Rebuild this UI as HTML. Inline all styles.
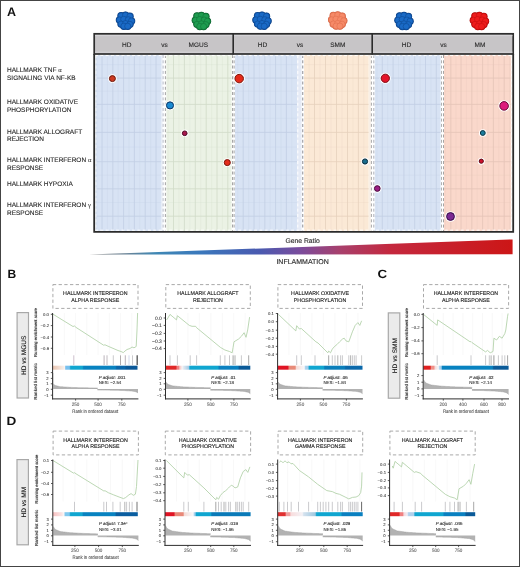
<!DOCTYPE html>
<html><head><meta charset="utf-8"><style>
html,body{margin:0;padding:0;background:#fff;}
svg{display:block;font-family:"Liberation Sans", sans-serif;will-change:transform;text-rendering:geometricPrecision;}
</style></head><body>
<svg width="520" height="567" viewBox="0 0 520 567">
<rect width="520" height="567" fill="#fff"/>
<defs><linearGradient id="wg" x1="89" y1="0" x2="513" y2="0" gradientUnits="userSpaceOnUse"><stop offset="0" stop-color="#6a6a6a"/><stop offset="0.09" stop-color="#6a8498"/><stop offset="0.155" stop-color="#4088b4"/><stop offset="0.262" stop-color="#3a78bc"/><stop offset="0.403" stop-color="#4a5ab0"/><stop offset="0.498" stop-color="#7a4c9c"/><stop offset="0.592" stop-color="#a8406c"/><stop offset="0.710" stop-color="#c4283e"/><stop offset="1" stop-color="#cc1616"/></linearGradient></defs>
<text x="7" y="16.2" font-size="12.5" text-anchor="start" font-weight="bold" font-style="normal" fill="#111">A</text>
<g fill="#0a3c80">
<circle cx="121.10" cy="15.75" r="3.75"/>
<circle cx="125.50" cy="15.25" r="3.75"/>
<circle cx="129.90" cy="16.35" r="3.75"/>
<circle cx="119.50" cy="19.95" r="3.75"/>
<circle cx="123.70" cy="19.25" r="3.75"/>
<circle cx="128.30" cy="19.75" r="3.75"/>
<circle cx="131.50" cy="20.95" r="3.75"/>
<circle cx="121.10" cy="24.05" r="3.75"/>
<circle cx="125.50" cy="23.55" r="3.75"/>
<circle cx="129.90" cy="24.35" r="3.75"/>
<circle cx="123.90" cy="26.15" r="3.75"/>
<circle cx="127.70" cy="26.25" r="3.75"/>
</g>
<g fill="#1a6ac6" stroke="#0f4f9c" stroke-width="0.7">
<circle cx="121.10" cy="15.75" r="3.05"/>
<circle cx="125.50" cy="15.25" r="3.05"/>
<circle cx="129.90" cy="16.35" r="3.05"/>
<circle cx="119.50" cy="19.95" r="3.05"/>
<circle cx="123.70" cy="19.25" r="3.05"/>
<circle cx="128.30" cy="19.75" r="3.05"/>
<circle cx="131.50" cy="20.95" r="3.05"/>
<circle cx="121.10" cy="24.05" r="3.05"/>
<circle cx="125.50" cy="23.55" r="3.05"/>
<circle cx="129.90" cy="24.35" r="3.05"/>
<circle cx="123.90" cy="26.15" r="3.05"/>
<circle cx="127.70" cy="26.25" r="3.05"/>
</g>
<g fill="#0b5a2a">
<circle cx="197.00" cy="16.00" r="3.75"/>
<circle cx="201.40" cy="15.50" r="3.75"/>
<circle cx="205.80" cy="16.60" r="3.75"/>
<circle cx="195.40" cy="20.20" r="3.75"/>
<circle cx="199.60" cy="19.50" r="3.75"/>
<circle cx="204.20" cy="20.00" r="3.75"/>
<circle cx="207.40" cy="21.20" r="3.75"/>
<circle cx="197.00" cy="24.30" r="3.75"/>
<circle cx="201.40" cy="23.80" r="3.75"/>
<circle cx="205.80" cy="24.60" r="3.75"/>
<circle cx="199.80" cy="26.40" r="3.75"/>
<circle cx="203.60" cy="26.50" r="3.75"/>
</g>
<g fill="#1e9c50" stroke="#127a3c" stroke-width="0.7">
<circle cx="197.00" cy="16.00" r="3.05"/>
<circle cx="201.40" cy="15.50" r="3.05"/>
<circle cx="205.80" cy="16.60" r="3.05"/>
<circle cx="195.40" cy="20.20" r="3.05"/>
<circle cx="199.60" cy="19.50" r="3.05"/>
<circle cx="204.20" cy="20.00" r="3.05"/>
<circle cx="207.40" cy="21.20" r="3.05"/>
<circle cx="197.00" cy="24.30" r="3.05"/>
<circle cx="201.40" cy="23.80" r="3.05"/>
<circle cx="205.80" cy="24.60" r="3.05"/>
<circle cx="199.80" cy="26.40" r="3.05"/>
<circle cx="203.60" cy="26.50" r="3.05"/>
</g>
<g fill="#0a3c80">
<circle cx="257.60" cy="15.70" r="3.75"/>
<circle cx="262.00" cy="15.20" r="3.75"/>
<circle cx="266.40" cy="16.30" r="3.75"/>
<circle cx="256.00" cy="19.90" r="3.75"/>
<circle cx="260.20" cy="19.20" r="3.75"/>
<circle cx="264.80" cy="19.70" r="3.75"/>
<circle cx="268.00" cy="20.90" r="3.75"/>
<circle cx="257.60" cy="24.00" r="3.75"/>
<circle cx="262.00" cy="23.50" r="3.75"/>
<circle cx="266.40" cy="24.30" r="3.75"/>
<circle cx="260.40" cy="26.10" r="3.75"/>
<circle cx="264.20" cy="26.20" r="3.75"/>
</g>
<g fill="#1a6ac6" stroke="#0f4f9c" stroke-width="0.7">
<circle cx="257.60" cy="15.70" r="3.05"/>
<circle cx="262.00" cy="15.20" r="3.05"/>
<circle cx="266.40" cy="16.30" r="3.05"/>
<circle cx="256.00" cy="19.90" r="3.05"/>
<circle cx="260.20" cy="19.20" r="3.05"/>
<circle cx="264.80" cy="19.70" r="3.05"/>
<circle cx="268.00" cy="20.90" r="3.05"/>
<circle cx="257.60" cy="24.00" r="3.05"/>
<circle cx="262.00" cy="23.50" r="3.05"/>
<circle cx="266.40" cy="24.30" r="3.05"/>
<circle cx="260.40" cy="26.10" r="3.05"/>
<circle cx="264.20" cy="26.20" r="3.05"/>
</g>
<g fill="#d0603f">
<circle cx="333.30" cy="15.60" r="3.75"/>
<circle cx="337.70" cy="15.10" r="3.75"/>
<circle cx="342.10" cy="16.20" r="3.75"/>
<circle cx="331.70" cy="19.80" r="3.75"/>
<circle cx="335.90" cy="19.10" r="3.75"/>
<circle cx="340.50" cy="19.60" r="3.75"/>
<circle cx="343.70" cy="20.80" r="3.75"/>
<circle cx="333.30" cy="23.90" r="3.75"/>
<circle cx="337.70" cy="23.40" r="3.75"/>
<circle cx="342.10" cy="24.20" r="3.75"/>
<circle cx="336.10" cy="26.00" r="3.75"/>
<circle cx="339.90" cy="26.10" r="3.75"/>
</g>
<g fill="#f68a68" stroke="#e47252" stroke-width="0.7">
<circle cx="333.30" cy="15.60" r="3.05"/>
<circle cx="337.70" cy="15.10" r="3.05"/>
<circle cx="342.10" cy="16.20" r="3.05"/>
<circle cx="331.70" cy="19.80" r="3.05"/>
<circle cx="335.90" cy="19.10" r="3.05"/>
<circle cx="340.50" cy="19.60" r="3.05"/>
<circle cx="343.70" cy="20.80" r="3.05"/>
<circle cx="333.30" cy="23.90" r="3.05"/>
<circle cx="337.70" cy="23.40" r="3.05"/>
<circle cx="342.10" cy="24.20" r="3.05"/>
<circle cx="336.10" cy="26.00" r="3.05"/>
<circle cx="339.90" cy="26.10" r="3.05"/>
</g>
<g fill="#0a3c80">
<circle cx="399.60" cy="16.00" r="3.75"/>
<circle cx="404.00" cy="15.50" r="3.75"/>
<circle cx="408.40" cy="16.60" r="3.75"/>
<circle cx="398.00" cy="20.20" r="3.75"/>
<circle cx="402.20" cy="19.50" r="3.75"/>
<circle cx="406.80" cy="20.00" r="3.75"/>
<circle cx="410.00" cy="21.20" r="3.75"/>
<circle cx="399.60" cy="24.30" r="3.75"/>
<circle cx="404.00" cy="23.80" r="3.75"/>
<circle cx="408.40" cy="24.60" r="3.75"/>
<circle cx="402.40" cy="26.40" r="3.75"/>
<circle cx="406.20" cy="26.50" r="3.75"/>
</g>
<g fill="#1a6ac6" stroke="#0f4f9c" stroke-width="0.7">
<circle cx="399.60" cy="16.00" r="3.05"/>
<circle cx="404.00" cy="15.50" r="3.05"/>
<circle cx="408.40" cy="16.60" r="3.05"/>
<circle cx="398.00" cy="20.20" r="3.05"/>
<circle cx="402.20" cy="19.50" r="3.05"/>
<circle cx="406.80" cy="20.00" r="3.05"/>
<circle cx="410.00" cy="21.20" r="3.05"/>
<circle cx="399.60" cy="24.30" r="3.05"/>
<circle cx="404.00" cy="23.80" r="3.05"/>
<circle cx="408.40" cy="24.60" r="3.05"/>
<circle cx="402.40" cy="26.40" r="3.05"/>
<circle cx="406.20" cy="26.50" r="3.05"/>
</g>
<g fill="#a80808">
<circle cx="475.00" cy="16.00" r="3.75"/>
<circle cx="479.40" cy="15.50" r="3.75"/>
<circle cx="483.80" cy="16.60" r="3.75"/>
<circle cx="473.40" cy="20.20" r="3.75"/>
<circle cx="477.60" cy="19.50" r="3.75"/>
<circle cx="482.20" cy="20.00" r="3.75"/>
<circle cx="485.40" cy="21.20" r="3.75"/>
<circle cx="475.00" cy="24.30" r="3.75"/>
<circle cx="479.40" cy="23.80" r="3.75"/>
<circle cx="483.80" cy="24.60" r="3.75"/>
<circle cx="477.80" cy="26.40" r="3.75"/>
<circle cx="481.60" cy="26.50" r="3.75"/>
</g>
<g fill="#ee1c1c" stroke="#cc1010" stroke-width="0.7">
<circle cx="475.00" cy="16.00" r="3.05"/>
<circle cx="479.40" cy="15.50" r="3.05"/>
<circle cx="483.80" cy="16.60" r="3.05"/>
<circle cx="473.40" cy="20.20" r="3.05"/>
<circle cx="477.60" cy="19.50" r="3.05"/>
<circle cx="482.20" cy="20.00" r="3.05"/>
<circle cx="485.40" cy="21.20" r="3.05"/>
<circle cx="475.00" cy="24.30" r="3.05"/>
<circle cx="479.40" cy="23.80" r="3.05"/>
<circle cx="483.80" cy="24.60" r="3.05"/>
<circle cx="477.80" cy="26.40" r="3.05"/>
<circle cx="481.60" cy="26.50" r="3.05"/>
</g>
<rect x="94" y="54" width="419" height="178" fill="#ffffff"/>
<rect x="297" y="55" width="4.6" height="176" fill="#e6ebf6"/>
<rect x="368.6" y="55" width="2.2" height="176" fill="#f8efe6"/>
<rect x="161.2" y="55" width="1.3" height="176" fill="#e8edf7"/>
<rect x="95.5" y="55" width="65.69999999999999" height="176" fill="#d8e3f4"/>
<line x1="107.4" y1="55" x2="107.4" y2="231" stroke="#c2cee4" stroke-width="0.45" stroke-opacity="0.55"/>
<line x1="118.19999999999999" y1="55" x2="118.19999999999999" y2="231" stroke="#c2cee4" stroke-width="0.45" stroke-opacity="0.55"/>
<line x1="129.0" y1="55" x2="129.0" y2="231" stroke="#c2cee4" stroke-width="0.45" stroke-opacity="0.55"/>
<line x1="139.8" y1="55" x2="139.8" y2="231" stroke="#c2cee4" stroke-width="0.45" stroke-opacity="0.55"/>
<line x1="150.6" y1="55" x2="150.6" y2="231" stroke="#c2cee4" stroke-width="0.45" stroke-opacity="0.55"/>
<line x1="96.6" y1="55" x2="96.6" y2="231" stroke="#c2cee4" stroke-width="0.45" stroke-opacity="0.55"/>
<line x1="95.5" y1="91.25" x2="161.2" y2="91.25" stroke="#c2cee4" stroke-width="0.45" stroke-opacity="0.5"/>
<line x1="95.5" y1="118.4" x2="161.2" y2="118.4" stroke="#c2cee4" stroke-width="0.45" stroke-opacity="0.5"/>
<line x1="95.5" y1="147.05" x2="161.2" y2="147.05" stroke="#c2cee4" stroke-width="0.45" stroke-opacity="0.5"/>
<line x1="95.5" y1="175.25" x2="161.2" y2="175.25" stroke="#c2cee4" stroke-width="0.45" stroke-opacity="0.5"/>
<line x1="95.5" y1="202.5" x2="161.2" y2="202.5" stroke="#c2cee4" stroke-width="0.45" stroke-opacity="0.5"/>
<line x1="95.5" y1="64.6" x2="161.2" y2="64.6" stroke="#c2cee4" stroke-width="0.45" stroke-opacity="0.5"/>
<line x1="102" y1="55" x2="102" y2="231" stroke="#c2cee4" stroke-width="0.8"/>
<line x1="112.8" y1="55" x2="112.8" y2="231" stroke="#c2cee4" stroke-width="0.8"/>
<line x1="123.6" y1="55" x2="123.6" y2="231" stroke="#c2cee4" stroke-width="0.8"/>
<line x1="134.4" y1="55" x2="134.4" y2="231" stroke="#c2cee4" stroke-width="0.8"/>
<line x1="145.2" y1="55" x2="145.2" y2="231" stroke="#c2cee4" stroke-width="0.8"/>
<line x1="156" y1="55" x2="156" y2="231" stroke="#c2cee4" stroke-width="0.8"/>
<line x1="95.5" y1="78.1" x2="161.2" y2="78.1" stroke="#c2cee4" stroke-width="0.8"/>
<line x1="95.5" y1="104.4" x2="161.2" y2="104.4" stroke="#c2cee4" stroke-width="0.8"/>
<line x1="95.5" y1="132.4" x2="161.2" y2="132.4" stroke="#c2cee4" stroke-width="0.8"/>
<line x1="95.5" y1="161.7" x2="161.2" y2="161.7" stroke="#c2cee4" stroke-width="0.8"/>
<line x1="95.5" y1="188.8" x2="161.2" y2="188.8" stroke="#c2cee4" stroke-width="0.8"/>
<line x1="95.5" y1="216.2" x2="161.2" y2="216.2" stroke="#c2cee4" stroke-width="0.8"/>
<rect x="166.3" y="55" width="65.29999999999998" height="176" fill="#ebf2e5"/>
<line x1="178.95" y1="55" x2="178.95" y2="231" stroke="#d0dbc8" stroke-width="0.45" stroke-opacity="0.55"/>
<line x1="189.85000000000002" y1="55" x2="189.85000000000002" y2="231" stroke="#d0dbc8" stroke-width="0.45" stroke-opacity="0.55"/>
<line x1="200.75" y1="55" x2="200.75" y2="231" stroke="#d0dbc8" stroke-width="0.45" stroke-opacity="0.55"/>
<line x1="211.6" y1="55" x2="211.6" y2="231" stroke="#d0dbc8" stroke-width="0.45" stroke-opacity="0.55"/>
<line x1="222.4" y1="55" x2="222.4" y2="231" stroke="#d0dbc8" stroke-width="0.45" stroke-opacity="0.55"/>
<line x1="168.1" y1="55" x2="168.1" y2="231" stroke="#d0dbc8" stroke-width="0.45" stroke-opacity="0.55"/>
<line x1="166.3" y1="91.25" x2="231.6" y2="91.25" stroke="#d0dbc8" stroke-width="0.45" stroke-opacity="0.5"/>
<line x1="166.3" y1="118.4" x2="231.6" y2="118.4" stroke="#d0dbc8" stroke-width="0.45" stroke-opacity="0.5"/>
<line x1="166.3" y1="147.05" x2="231.6" y2="147.05" stroke="#d0dbc8" stroke-width="0.45" stroke-opacity="0.5"/>
<line x1="166.3" y1="175.25" x2="231.6" y2="175.25" stroke="#d0dbc8" stroke-width="0.45" stroke-opacity="0.5"/>
<line x1="166.3" y1="202.5" x2="231.6" y2="202.5" stroke="#d0dbc8" stroke-width="0.45" stroke-opacity="0.5"/>
<line x1="166.3" y1="64.6" x2="231.6" y2="64.6" stroke="#d0dbc8" stroke-width="0.45" stroke-opacity="0.5"/>
<line x1="173.5" y1="55" x2="173.5" y2="231" stroke="#d0dbc8" stroke-width="0.8"/>
<line x1="184.4" y1="55" x2="184.4" y2="231" stroke="#d0dbc8" stroke-width="0.8"/>
<line x1="195.3" y1="55" x2="195.3" y2="231" stroke="#d0dbc8" stroke-width="0.8"/>
<line x1="206.2" y1="55" x2="206.2" y2="231" stroke="#d0dbc8" stroke-width="0.8"/>
<line x1="217" y1="55" x2="217" y2="231" stroke="#d0dbc8" stroke-width="0.8"/>
<line x1="227.8" y1="55" x2="227.8" y2="231" stroke="#d0dbc8" stroke-width="0.8"/>
<line x1="166.3" y1="78.1" x2="231.6" y2="78.1" stroke="#d0dbc8" stroke-width="0.8"/>
<line x1="166.3" y1="104.4" x2="231.6" y2="104.4" stroke="#d0dbc8" stroke-width="0.8"/>
<line x1="166.3" y1="132.4" x2="231.6" y2="132.4" stroke="#d0dbc8" stroke-width="0.8"/>
<line x1="166.3" y1="161.7" x2="231.6" y2="161.7" stroke="#d0dbc8" stroke-width="0.8"/>
<line x1="166.3" y1="188.8" x2="231.6" y2="188.8" stroke="#d0dbc8" stroke-width="0.8"/>
<line x1="166.3" y1="216.2" x2="231.6" y2="216.2" stroke="#d0dbc8" stroke-width="0.8"/>
<rect x="235" y="55" width="62" height="176" fill="#d8e3f4"/>
<line x1="248.6" y1="55" x2="248.6" y2="231" stroke="#c2cee4" stroke-width="0.45" stroke-opacity="0.55"/>
<line x1="259.4" y1="55" x2="259.4" y2="231" stroke="#c2cee4" stroke-width="0.45" stroke-opacity="0.55"/>
<line x1="270.20000000000005" y1="55" x2="270.20000000000005" y2="231" stroke="#c2cee4" stroke-width="0.45" stroke-opacity="0.55"/>
<line x1="281.0" y1="55" x2="281.0" y2="231" stroke="#c2cee4" stroke-width="0.45" stroke-opacity="0.55"/>
<line x1="237.79999999999998" y1="55" x2="237.79999999999998" y2="231" stroke="#c2cee4" stroke-width="0.45" stroke-opacity="0.55"/>
<line x1="291.79999999999995" y1="55" x2="291.79999999999995" y2="231" stroke="#c2cee4" stroke-width="0.45" stroke-opacity="0.55"/>
<line x1="235" y1="91.25" x2="297" y2="91.25" stroke="#c2cee4" stroke-width="0.45" stroke-opacity="0.5"/>
<line x1="235" y1="118.4" x2="297" y2="118.4" stroke="#c2cee4" stroke-width="0.45" stroke-opacity="0.5"/>
<line x1="235" y1="147.05" x2="297" y2="147.05" stroke="#c2cee4" stroke-width="0.45" stroke-opacity="0.5"/>
<line x1="235" y1="175.25" x2="297" y2="175.25" stroke="#c2cee4" stroke-width="0.45" stroke-opacity="0.5"/>
<line x1="235" y1="202.5" x2="297" y2="202.5" stroke="#c2cee4" stroke-width="0.45" stroke-opacity="0.5"/>
<line x1="235" y1="64.6" x2="297" y2="64.6" stroke="#c2cee4" stroke-width="0.45" stroke-opacity="0.5"/>
<line x1="243.2" y1="55" x2="243.2" y2="231" stroke="#c2cee4" stroke-width="0.8"/>
<line x1="254" y1="55" x2="254" y2="231" stroke="#c2cee4" stroke-width="0.8"/>
<line x1="264.8" y1="55" x2="264.8" y2="231" stroke="#c2cee4" stroke-width="0.8"/>
<line x1="275.6" y1="55" x2="275.6" y2="231" stroke="#c2cee4" stroke-width="0.8"/>
<line x1="286.4" y1="55" x2="286.4" y2="231" stroke="#c2cee4" stroke-width="0.8"/>
<line x1="235" y1="78.1" x2="297" y2="78.1" stroke="#c2cee4" stroke-width="0.8"/>
<line x1="235" y1="104.4" x2="297" y2="104.4" stroke="#c2cee4" stroke-width="0.8"/>
<line x1="235" y1="132.4" x2="297" y2="132.4" stroke="#c2cee4" stroke-width="0.8"/>
<line x1="235" y1="161.7" x2="297" y2="161.7" stroke="#c2cee4" stroke-width="0.8"/>
<line x1="235" y1="188.8" x2="297" y2="188.8" stroke="#c2cee4" stroke-width="0.8"/>
<line x1="235" y1="216.2" x2="297" y2="216.2" stroke="#c2cee4" stroke-width="0.8"/>
<rect x="304" y="55" width="64.60000000000002" height="176" fill="#fbe9d6"/>
<line x1="320.0" y1="55" x2="320.0" y2="231" stroke="#e6d0bc" stroke-width="0.45" stroke-opacity="0.55"/>
<line x1="331.0" y1="55" x2="331.0" y2="231" stroke="#e6d0bc" stroke-width="0.45" stroke-opacity="0.55"/>
<line x1="342.0" y1="55" x2="342.0" y2="231" stroke="#e6d0bc" stroke-width="0.45" stroke-opacity="0.55"/>
<line x1="352.95" y1="55" x2="352.95" y2="231" stroke="#e6d0bc" stroke-width="0.45" stroke-opacity="0.55"/>
<line x1="309.1" y1="55" x2="309.1" y2="231" stroke="#e6d0bc" stroke-width="0.45" stroke-opacity="0.55"/>
<line x1="363.79999999999995" y1="55" x2="363.79999999999995" y2="231" stroke="#e6d0bc" stroke-width="0.45" stroke-opacity="0.55"/>
<line x1="304" y1="91.25" x2="368.6" y2="91.25" stroke="#e6d0bc" stroke-width="0.45" stroke-opacity="0.5"/>
<line x1="304" y1="118.4" x2="368.6" y2="118.4" stroke="#e6d0bc" stroke-width="0.45" stroke-opacity="0.5"/>
<line x1="304" y1="147.05" x2="368.6" y2="147.05" stroke="#e6d0bc" stroke-width="0.45" stroke-opacity="0.5"/>
<line x1="304" y1="175.25" x2="368.6" y2="175.25" stroke="#e6d0bc" stroke-width="0.45" stroke-opacity="0.5"/>
<line x1="304" y1="202.5" x2="368.6" y2="202.5" stroke="#e6d0bc" stroke-width="0.45" stroke-opacity="0.5"/>
<line x1="304" y1="64.6" x2="368.6" y2="64.6" stroke="#e6d0bc" stroke-width="0.45" stroke-opacity="0.5"/>
<line x1="314.5" y1="55" x2="314.5" y2="231" stroke="#e6d0bc" stroke-width="0.8"/>
<line x1="325.5" y1="55" x2="325.5" y2="231" stroke="#e6d0bc" stroke-width="0.8"/>
<line x1="336.5" y1="55" x2="336.5" y2="231" stroke="#e6d0bc" stroke-width="0.8"/>
<line x1="347.5" y1="55" x2="347.5" y2="231" stroke="#e6d0bc" stroke-width="0.8"/>
<line x1="358.4" y1="55" x2="358.4" y2="231" stroke="#e6d0bc" stroke-width="0.8"/>
<line x1="304" y1="78.1" x2="368.6" y2="78.1" stroke="#e6d0bc" stroke-width="0.8"/>
<line x1="304" y1="104.4" x2="368.6" y2="104.4" stroke="#e6d0bc" stroke-width="0.8"/>
<line x1="304" y1="132.4" x2="368.6" y2="132.4" stroke="#e6d0bc" stroke-width="0.8"/>
<line x1="304" y1="161.7" x2="368.6" y2="161.7" stroke="#e6d0bc" stroke-width="0.8"/>
<line x1="304" y1="188.8" x2="368.6" y2="188.8" stroke="#e6d0bc" stroke-width="0.8"/>
<line x1="304" y1="216.2" x2="368.6" y2="216.2" stroke="#e6d0bc" stroke-width="0.8"/>
<rect x="374.8" y="55" width="65.80000000000001" height="176" fill="#d8e3f4"/>
<line x1="387.70000000000005" y1="55" x2="387.70000000000005" y2="231" stroke="#c2cee4" stroke-width="0.45" stroke-opacity="0.55"/>
<line x1="398.5" y1="55" x2="398.5" y2="231" stroke="#c2cee4" stroke-width="0.45" stroke-opacity="0.55"/>
<line x1="409.29999999999995" y1="55" x2="409.29999999999995" y2="231" stroke="#c2cee4" stroke-width="0.45" stroke-opacity="0.55"/>
<line x1="420.1" y1="55" x2="420.1" y2="231" stroke="#c2cee4" stroke-width="0.45" stroke-opacity="0.55"/>
<line x1="430.9" y1="55" x2="430.9" y2="231" stroke="#c2cee4" stroke-width="0.45" stroke-opacity="0.55"/>
<line x1="376.90000000000003" y1="55" x2="376.90000000000003" y2="231" stroke="#c2cee4" stroke-width="0.45" stroke-opacity="0.55"/>
<line x1="374.8" y1="91.25" x2="440.6" y2="91.25" stroke="#c2cee4" stroke-width="0.45" stroke-opacity="0.5"/>
<line x1="374.8" y1="118.4" x2="440.6" y2="118.4" stroke="#c2cee4" stroke-width="0.45" stroke-opacity="0.5"/>
<line x1="374.8" y1="147.05" x2="440.6" y2="147.05" stroke="#c2cee4" stroke-width="0.45" stroke-opacity="0.5"/>
<line x1="374.8" y1="175.25" x2="440.6" y2="175.25" stroke="#c2cee4" stroke-width="0.45" stroke-opacity="0.5"/>
<line x1="374.8" y1="202.5" x2="440.6" y2="202.5" stroke="#c2cee4" stroke-width="0.45" stroke-opacity="0.5"/>
<line x1="374.8" y1="64.6" x2="440.6" y2="64.6" stroke="#c2cee4" stroke-width="0.45" stroke-opacity="0.5"/>
<line x1="382.3" y1="55" x2="382.3" y2="231" stroke="#c2cee4" stroke-width="0.8"/>
<line x1="393.1" y1="55" x2="393.1" y2="231" stroke="#c2cee4" stroke-width="0.8"/>
<line x1="403.9" y1="55" x2="403.9" y2="231" stroke="#c2cee4" stroke-width="0.8"/>
<line x1="414.7" y1="55" x2="414.7" y2="231" stroke="#c2cee4" stroke-width="0.8"/>
<line x1="425.5" y1="55" x2="425.5" y2="231" stroke="#c2cee4" stroke-width="0.8"/>
<line x1="436.3" y1="55" x2="436.3" y2="231" stroke="#c2cee4" stroke-width="0.8"/>
<line x1="374.8" y1="78.1" x2="440.6" y2="78.1" stroke="#c2cee4" stroke-width="0.8"/>
<line x1="374.8" y1="104.4" x2="440.6" y2="104.4" stroke="#c2cee4" stroke-width="0.8"/>
<line x1="374.8" y1="132.4" x2="440.6" y2="132.4" stroke="#c2cee4" stroke-width="0.8"/>
<line x1="374.8" y1="161.7" x2="440.6" y2="161.7" stroke="#c2cee4" stroke-width="0.8"/>
<line x1="374.8" y1="188.8" x2="440.6" y2="188.8" stroke="#c2cee4" stroke-width="0.8"/>
<line x1="374.8" y1="216.2" x2="440.6" y2="216.2" stroke="#c2cee4" stroke-width="0.8"/>
<rect x="444" y="55" width="67" height="176" fill="#fad8cb"/>
<line x1="455.9" y1="55" x2="455.9" y2="231" stroke="#e4c4b8" stroke-width="0.45" stroke-opacity="0.55"/>
<line x1="466.4" y1="55" x2="466.4" y2="231" stroke="#e4c4b8" stroke-width="0.45" stroke-opacity="0.55"/>
<line x1="477.20000000000005" y1="55" x2="477.20000000000005" y2="231" stroke="#e4c4b8" stroke-width="0.45" stroke-opacity="0.55"/>
<line x1="488.0" y1="55" x2="488.0" y2="231" stroke="#e4c4b8" stroke-width="0.45" stroke-opacity="0.55"/>
<line x1="498.79999999999995" y1="55" x2="498.79999999999995" y2="231" stroke="#e4c4b8" stroke-width="0.45" stroke-opacity="0.55"/>
<line x1="445.40000000000003" y1="55" x2="445.40000000000003" y2="231" stroke="#e4c4b8" stroke-width="0.45" stroke-opacity="0.55"/>
<line x1="509.59999999999997" y1="55" x2="509.59999999999997" y2="231" stroke="#e4c4b8" stroke-width="0.45" stroke-opacity="0.55"/>
<line x1="444" y1="91.25" x2="511" y2="91.25" stroke="#e4c4b8" stroke-width="0.45" stroke-opacity="0.5"/>
<line x1="444" y1="118.4" x2="511" y2="118.4" stroke="#e4c4b8" stroke-width="0.45" stroke-opacity="0.5"/>
<line x1="444" y1="147.05" x2="511" y2="147.05" stroke="#e4c4b8" stroke-width="0.45" stroke-opacity="0.5"/>
<line x1="444" y1="175.25" x2="511" y2="175.25" stroke="#e4c4b8" stroke-width="0.45" stroke-opacity="0.5"/>
<line x1="444" y1="202.5" x2="511" y2="202.5" stroke="#e4c4b8" stroke-width="0.45" stroke-opacity="0.5"/>
<line x1="444" y1="64.6" x2="511" y2="64.6" stroke="#e4c4b8" stroke-width="0.45" stroke-opacity="0.5"/>
<line x1="450.8" y1="55" x2="450.8" y2="231" stroke="#e4c4b8" stroke-width="0.8"/>
<line x1="461" y1="55" x2="461" y2="231" stroke="#e4c4b8" stroke-width="0.8"/>
<line x1="471.8" y1="55" x2="471.8" y2="231" stroke="#e4c4b8" stroke-width="0.8"/>
<line x1="482.6" y1="55" x2="482.6" y2="231" stroke="#e4c4b8" stroke-width="0.8"/>
<line x1="493.4" y1="55" x2="493.4" y2="231" stroke="#e4c4b8" stroke-width="0.8"/>
<line x1="504.2" y1="55" x2="504.2" y2="231" stroke="#e4c4b8" stroke-width="0.8"/>
<line x1="444" y1="78.1" x2="511" y2="78.1" stroke="#e4c4b8" stroke-width="0.8"/>
<line x1="444" y1="104.4" x2="511" y2="104.4" stroke="#e4c4b8" stroke-width="0.8"/>
<line x1="444" y1="132.4" x2="511" y2="132.4" stroke="#e4c4b8" stroke-width="0.8"/>
<line x1="444" y1="161.7" x2="511" y2="161.7" stroke="#e4c4b8" stroke-width="0.8"/>
<line x1="444" y1="188.8" x2="511" y2="188.8" stroke="#e4c4b8" stroke-width="0.8"/>
<line x1="444" y1="216.2" x2="511" y2="216.2" stroke="#e4c4b8" stroke-width="0.8"/>
<line x1="163.1" y1="55" x2="163.1" y2="231" stroke="#b8bdc9" stroke-width="1" stroke-dasharray="3 2.3"/>
<line x1="165.4" y1="55" x2="165.4" y2="231" stroke="#a4a4a4" stroke-width="1" stroke-dasharray="3 2.3"/>
<line x1="232.6" y1="55" x2="232.6" y2="231" stroke="#a6a6a6" stroke-width="1.2" stroke-dasharray="3 2.3"/>
<line x1="234.2" y1="55" x2="234.2" y2="231" stroke="#b0b0b0" stroke-width="1" stroke-dasharray="3 2.3"/>
<line x1="297.8" y1="55" x2="297.8" y2="231" stroke="#ffffff" stroke-width="1" stroke-dasharray="3 2.3"/>
<line x1="302.7" y1="55" x2="302.7" y2="231" stroke="#a0a2a8" stroke-width="1.2" stroke-dasharray="3 2.3"/>
<line x1="371.4" y1="55" x2="371.4" y2="231" stroke="#a8a8a8" stroke-width="1" stroke-dasharray="3 2.3"/>
<line x1="373.8" y1="55" x2="373.8" y2="231" stroke="#aeb0b8" stroke-width="1" stroke-dasharray="3 2.3"/>
<line x1="441.5" y1="55" x2="441.5" y2="231" stroke="#b0b0b0" stroke-width="1" stroke-dasharray="3 2.3"/>
<line x1="443.5" y1="55" x2="443.5" y2="231" stroke="#a4a4a4" stroke-width="1" stroke-dasharray="3 2.3"/>
<line x1="95.8" y1="55" x2="95.8" y2="231" stroke="#ffffff" stroke-width="1" stroke-dasharray="3 2.3"/>
<line x1="511.3" y1="55" x2="511.3" y2="231" stroke="#fbf4ee" stroke-width="1" stroke-dasharray="3 2.3"/>
<line x1="95" y1="230.2" x2="512" y2="230.2" stroke="#ffffff" stroke-width="1" stroke-dasharray="3 2.3"/>
<line x1="95" y1="55.6" x2="512" y2="55.6" stroke="#ffffff" stroke-width="1" stroke-dasharray="3 2.3"/>
<path d="M94.2,54 V231.8 H513.2 V54" fill="none" stroke="#2b2b2b" stroke-width="1.8"/>
<rect x="94.2" y="33.8" width="419" height="20.2" fill="#c7c5c7" stroke="#2e2e2e" stroke-width="1.7"/>
<line x1="95" y1="35.6" x2="512.4" y2="35.6" stroke="#d6d4d8" stroke-width="1"/>
<line x1="95" y1="52.2" x2="512.4" y2="52.2" stroke="#d6d4d8" stroke-width="1"/>
<line x1="233.2" y1="33" x2="233.2" y2="54.5" stroke="#2b2b2b" stroke-width="1.6"/>
<line x1="372.2" y1="33" x2="372.2" y2="54.5" stroke="#2b2b2b" stroke-width="1.6"/>
<text x="126.8" y="46.8" font-size="6.5" text-anchor="middle" font-weight="normal" font-style="normal" fill="#2a2a2a" stroke="#2a2a2a" stroke-width="0.117">HD</text>
<text x="164.6" y="46.8" font-size="6.5" text-anchor="middle" font-weight="normal" font-style="normal" fill="#2a2a2a" stroke="#2a2a2a" stroke-width="0.117">vs</text>
<text x="198.3" y="46.8" font-size="6.5" text-anchor="middle" font-weight="normal" font-style="normal" fill="#2a2a2a" stroke="#2a2a2a" stroke-width="0.117">MGUS</text>
<text x="262.5" y="46.8" font-size="6.5" text-anchor="middle" font-weight="normal" font-style="normal" fill="#2a2a2a" stroke="#2a2a2a" stroke-width="0.117">HD</text>
<text x="300" y="46.8" font-size="6.5" text-anchor="middle" font-weight="normal" font-style="normal" fill="#2a2a2a" stroke="#2a2a2a" stroke-width="0.117">vs</text>
<text x="337.8" y="46.8" font-size="6.5" text-anchor="middle" font-weight="normal" font-style="normal" fill="#2a2a2a" stroke="#2a2a2a" stroke-width="0.117">SMM</text>
<text x="406.5" y="46.8" font-size="6.5" text-anchor="middle" font-weight="normal" font-style="normal" fill="#2a2a2a" stroke="#2a2a2a" stroke-width="0.117">HD</text>
<text x="443.5" y="46.8" font-size="6.5" text-anchor="middle" font-weight="normal" font-style="normal" fill="#2a2a2a" stroke="#2a2a2a" stroke-width="0.117">vs</text>
<text x="480" y="46.8" font-size="6.5" text-anchor="middle" font-weight="normal" font-style="normal" fill="#2a2a2a" stroke="#2a2a2a" stroke-width="0.117">MM</text>
<text x="7" y="72.4" font-size="6.5" text-anchor="start" font-weight="normal" font-style="normal" fill="#2a2a2a" stroke="#2a2a2a" stroke-width="0.117">HALLMARK TNF <tspan font-family="Liberation Serif" fill="#555">&#945;</tspan></text>
<text x="7" y="80.2" font-size="6.5" text-anchor="start" font-weight="normal" font-style="normal" fill="#2a2a2a" stroke="#2a2a2a" stroke-width="0.117">SIGNALING VIA NF-KB</text>
<text x="7" y="104.0" font-size="6.5" text-anchor="start" font-weight="normal" font-style="normal" fill="#2a2a2a" stroke="#2a2a2a" stroke-width="0.117">HALLMARK OXIDATIVE</text>
<text x="7" y="111.8" font-size="6.5" text-anchor="start" font-weight="normal" font-style="normal" fill="#2a2a2a" stroke="#2a2a2a" stroke-width="0.117">PHOSPHORYLATION</text>
<text x="7" y="133.6" font-size="6.5" text-anchor="start" font-weight="normal" font-style="normal" fill="#2a2a2a" stroke="#2a2a2a" stroke-width="0.117">HALLMARK ALLOGRAFT</text>
<text x="7" y="141.4" font-size="6.5" text-anchor="start" font-weight="normal" font-style="normal" fill="#2a2a2a" stroke="#2a2a2a" stroke-width="0.117">REJECTION</text>
<text x="7" y="162.4" font-size="6.5" text-anchor="start" font-weight="normal" font-style="normal" fill="#2a2a2a" stroke="#2a2a2a" stroke-width="0.117">HALLMARK INTERFERON <tspan font-family="Liberation Serif" fill="#555">&#945;</tspan></text>
<text x="7" y="170.20000000000002" font-size="6.5" text-anchor="start" font-weight="normal" font-style="normal" fill="#2a2a2a" stroke="#2a2a2a" stroke-width="0.117">RESPONSE</text>
<text x="7" y="186.1" font-size="6.5" text-anchor="start" font-weight="normal" font-style="normal" fill="#2a2a2a" stroke="#2a2a2a" stroke-width="0.117">HALLMARK HYPOXIA</text>
<text x="7" y="206.8" font-size="6.5" text-anchor="start" font-weight="normal" font-style="normal" fill="#2a2a2a" stroke="#2a2a2a" stroke-width="0.117">HALLMARK INTERFERON <tspan font-family="Liberation Serif" fill="#555">&#947;</tspan></text>
<text x="7" y="214.60000000000002" font-size="6.5" text-anchor="start" font-weight="normal" font-style="normal" fill="#2a2a2a" stroke="#2a2a2a" stroke-width="0.117">RESPONSE</text>
<circle cx="112.4" cy="78.6" r="4.4" fill="#ffffff"/>
<circle cx="112.4" cy="78.6" r="3.0" fill="#cc3a22" stroke="#6a180c" stroke-width="1.0"/>
<circle cx="239.2" cy="78.6" r="5.65" fill="#ffffff"/>
<circle cx="239.2" cy="78.6" r="4.25" fill="#e42a1a" stroke="#7a140a" stroke-width="1.0"/>
<circle cx="385.3" cy="78.3" r="5.550000000000001" fill="#ffffff"/>
<circle cx="385.3" cy="78.3" r="4.15" fill="#e4142a" stroke="#7a0a14" stroke-width="1.0"/>
<circle cx="170.0" cy="105.4" r="4.949999999999999" fill="#ffffff"/>
<circle cx="170.0" cy="105.4" r="3.55" fill="#1a8ad2" stroke="#0a3462" stroke-width="1.0"/>
<circle cx="504.1" cy="105.9" r="5.699999999999999" fill="#ffffff"/>
<circle cx="504.1" cy="105.9" r="4.3" fill="#dc1c7c" stroke="#6a0a36" stroke-width="1.0"/>
<circle cx="184.7" cy="133.3" r="3.75" fill="#ffffff"/>
<circle cx="184.7" cy="133.3" r="2.35" fill="#a8184e" stroke="#500a26" stroke-width="1.0"/>
<circle cx="482.8" cy="133.0" r="3.85" fill="#ffffff"/>
<circle cx="482.8" cy="133.0" r="2.45" fill="#1a7c9c" stroke="#0a3444" stroke-width="1.0"/>
<circle cx="227.3" cy="162.6" r="4.449999999999999" fill="#ffffff"/>
<circle cx="227.3" cy="162.6" r="3.05" fill="#e42c1c" stroke="#7a1408" stroke-width="1.0"/>
<circle cx="365.0" cy="161.5" r="4.0" fill="#ffffff"/>
<circle cx="365.0" cy="161.5" r="2.6" fill="#1a6c8c" stroke="#0a2c3c" stroke-width="1.0"/>
<circle cx="481.3" cy="161.2" r="3.5" fill="#ffffff"/>
<circle cx="481.3" cy="161.2" r="2.1" fill="#cc102c" stroke="#600814" stroke-width="1.0"/>
<circle cx="377.3" cy="188.5" r="4.25" fill="#ffffff"/>
<circle cx="377.3" cy="188.5" r="2.85" fill="#9c2084" stroke="#46083c" stroke-width="1.0"/>
<circle cx="450.5" cy="216.5" r="5.3" fill="#ffffff"/>
<circle cx="450.5" cy="216.5" r="3.9" fill="#7c2a94" stroke="#360a44" stroke-width="1.0"/>
<polygon points="89.00,254.60 512.60,239.40 512.60,254.20" fill="url(#wg)"/>
<text x="302.6" y="242.8" font-size="6.8" text-anchor="middle" font-weight="normal" font-style="normal" fill="#2a2a2a" stroke="#2a2a2a" stroke-width="0.122">Gene Ratio</text>
<text x="302.6" y="263.6" font-size="7.0" text-anchor="middle" font-weight="normal" font-style="normal" fill="#2a2a2a" stroke="#2a2a2a" stroke-width="0.126">INFLAMMATION</text>
<text x="7.4" y="278.2" font-size="12" text-anchor="start" font-weight="bold" font-style="normal" fill="#111">B</text>
<text x="377.4" y="278.2" font-size="12" text-anchor="start" font-weight="bold" font-style="normal" fill="#111" textLength="9.6" lengthAdjust="spacingAndGlyphs">C</text>
<text x="6.6" y="424.6" font-size="12" text-anchor="start" font-weight="bold" font-style="normal" fill="#111" textLength="9.8" lengthAdjust="spacingAndGlyphs">D</text>
<rect x="17.1" y="312.6" width="11.399999999999999" height="85.39999999999998" fill="#ebebeb" stroke="#a8a8a8" stroke-width="1.2"/>
<text x="25.900000000000002" y="355.3" font-size="6.6" text-anchor="middle" font-weight="normal" font-style="normal" fill="#1a1a1a" stroke="#1a1a1a" stroke-width="0.1" transform="rotate(-90 25.900000000000002 355.3)">HD vs MGUS</text>
<rect x="388.3" y="312.9" width="11.5" height="85.30000000000001" fill="#ebebeb" stroke="#a8a8a8" stroke-width="1.2"/>
<text x="397.15000000000003" y="355.54999999999995" font-size="6.6" text-anchor="middle" font-weight="normal" font-style="normal" fill="#1a1a1a" stroke="#1a1a1a" stroke-width="0.1" transform="rotate(-90 397.15000000000003 355.54999999999995)">HD vs SMM</text>
<rect x="17.0" y="459.6" width="11.399999999999999" height="85.19999999999993" fill="#ebebeb" stroke="#a8a8a8" stroke-width="1.2"/>
<text x="25.8" y="502.2" font-size="6.6" text-anchor="middle" font-weight="normal" font-style="normal" fill="#1a1a1a" stroke="#1a1a1a" stroke-width="0.1" transform="rotate(-90 25.8 502.2)">HD vs MM</text>
<rect x="52.9" y="284.6" width="85.10000000000001" height="23.8" fill="none" stroke="#9a9a9a" stroke-width="0.85" stroke-dasharray="3.3 2.4"/>
<text x="95.3" y="295.2" font-size="5.3" text-anchor="middle" font-weight="normal" font-style="normal" fill="#222" stroke="#222" stroke-width="0.12">HALLMARK INTERFERON</text>
<text x="95.3" y="301.6" font-size="5.3" text-anchor="middle" font-weight="normal" font-style="normal" fill="#222" stroke="#222" stroke-width="0.12">ALPHA RESPONSE</text>
<line x1="64.35" y1="313" x2="64.35" y2="355" stroke="#f6f6f6" stroke-width="0.8"/>
<line x1="75.6" y1="313" x2="75.6" y2="355" stroke="#f6f6f6" stroke-width="0.8"/>
<line x1="86.85" y1="313" x2="86.85" y2="355" stroke="#f6f6f6" stroke-width="0.8"/>
<line x1="98.1" y1="313" x2="98.1" y2="355" stroke="#f6f6f6" stroke-width="0.8"/>
<line x1="109.35" y1="313" x2="109.35" y2="355" stroke="#f6f6f6" stroke-width="0.8"/>
<line x1="120.6" y1="313" x2="120.6" y2="355" stroke="#f6f6f6" stroke-width="0.8"/>
<line x1="131.85" y1="313" x2="131.85" y2="355" stroke="#f6f6f6" stroke-width="0.8"/>
<line x1="50.800000000000004" y1="314.3" x2="52.6" y2="314.3" stroke="#333" stroke-width="0.8"/>
<text x="49.0" y="315.83" font-size="4.25" text-anchor="end" font-weight="normal" font-style="normal" fill="#3a3a3a" stroke="#3a3a3a" stroke-width="0.076">0.0</text>
<line x1="50.800000000000004" y1="325.6" x2="52.6" y2="325.6" stroke="#333" stroke-width="0.8"/>
<text x="49.0" y="327.13" font-size="4.25" text-anchor="end" font-weight="normal" font-style="normal" fill="#3a3a3a" stroke="#3a3a3a" stroke-width="0.076">&#8722;0.2</text>
<line x1="50.800000000000004" y1="337.0" x2="52.6" y2="337.0" stroke="#333" stroke-width="0.8"/>
<text x="49.0" y="338.53" font-size="4.25" text-anchor="end" font-weight="normal" font-style="normal" fill="#3a3a3a" stroke="#3a3a3a" stroke-width="0.076">&#8722;0.4</text>
<line x1="50.800000000000004" y1="348.3" x2="52.6" y2="348.3" stroke="#333" stroke-width="0.8"/>
<text x="49.0" y="349.83" font-size="4.25" text-anchor="end" font-weight="normal" font-style="normal" fill="#3a3a3a" stroke="#3a3a3a" stroke-width="0.076">&#8722;0.6</text>
<polyline points="53.00,314.20 73.00,326.50 74.50,326.00 76.00,327.40 103.60,345.20 105.00,344.80 108.00,346.20 118.00,350.50 121.00,351.50 123.30,352.60 125.00,351.00 127.00,349.50 130.00,348.50 132.00,347.00 134.00,347.80 136.20,346.50 137.00,330.00 137.60,313.00" fill="none" stroke="#b0d0a6" stroke-width="0.85" stroke-linejoin="round"/>
<line x1="73.8" y1="355.3" x2="73.8" y2="365" stroke="#c0b0c0" stroke-width="0.8"/>
<line x1="104.1" y1="355.3" x2="104.1" y2="365" stroke="#a8a0a8" stroke-width="0.8"/>
<line x1="107" y1="355.3" x2="107" y2="365" stroke="#b0a8b0" stroke-width="0.8"/>
<line x1="113.3" y1="355.3" x2="113.3" y2="365" stroke="#bcbcc0" stroke-width="0.8"/>
<line x1="120.5" y1="355.3" x2="120.5" y2="365" stroke="#a09898" stroke-width="0.8"/>
<line x1="125.3" y1="355.3" x2="125.3" y2="365" stroke="#a8a0a8" stroke-width="0.8"/>
<line x1="129" y1="355.3" x2="129" y2="365" stroke="#c8d0e8" stroke-width="0.8"/>
<line x1="132.5" y1="355.3" x2="132.5" y2="365" stroke="#bcbcc0" stroke-width="0.8"/>
<line x1="136.9" y1="355.3" x2="136.9" y2="365" stroke="#585858" stroke-width="0.8"/>
<line x1="137.5" y1="355.3" x2="137.5" y2="365" stroke="#585858" stroke-width="0.8"/>
<linearGradient id="cb428" gradientUnits="userSpaceOnUse" x1="52.6" x2="137.5" y1="0" y2="0"><stop offset="0.0000" stop-color="#eac4b0"/><stop offset="0.1260" stop-color="#f6ece6"/><stop offset="0.1382" stop-color="#fbf2ee"/><stop offset="0.1421" stop-color="#fbf2ee"/><stop offset="0.1543" stop-color="#78c0ee"/><stop offset="0.1967" stop-color="#78c0ee"/><stop offset="0.2132" stop-color="#10a6d0"/><stop offset="0.3498" stop-color="#10a6d0"/><stop offset="0.3663" stop-color="#0882c0"/><stop offset="0.7385" stop-color="#0882c0"/><stop offset="0.7550" stop-color="#0a66aa"/><stop offset="0.8504" stop-color="#0a66aa"/><stop offset="0.8669" stop-color="#0a5898"/><stop offset="1.0000" stop-color="#0a5898"/></linearGradient>
<rect x="52.6" y="365.7" width="84.9" height="4.0" fill="url(#cb428)"/>
<polygon points="53.10,389.00 53.10,373.00 53.10,383.67 53.12,383.69 53.16,383.73 53.22,383.79 53.29,383.86 53.38,383.95 53.47,384.04 53.57,384.15 53.69,384.26 53.81,384.38 53.94,384.51 54.07,384.65 54.22,384.80 54.37,384.96 54.53,385.04 54.70,385.12 54.87,385.21 55.05,385.29 55.24,385.38 55.44,385.48 55.64,385.57 55.84,385.63 56.05,385.68 56.27,385.74 56.49,385.79 56.72,385.85 56.96,385.91 57.20,385.97 57.44,386.03 57.69,386.09 57.95,386.15 58.21,386.21 58.48,386.28 58.75,386.35 59.03,386.41 59.31,386.48 59.59,386.55 59.88,386.63 60.18,386.66 60.48,386.68 60.79,386.70 61.10,386.73 61.41,386.75 61.73,386.77 62.05,386.80 62.38,386.82 62.71,386.84 63.05,386.87 63.39,386.89 63.73,386.92 64.08,386.94 64.44,386.97 64.79,386.99 65.16,387.02 65.52,387.05 65.89,387.07 66.27,387.10 66.64,387.13 67.03,387.16 67.41,387.18 67.80,387.21 68.20,387.24 68.60,387.27 69.00,387.30 69.40,387.33 69.81,387.34 70.23,387.36 70.64,387.37 71.06,387.39 71.49,387.40 71.92,387.42 72.35,387.43 72.78,387.45 73.22,387.46 73.67,387.48 74.11,387.50 74.56,387.51 75.02,387.53 75.47,387.55 75.93,387.56 76.40,387.58 76.87,387.60 77.34,387.61 77.81,387.63 78.29,387.65 78.77,387.67 79.26,387.68 79.74,387.70 80.24,387.71 80.73,387.72 81.23,387.73 81.73,387.74 82.24,387.75 82.74,387.76 83.26,387.77 83.77,387.78 84.29,387.79 84.81,387.80 85.34,387.82 85.86,387.83 86.39,387.84 86.93,387.85 87.47,387.86 88.01,387.87 88.55,387.88 89.10,387.89 89.65,387.90 90.20,387.92 90.76,387.93 91.32,387.94 91.88,387.95 92.45,387.96 93.01,387.97 93.59,387.99 94.16,388.00 94.74,388.01 95.32,388.02 95.90,388.03 96.49,388.05 97.08,388.06 97.67,388.07 97.44,389.00" fill="#b2b2b2"/>
<polyline points="53.10,373.00 53.10,383.67 53.12,383.69 53.16,383.73 53.22,383.79 53.29,383.86 53.38,383.95 53.47,384.04 53.57,384.15 53.69,384.26 53.81,384.38 53.94,384.51 54.07,384.65 54.22,384.80 54.37,384.96 54.53,385.04 54.70,385.12 54.87,385.21 55.05,385.29 55.24,385.38 55.44,385.48 55.64,385.57 55.84,385.63 56.05,385.68 56.27,385.74 56.49,385.79 56.72,385.85 56.96,385.91 57.20,385.97 57.44,386.03 57.69,386.09 57.95,386.15 58.21,386.21 58.48,386.28 58.75,386.35 59.03,386.41 59.31,386.48 59.59,386.55 59.88,386.63 60.18,386.66 60.48,386.68 60.79,386.70 61.10,386.73 61.41,386.75 61.73,386.77 62.05,386.80 62.38,386.82 62.71,386.84 63.05,386.87 63.39,386.89 63.73,386.92 64.08,386.94 64.44,386.97 64.79,386.99 65.16,387.02 65.52,387.05 65.89,387.07 66.27,387.10 66.64,387.13 67.03,387.16 67.41,387.18 67.80,387.21 68.20,387.24 68.60,387.27 69.00,387.30 69.40,387.33 69.81,387.34 70.23,387.36 70.64,387.37 71.06,387.39 71.49,387.40 71.92,387.42 72.35,387.43 72.78,387.45 73.22,387.46 73.67,387.48 74.11,387.50 74.56,387.51 75.02,387.53 75.47,387.55 75.93,387.56 76.40,387.58 76.87,387.60 77.34,387.61 77.81,387.63 78.29,387.65 78.77,387.67 79.26,387.68 79.74,387.70 80.24,387.71 80.73,387.72 81.23,387.73 81.73,387.74 82.24,387.75 82.74,387.76 83.26,387.77 83.77,387.78 84.29,387.79 84.81,387.80 85.34,387.82 85.86,387.83 86.39,387.84 86.93,387.85 87.47,387.86 88.01,387.87 88.55,387.88 89.10,387.89 89.65,387.90 90.20,387.92 90.76,387.93 91.32,387.94 91.88,387.95 92.45,387.96 93.01,387.97 93.59,387.99 94.16,388.00 94.74,388.01 95.32,388.02 95.90,388.03 96.49,388.05 97.08,388.06 97.67,388.07" fill="none" stroke="#9a9a9a" stroke-width="0.5" stroke-linejoin="round"/>
<polygon points="97.44,389.00 97.44,389.98 97.77,389.98 98.11,389.98 98.45,389.99 98.79,389.99 99.13,390.00 99.46,390.00 99.80,390.00 100.14,390.01 100.48,390.01 100.82,390.02 101.15,390.02 101.49,390.02 101.83,390.03 102.17,390.03 102.51,390.04 102.84,390.04 103.18,390.05 103.52,390.05 103.86,390.05 104.20,390.06 104.53,390.06 104.87,390.07 105.21,390.07 105.55,390.07 105.89,390.08 106.22,390.08 106.56,390.09 106.90,390.09 107.24,390.10 107.58,390.10 107.91,390.10 108.25,390.11 108.59,390.11 108.93,390.12 109.27,390.12 109.60,390.12 109.94,390.13 110.28,390.14 110.62,390.15 110.96,390.16 111.29,390.17 111.63,390.18 111.97,390.18 112.31,390.19 112.65,390.20 112.98,390.21 113.32,390.22 113.66,390.23 114.00,390.23 114.34,390.24 114.68,390.25 115.01,390.26 115.35,390.27 115.69,390.27 116.03,390.28 116.37,390.29 116.70,390.30 117.04,390.31 117.38,390.32 117.72,390.32 118.06,390.33 118.39,390.34 118.73,390.35 119.07,390.36 119.41,390.37 119.75,390.38 120.08,390.38 120.42,390.39 120.76,390.40 121.10,390.41 121.44,390.42 121.77,390.43 122.11,390.44 122.45,390.46 122.79,390.49 123.13,390.50 123.46,390.52 123.80,390.55 124.14,390.56 124.48,390.58 124.82,390.61 125.15,390.62 125.49,390.64 125.83,390.67 126.17,390.69 126.51,390.70 126.84,390.73 127.18,390.75 127.52,390.76 127.86,390.79 128.20,390.81 128.53,390.82 128.87,390.85 129.21,390.87 129.55,390.88 129.89,390.90 130.23,390.93 130.56,390.94 130.90,390.96 131.24,390.99 131.58,391.00 131.92,391.02 132.25,391.09 132.59,391.15 132.93,391.21 133.27,391.27 133.61,391.34 133.94,391.40 134.28,391.46 134.62,391.52 134.96,391.59 135.30,391.65 135.63,391.71 135.97,391.77 136.31,391.96 136.65,392.15 136.99,392.34 137.32,392.52 137.66,392.71 138.00,392.90 138.00,389.00" fill="#b2b2b2"/>
<polyline points="97.44,389.98 97.77,389.98 98.11,389.98 98.45,389.99 98.79,389.99 99.13,390.00 99.46,390.00 99.80,390.00 100.14,390.01 100.48,390.01 100.82,390.02 101.15,390.02 101.49,390.02 101.83,390.03 102.17,390.03 102.51,390.04 102.84,390.04 103.18,390.05 103.52,390.05 103.86,390.05 104.20,390.06 104.53,390.06 104.87,390.07 105.21,390.07 105.55,390.07 105.89,390.08 106.22,390.08 106.56,390.09 106.90,390.09 107.24,390.10 107.58,390.10 107.91,390.10 108.25,390.11 108.59,390.11 108.93,390.12 109.27,390.12 109.60,390.12 109.94,390.13 110.28,390.14 110.62,390.15 110.96,390.16 111.29,390.17 111.63,390.18 111.97,390.18 112.31,390.19 112.65,390.20 112.98,390.21 113.32,390.22 113.66,390.23 114.00,390.23 114.34,390.24 114.68,390.25 115.01,390.26 115.35,390.27 115.69,390.27 116.03,390.28 116.37,390.29 116.70,390.30 117.04,390.31 117.38,390.32 117.72,390.32 118.06,390.33 118.39,390.34 118.73,390.35 119.07,390.36 119.41,390.37 119.75,390.38 120.08,390.38 120.42,390.39 120.76,390.40 121.10,390.41 121.44,390.42 121.77,390.43 122.11,390.44 122.45,390.46 122.79,390.49 123.13,390.50 123.46,390.52 123.80,390.55 124.14,390.56 124.48,390.58 124.82,390.61 125.15,390.62 125.49,390.64 125.83,390.67 126.17,390.69 126.51,390.70 126.84,390.73 127.18,390.75 127.52,390.76 127.86,390.79 128.20,390.81 128.53,390.82 128.87,390.85 129.21,390.87 129.55,390.88 129.89,390.90 130.23,390.93 130.56,390.94 130.90,390.96 131.24,390.99 131.58,391.00 131.92,391.02 132.25,391.09 132.59,391.15 132.93,391.21 133.27,391.27 133.61,391.34 133.94,391.40 134.28,391.46 134.62,391.52 134.96,391.59 135.30,391.65 135.63,391.71 135.97,391.77 136.31,391.96 136.65,392.15 136.99,392.34 137.32,392.52 137.66,392.71 138.00,392.90" fill="none" stroke="#9a9a9a" stroke-width="0.5" stroke-linejoin="round"/>
<line x1="50.800000000000004" y1="372.6" x2="52.6" y2="372.6" stroke="#333" stroke-width="0.8"/>
<text x="48.7" y="374.05" font-size="4.2" text-anchor="end" font-weight="normal" font-style="normal" fill="#3a3a3a" stroke="#3a3a3a" stroke-width="0.076">3</text>
<line x1="50.800000000000004" y1="378.4" x2="52.6" y2="378.4" stroke="#333" stroke-width="0.8"/>
<text x="48.7" y="379.84999999999997" font-size="4.2" text-anchor="end" font-weight="normal" font-style="normal" fill="#3a3a3a" stroke="#3a3a3a" stroke-width="0.076">2</text>
<line x1="50.800000000000004" y1="383.8" x2="52.6" y2="383.8" stroke="#333" stroke-width="0.8"/>
<text x="48.7" y="385.25" font-size="4.2" text-anchor="end" font-weight="normal" font-style="normal" fill="#3a3a3a" stroke="#3a3a3a" stroke-width="0.076">1</text>
<line x1="50.800000000000004" y1="389.3" x2="52.6" y2="389.3" stroke="#333" stroke-width="0.8"/>
<text x="48.7" y="390.75" font-size="4.2" text-anchor="end" font-weight="normal" font-style="normal" fill="#3a3a3a" stroke="#3a3a3a" stroke-width="0.076">0</text>
<line x1="50.800000000000004" y1="395.2" x2="52.6" y2="395.2" stroke="#333" stroke-width="0.8"/>
<text x="48.7" y="396.65" font-size="4.2" text-anchor="end" font-weight="normal" font-style="normal" fill="#3a3a3a" stroke="#3a3a3a" stroke-width="0.076">&#8722;1</text>
<line x1="52.6" y1="313" x2="52.6" y2="399.4" stroke="#2e2e2e" stroke-width="1"/>
<line x1="52.1" y1="398.9" x2="138.4" y2="398.9" stroke="#2e2e2e" stroke-width="1"/>
<line x1="75.6" y1="398.9" x2="75.6" y2="400.6" stroke="#333" stroke-width="0.8"/>
<text x="75.6" y="405.9" font-size="4.9" text-anchor="middle" font-weight="normal" font-style="normal" fill="#606060" stroke="#606060" stroke-width="0.088" textLength="7.6" lengthAdjust="spacingAndGlyphs">250</text>
<line x1="98.1" y1="398.9" x2="98.1" y2="400.6" stroke="#333" stroke-width="0.8"/>
<text x="98.1" y="405.9" font-size="4.9" text-anchor="middle" font-weight="normal" font-style="normal" fill="#606060" stroke="#606060" stroke-width="0.088" textLength="7.6" lengthAdjust="spacingAndGlyphs">500</text>
<line x1="121.8" y1="398.9" x2="121.8" y2="400.6" stroke="#333" stroke-width="0.8"/>
<text x="121.8" y="405.9" font-size="4.9" text-anchor="middle" font-weight="normal" font-style="normal" fill="#606060" stroke="#606060" stroke-width="0.088" textLength="7.6" lengthAdjust="spacingAndGlyphs">750</text>
<text x="98.71600000000001" y="378.6" font-size="4.4" fill="#2a2a2a" stroke="#2a2a2a" stroke-width="0.12"><tspan font-style="italic">P adjust</tspan>: .001</text>
<text x="98.71600000000001" y="384.0" font-size="4.4" text-anchor="start" font-weight="normal" font-style="normal" fill="#2a2a2a" stroke="#2a2a2a" stroke-width="0.079">NES: &#8722;2.54</text>
<text x="37.3" y="332.5" font-size="4.2" text-anchor="middle" font-weight="normal" font-style="normal" fill="#333" stroke="#333" stroke-width="0.14" transform="rotate(-90 37.3 332.5)">Running enrichment score</text>
<text x="37.3" y="381.5" font-size="4.3" text-anchor="middle" font-weight="normal" font-style="normal" fill="#333" stroke="#333" stroke-width="0.14" transform="rotate(-90 37.3 381.5)" textLength="36.5" lengthAdjust="spacingAndGlyphs">Ranked list metric</text>
<text x="95.3" y="412.8" font-size="5.0" text-anchor="middle" font-weight="normal" font-style="normal" fill="#4a4a4a" stroke="#4a4a4a" stroke-width="0.09" textLength="46" lengthAdjust="spacingAndGlyphs">Rank in ordered dataset</text>
<rect x="165.8" y="284.6" width="84.50000000000001" height="23.8" fill="none" stroke="#9a9a9a" stroke-width="0.85" stroke-dasharray="3.3 2.4"/>
<text x="207.9" y="295.2" font-size="5.3" text-anchor="middle" font-weight="normal" font-style="normal" fill="#222" stroke="#222" stroke-width="0.12">HALLMARK ALLOGRAFT</text>
<text x="207.9" y="301.6" font-size="5.3" text-anchor="middle" font-weight="normal" font-style="normal" fill="#222" stroke="#222" stroke-width="0.12">REJECTION</text>
<line x1="176.45" y1="313" x2="176.45" y2="355" stroke="#f6f6f6" stroke-width="0.8"/>
<line x1="187.89999999999998" y1="313" x2="187.89999999999998" y2="355" stroke="#f6f6f6" stroke-width="0.8"/>
<line x1="199.34999999999997" y1="313" x2="199.34999999999997" y2="355" stroke="#f6f6f6" stroke-width="0.8"/>
<line x1="210.79999999999995" y1="313" x2="210.79999999999995" y2="355" stroke="#f6f6f6" stroke-width="0.8"/>
<line x1="222.24999999999994" y1="313" x2="222.24999999999994" y2="355" stroke="#f6f6f6" stroke-width="0.8"/>
<line x1="233.69999999999993" y1="313" x2="233.69999999999993" y2="355" stroke="#f6f6f6" stroke-width="0.8"/>
<line x1="245.14999999999992" y1="313" x2="245.14999999999992" y2="355" stroke="#f6f6f6" stroke-width="0.8"/>
<line x1="163.7" y1="318.0" x2="165.5" y2="318.0" stroke="#333" stroke-width="0.8"/>
<text x="161.9" y="319.8" font-size="5.0" text-anchor="end" font-weight="normal" font-style="normal" fill="#3a3a3a" stroke="#3a3a3a" stroke-width="0.09">0.0</text>
<line x1="163.7" y1="325.4" x2="165.5" y2="325.4" stroke="#333" stroke-width="0.8"/>
<text x="161.9" y="327.2" font-size="5.0" text-anchor="end" font-weight="normal" font-style="normal" fill="#3a3a3a" stroke="#3a3a3a" stroke-width="0.09">&#8722;0.1</text>
<line x1="163.7" y1="333.4" x2="165.5" y2="333.4" stroke="#333" stroke-width="0.8"/>
<text x="161.9" y="335.2" font-size="5.0" text-anchor="end" font-weight="normal" font-style="normal" fill="#3a3a3a" stroke="#3a3a3a" stroke-width="0.09">&#8722;0.2</text>
<line x1="163.7" y1="341.0" x2="165.5" y2="341.0" stroke="#333" stroke-width="0.8"/>
<text x="161.9" y="342.8" font-size="5.0" text-anchor="end" font-weight="normal" font-style="normal" fill="#3a3a3a" stroke="#3a3a3a" stroke-width="0.09">&#8722;0.3</text>
<line x1="163.7" y1="348.6" x2="165.5" y2="348.6" stroke="#333" stroke-width="0.8"/>
<text x="161.9" y="350.40000000000003" font-size="5.0" text-anchor="end" font-weight="normal" font-style="normal" fill="#3a3a3a" stroke="#3a3a3a" stroke-width="0.09">&#8722;0.4</text>
<polyline points="166.50,320.00 167.30,319.00 170.00,314.40 176.50,319.90 177.40,315.70 189.30,325.40 192.00,326.30 195.60,326.30 196.60,327.70 220.30,347.30 224.90,350.00 229.50,351.50 232.20,352.80 233.10,347.30 234.00,341.80 238.60,339.00 241.40,336.30 244.10,332.70 246.00,337.30 247.70,330.00 249.60,317.10" fill="none" stroke="#b0d0a6" stroke-width="0.85" stroke-linejoin="round"/>
<line x1="170" y1="355.3" x2="170" y2="365" stroke="#bcbcc0" stroke-width="0.8"/>
<line x1="177.4" y1="355.3" x2="177.4" y2="365" stroke="#bcbcc0" stroke-width="0.8"/>
<line x1="190.2" y1="355.3" x2="190.2" y2="365" stroke="#bcbcc0" stroke-width="0.8"/>
<line x1="196.6" y1="355.3" x2="196.6" y2="365" stroke="#bcbcc0" stroke-width="0.8"/>
<line x1="220.3" y1="355.3" x2="220.3" y2="365" stroke="#bcbcc0" stroke-width="0.8"/>
<line x1="224.9" y1="355.3" x2="224.9" y2="365" stroke="#bcbcc0" stroke-width="0.8"/>
<line x1="229.5" y1="355.3" x2="229.5" y2="365" stroke="#bcbcc0" stroke-width="0.8"/>
<line x1="233.1" y1="355.3" x2="233.1" y2="365" stroke="#909090" stroke-width="0.8"/>
<line x1="235" y1="355.3" x2="235" y2="365" stroke="#a0a0a0" stroke-width="0.8"/>
<line x1="241.4" y1="355.3" x2="241.4" y2="365" stroke="#bcbcc0" stroke-width="0.8"/>
<line x1="248.7" y1="355.3" x2="248.7" y2="365" stroke="#909090" stroke-width="0.8"/>
<linearGradient id="cb489" gradientUnits="userSpaceOnUse" x1="165.5" x2="250.3" y1="0" y2="0"><stop offset="0.0000" stop-color="#e02828"/><stop offset="0.1215" stop-color="#e02828"/><stop offset="0.1380" stop-color="#f08080"/><stop offset="0.1533" stop-color="#f08080"/><stop offset="0.1698" stop-color="#f4c8c8"/><stop offset="0.1969" stop-color="#f8f4f4"/><stop offset="0.2134" stop-color="#e0e8f0"/><stop offset="0.2712" stop-color="#a8cce6"/><stop offset="0.2877" stop-color="#10a6d0"/><stop offset="0.6167" stop-color="#10a6d0"/><stop offset="0.6333" stop-color="#0a80c0"/><stop offset="0.8538" stop-color="#0a80c0"/><stop offset="0.8703" stop-color="#0a5a98"/><stop offset="1.0000" stop-color="#0a5a98"/></linearGradient>
<rect x="165.5" y="365.7" width="84.80000000000001" height="4.0" fill="url(#cb489)"/>
<polygon points="166.00,389.00 166.00,382.12 166.02,382.15 166.06,382.20 166.12,382.28 166.19,382.37 166.28,382.48 166.37,382.60 166.47,382.74 166.59,382.88 166.71,383.04 166.84,383.21 166.98,383.39 167.12,383.58 167.28,383.78 167.44,383.89 167.60,384.00 167.78,384.10 167.96,384.22 168.15,384.33 168.34,384.45 168.54,384.58 168.75,384.65 168.96,384.72 169.18,384.79 169.40,384.86 169.63,384.93 169.87,385.01 170.11,385.08 170.35,385.16 170.61,385.24 170.86,385.32 171.12,385.41 171.39,385.49 171.66,385.58 171.94,385.66 172.22,385.75 172.51,385.84 172.80,385.94 173.10,385.98 173.40,386.01 173.70,386.04 174.01,386.07 174.33,386.10 174.65,386.13 174.97,386.16 175.30,386.19 175.63,386.22 175.97,386.25 176.31,386.28 176.66,386.31 177.01,386.35 177.36,386.38 177.72,386.41 178.09,386.45 178.45,386.48 178.82,386.51 179.20,386.55 179.58,386.58 179.96,386.62 180.35,386.66 180.74,386.69 181.13,386.73 181.53,386.77 181.94,386.80 182.34,386.84 182.75,386.86 183.17,386.88 183.58,386.90 184.01,386.92 184.43,386.94 184.86,386.96 185.29,386.98 185.73,387.00 186.17,387.02 186.62,387.04 187.06,387.06 187.51,387.08 187.97,387.10 188.43,387.12 188.89,387.15 189.35,387.17 189.82,387.19 190.29,387.21 190.77,387.23 191.25,387.26 191.73,387.28 192.22,387.30 192.71,387.32 193.20,387.34 193.70,387.35 194.20,387.36 194.70,387.37 195.21,387.39 195.72,387.40 196.23,387.42 196.74,387.43 197.26,387.44 197.79,387.46 198.31,387.47 198.84,387.49 199.37,387.50 199.91,387.51 200.45,387.53 200.99,387.54 201.54,387.56 202.08,387.57 202.64,387.59 203.19,387.60 203.75,387.62 204.31,387.63 204.87,387.65 205.44,387.66 206.01,387.68 206.58,387.69 207.16,387.71 207.74,387.72 208.32,387.74 208.91,387.75 209.49,387.77 210.08,387.78 210.68,387.80 210.44,389.00" fill="#b2b2b2"/>
<polyline points="166.00,382.12 166.02,382.15 166.06,382.20 166.12,382.28 166.19,382.37 166.28,382.48 166.37,382.60 166.47,382.74 166.59,382.88 166.71,383.04 166.84,383.21 166.98,383.39 167.12,383.58 167.28,383.78 167.44,383.89 167.60,384.00 167.78,384.10 167.96,384.22 168.15,384.33 168.34,384.45 168.54,384.58 168.75,384.65 168.96,384.72 169.18,384.79 169.40,384.86 169.63,384.93 169.87,385.01 170.11,385.08 170.35,385.16 170.61,385.24 170.86,385.32 171.12,385.41 171.39,385.49 171.66,385.58 171.94,385.66 172.22,385.75 172.51,385.84 172.80,385.94 173.10,385.98 173.40,386.01 173.70,386.04 174.01,386.07 174.33,386.10 174.65,386.13 174.97,386.16 175.30,386.19 175.63,386.22 175.97,386.25 176.31,386.28 176.66,386.31 177.01,386.35 177.36,386.38 177.72,386.41 178.09,386.45 178.45,386.48 178.82,386.51 179.20,386.55 179.58,386.58 179.96,386.62 180.35,386.66 180.74,386.69 181.13,386.73 181.53,386.77 181.94,386.80 182.34,386.84 182.75,386.86 183.17,386.88 183.58,386.90 184.01,386.92 184.43,386.94 184.86,386.96 185.29,386.98 185.73,387.00 186.17,387.02 186.62,387.04 187.06,387.06 187.51,387.08 187.97,387.10 188.43,387.12 188.89,387.15 189.35,387.17 189.82,387.19 190.29,387.21 190.77,387.23 191.25,387.26 191.73,387.28 192.22,387.30 192.71,387.32 193.20,387.34 193.70,387.35 194.20,387.36 194.70,387.37 195.21,387.39 195.72,387.40 196.23,387.42 196.74,387.43 197.26,387.44 197.79,387.46 198.31,387.47 198.84,387.49 199.37,387.50 199.91,387.51 200.45,387.53 200.99,387.54 201.54,387.56 202.08,387.57 202.64,387.59 203.19,387.60 203.75,387.62 204.31,387.63 204.87,387.65 205.44,387.66 206.01,387.68 206.58,387.69 207.16,387.71 207.74,387.72 208.32,387.74 208.91,387.75 209.49,387.77 210.08,387.78 210.68,387.80" fill="none" stroke="#9a9a9a" stroke-width="0.5" stroke-linejoin="round"/>
<polygon points="210.44,389.00 210.44,390.17 210.78,390.18 211.11,390.18 211.44,390.19 211.77,390.19 212.10,390.19 212.44,390.20 212.77,390.20 213.10,390.21 213.43,390.21 213.77,390.22 214.10,390.23 214.43,390.23 214.76,390.24 215.09,390.24 215.43,390.25 215.76,390.25 216.09,390.25 216.42,390.26 216.75,390.26 217.09,390.27 217.42,390.27 217.75,390.28 218.08,390.29 218.42,390.29 218.75,390.30 219.08,390.30 219.41,390.31 219.74,390.31 220.08,390.31 220.41,390.32 220.74,390.32 221.07,390.33 221.40,390.33 221.74,390.34 222.07,390.35 222.40,390.35 222.73,390.36 223.07,390.37 223.40,390.38 223.73,390.39 224.06,390.40 224.39,390.41 224.73,390.42 225.06,390.43 225.39,390.44 225.72,390.45 226.05,390.46 226.39,390.47 226.72,390.48 227.05,390.49 227.38,390.50 227.71,390.51 228.05,390.52 228.38,390.53 228.71,390.54 229.04,390.55 229.38,390.56 229.71,390.57 230.04,390.58 230.37,390.59 230.70,390.60 231.04,390.61 231.37,390.62 231.70,390.63 232.03,390.64 232.36,390.65 232.70,390.66 233.03,390.67 233.36,390.68 233.69,390.69 234.03,390.70 234.36,390.71 234.69,390.73 235.02,390.76 235.35,390.78 235.69,390.81 236.02,390.83 236.35,390.85 236.68,390.88 237.01,390.90 237.35,390.93 237.68,390.95 238.01,390.97 238.34,391.00 238.68,391.02 239.01,391.05 239.34,391.07 239.67,391.09 240.00,391.12 240.34,391.14 240.67,391.17 241.00,391.19 241.33,391.21 241.66,391.24 242.00,391.26 242.33,391.29 242.66,391.31 242.99,391.33 243.33,391.36 243.66,391.38 243.99,391.41 244.32,391.43 244.65,391.50 244.99,391.58 245.32,391.65 245.65,391.73 245.98,391.81 246.31,391.88 246.65,391.95 246.98,392.03 247.31,392.11 247.64,392.18 247.98,392.25 248.31,392.33 248.64,392.56 248.97,392.78 249.30,393.00 249.64,393.23 249.97,393.45 250.30,393.68 250.30,389.00" fill="#b2b2b2"/>
<polyline points="210.44,390.17 210.78,390.18 211.11,390.18 211.44,390.19 211.77,390.19 212.10,390.19 212.44,390.20 212.77,390.20 213.10,390.21 213.43,390.21 213.77,390.22 214.10,390.23 214.43,390.23 214.76,390.24 215.09,390.24 215.43,390.25 215.76,390.25 216.09,390.25 216.42,390.26 216.75,390.26 217.09,390.27 217.42,390.27 217.75,390.28 218.08,390.29 218.42,390.29 218.75,390.30 219.08,390.30 219.41,390.31 219.74,390.31 220.08,390.31 220.41,390.32 220.74,390.32 221.07,390.33 221.40,390.33 221.74,390.34 222.07,390.35 222.40,390.35 222.73,390.36 223.07,390.37 223.40,390.38 223.73,390.39 224.06,390.40 224.39,390.41 224.73,390.42 225.06,390.43 225.39,390.44 225.72,390.45 226.05,390.46 226.39,390.47 226.72,390.48 227.05,390.49 227.38,390.50 227.71,390.51 228.05,390.52 228.38,390.53 228.71,390.54 229.04,390.55 229.38,390.56 229.71,390.57 230.04,390.58 230.37,390.59 230.70,390.60 231.04,390.61 231.37,390.62 231.70,390.63 232.03,390.64 232.36,390.65 232.70,390.66 233.03,390.67 233.36,390.68 233.69,390.69 234.03,390.70 234.36,390.71 234.69,390.73 235.02,390.76 235.35,390.78 235.69,390.81 236.02,390.83 236.35,390.85 236.68,390.88 237.01,390.90 237.35,390.93 237.68,390.95 238.01,390.97 238.34,391.00 238.68,391.02 239.01,391.05 239.34,391.07 239.67,391.09 240.00,391.12 240.34,391.14 240.67,391.17 241.00,391.19 241.33,391.21 241.66,391.24 242.00,391.26 242.33,391.29 242.66,391.31 242.99,391.33 243.33,391.36 243.66,391.38 243.99,391.41 244.32,391.43 244.65,391.50 244.99,391.58 245.32,391.65 245.65,391.73 245.98,391.81 246.31,391.88 246.65,391.95 246.98,392.03 247.31,392.11 247.64,392.18 247.98,392.25 248.31,392.33 248.64,392.56 248.97,392.78 249.30,393.00 249.64,393.23 249.97,393.45 250.30,393.68" fill="none" stroke="#9a9a9a" stroke-width="0.5" stroke-linejoin="round"/>
<line x1="163.7" y1="372.6" x2="165.5" y2="372.6" stroke="#333" stroke-width="0.8"/>
<text x="161.6" y="374.05" font-size="4.2" text-anchor="end" font-weight="normal" font-style="normal" fill="#3a3a3a" stroke="#3a3a3a" stroke-width="0.076">3</text>
<line x1="163.7" y1="378.4" x2="165.5" y2="378.4" stroke="#333" stroke-width="0.8"/>
<text x="161.6" y="379.84999999999997" font-size="4.2" text-anchor="end" font-weight="normal" font-style="normal" fill="#3a3a3a" stroke="#3a3a3a" stroke-width="0.076">2</text>
<line x1="163.7" y1="383.8" x2="165.5" y2="383.8" stroke="#333" stroke-width="0.8"/>
<text x="161.6" y="385.25" font-size="4.2" text-anchor="end" font-weight="normal" font-style="normal" fill="#3a3a3a" stroke="#3a3a3a" stroke-width="0.076">1</text>
<line x1="163.7" y1="389.3" x2="165.5" y2="389.3" stroke="#333" stroke-width="0.8"/>
<text x="161.6" y="390.75" font-size="4.2" text-anchor="end" font-weight="normal" font-style="normal" fill="#3a3a3a" stroke="#3a3a3a" stroke-width="0.076">0</text>
<line x1="163.7" y1="395.2" x2="165.5" y2="395.2" stroke="#333" stroke-width="0.8"/>
<text x="161.6" y="396.65" font-size="4.2" text-anchor="end" font-weight="normal" font-style="normal" fill="#3a3a3a" stroke="#3a3a3a" stroke-width="0.076">&#8722;1</text>
<line x1="165.5" y1="313" x2="165.5" y2="399.4" stroke="#2e2e2e" stroke-width="1"/>
<line x1="165.0" y1="398.9" x2="250.70000000000002" y2="398.9" stroke="#2e2e2e" stroke-width="1"/>
<line x1="187.9" y1="398.9" x2="187.9" y2="400.6" stroke="#333" stroke-width="0.8"/>
<text x="187.9" y="405.9" font-size="4.9" text-anchor="middle" font-weight="normal" font-style="normal" fill="#606060" stroke="#606060" stroke-width="0.088" textLength="7.6" lengthAdjust="spacingAndGlyphs">250</text>
<line x1="210.8" y1="398.9" x2="210.8" y2="400.6" stroke="#333" stroke-width="0.8"/>
<text x="210.8" y="405.9" font-size="4.9" text-anchor="middle" font-weight="normal" font-style="normal" fill="#606060" stroke="#606060" stroke-width="0.088" textLength="7.6" lengthAdjust="spacingAndGlyphs">500</text>
<line x1="233.9" y1="398.9" x2="233.9" y2="400.6" stroke="#333" stroke-width="0.8"/>
<text x="233.9" y="405.9" font-size="4.9" text-anchor="middle" font-weight="normal" font-style="normal" fill="#606060" stroke="#606060" stroke-width="0.088" textLength="7.6" lengthAdjust="spacingAndGlyphs">750</text>
<text x="211.292" y="378.6" font-size="4.4" fill="#2a2a2a" stroke="#2a2a2a" stroke-width="0.12"><tspan font-style="italic">P adjust</tspan>: .01</text>
<text x="211.292" y="384.0" font-size="4.4" text-anchor="start" font-weight="normal" font-style="normal" fill="#2a2a2a" stroke="#2a2a2a" stroke-width="0.079">NES: &#8722;2.18</text>
<rect x="277.90000000000003" y="284.6" width="84.59999999999998" height="23.8" fill="none" stroke="#9a9a9a" stroke-width="0.85" stroke-dasharray="3.3 2.4"/>
<text x="320.05" y="295.2" font-size="5.3" text-anchor="middle" font-weight="normal" font-style="normal" fill="#222" stroke="#222" stroke-width="0.12">HALLMARK OXIDATIVE</text>
<text x="320.05" y="301.6" font-size="5.3" text-anchor="middle" font-weight="normal" font-style="normal" fill="#222" stroke="#222" stroke-width="0.12">PHOSPHORYLATION</text>
<line x1="288.9" y1="313" x2="288.9" y2="355" stroke="#f6f6f6" stroke-width="0.8"/>
<line x1="300.4" y1="313" x2="300.4" y2="355" stroke="#f6f6f6" stroke-width="0.8"/>
<line x1="311.9" y1="313" x2="311.9" y2="355" stroke="#f6f6f6" stroke-width="0.8"/>
<line x1="323.4" y1="313" x2="323.4" y2="355" stroke="#f6f6f6" stroke-width="0.8"/>
<line x1="334.9" y1="313" x2="334.9" y2="355" stroke="#f6f6f6" stroke-width="0.8"/>
<line x1="346.4" y1="313" x2="346.4" y2="355" stroke="#f6f6f6" stroke-width="0.8"/>
<line x1="357.9" y1="313" x2="357.9" y2="355" stroke="#f6f6f6" stroke-width="0.8"/>
<line x1="275.8" y1="313.5" x2="277.6" y2="313.5" stroke="#333" stroke-width="0.8"/>
<text x="274.0" y="315.03" font-size="4.25" text-anchor="end" font-weight="normal" font-style="normal" fill="#3a3a3a" stroke="#3a3a3a" stroke-width="0.076">0.1</text>
<line x1="275.8" y1="321.7" x2="277.6" y2="321.7" stroke="#333" stroke-width="0.8"/>
<text x="274.0" y="323.22999999999996" font-size="4.25" text-anchor="end" font-weight="normal" font-style="normal" fill="#3a3a3a" stroke="#3a3a3a" stroke-width="0.076">0.0</text>
<line x1="275.8" y1="330.2" x2="277.6" y2="330.2" stroke="#333" stroke-width="0.8"/>
<text x="274.0" y="331.72999999999996" font-size="4.25" text-anchor="end" font-weight="normal" font-style="normal" fill="#3a3a3a" stroke="#3a3a3a" stroke-width="0.076">&#8722;0.1</text>
<line x1="275.8" y1="338.2" x2="277.6" y2="338.2" stroke="#333" stroke-width="0.8"/>
<text x="274.0" y="339.72999999999996" font-size="4.25" text-anchor="end" font-weight="normal" font-style="normal" fill="#3a3a3a" stroke="#3a3a3a" stroke-width="0.076">&#8722;0.2</text>
<line x1="275.8" y1="346.4" x2="277.6" y2="346.4" stroke="#333" stroke-width="0.8"/>
<text x="274.0" y="347.92999999999995" font-size="4.25" text-anchor="end" font-weight="normal" font-style="normal" fill="#3a3a3a" stroke="#3a3a3a" stroke-width="0.076">&#8722;0.3</text>
<line x1="275.8" y1="354.2" x2="277.6" y2="354.2" stroke="#333" stroke-width="0.8"/>
<text x="274.0" y="355.72999999999996" font-size="4.25" text-anchor="end" font-weight="normal" font-style="normal" fill="#3a3a3a" stroke="#3a3a3a" stroke-width="0.076">&#8722;0.4</text>
<polyline points="278.40,314.40 295.80,330.90 296.70,325.70 299.40,329.00 301.30,328.50 315.90,341.80 318.00,343.00 327.80,352.80 328.70,351.00 330.50,352.80 332.30,349.10 334.20,346.80 336.90,344.60 339.60,341.80 342.40,339.10 344.20,338.20 346.00,340.90 348.80,341.80 352.40,331.80 355.20,325.40 357.90,322.60 359.80,325.40 361.60,320.80" fill="none" stroke="#b0d0a6" stroke-width="0.85" stroke-linejoin="round"/>
<line x1="296.7" y1="355.3" x2="296.7" y2="365" stroke="#bcbcc0" stroke-width="0.8"/>
<line x1="301.3" y1="355.3" x2="301.3" y2="365" stroke="#bcbcc0" stroke-width="0.8"/>
<line x1="315" y1="355.3" x2="315" y2="365" stroke="#bcbcc0" stroke-width="0.8"/>
<line x1="328.7" y1="355.3" x2="328.7" y2="365" stroke="#909090" stroke-width="0.8"/>
<line x1="332.3" y1="355.3" x2="332.3" y2="365" stroke="#bcbcc0" stroke-width="0.8"/>
<line x1="335" y1="355.3" x2="335" y2="365" stroke="#bcbcc0" stroke-width="0.8"/>
<line x1="337.8" y1="355.3" x2="337.8" y2="365" stroke="#a0a0a0" stroke-width="0.8"/>
<line x1="340.6" y1="355.3" x2="340.6" y2="365" stroke="#bcbcc0" stroke-width="0.8"/>
<line x1="342.4" y1="355.3" x2="342.4" y2="365" stroke="#bcbcc0" stroke-width="0.8"/>
<line x1="348.8" y1="355.3" x2="348.8" y2="365" stroke="#bcbcc0" stroke-width="0.8"/>
<line x1="350.6" y1="355.3" x2="350.6" y2="365" stroke="#a0a0a0" stroke-width="0.8"/>
<line x1="352.4" y1="355.3" x2="352.4" y2="365" stroke="#bcbcc0" stroke-width="0.8"/>
<line x1="354.3" y1="355.3" x2="354.3" y2="365" stroke="#bcbcc0" stroke-width="0.8"/>
<line x1="356.1" y1="355.3" x2="356.1" y2="365" stroke="#bcbcc0" stroke-width="0.8"/>
<line x1="361.6" y1="355.3" x2="361.6" y2="365" stroke="#c0c0c0" stroke-width="0.8"/>
<linearGradient id="cb553" gradientUnits="userSpaceOnUse" x1="277.6" x2="362.5" y1="0" y2="0"><stop offset="0.0000" stop-color="#e01424"/><stop offset="0.1201" stop-color="#e01424"/><stop offset="0.1366" stop-color="#e88a78"/><stop offset="0.2061" stop-color="#e88a78"/><stop offset="0.2226" stop-color="#f4dcd8"/><stop offset="0.3133" stop-color="#f8f8fa"/><stop offset="0.3298" stop-color="#a8d0ec"/><stop offset="0.3569" stop-color="#a8d0ec"/><stop offset="0.3734" stop-color="#10a6d0"/><stop offset="0.5395" stop-color="#10a6d0"/><stop offset="0.5559" stop-color="#0a7eba"/><stop offset="0.7856" stop-color="#0a7eba"/><stop offset="0.8021" stop-color="#0a68aa"/><stop offset="1.0000" stop-color="#0a68aa"/></linearGradient>
<rect x="277.6" y="365.7" width="84.89999999999998" height="4.0" fill="url(#cb553)"/>
<polygon points="278.10,389.00 278.10,381.95 278.12,381.98 278.16,382.03 278.22,382.11 278.29,382.21 278.38,382.32 278.47,382.44 278.57,382.58 278.69,382.73 278.81,382.89 278.94,383.07 279.08,383.25 279.22,383.45 279.38,383.65 279.54,383.76 279.71,383.87 279.88,383.98 280.06,384.10 280.25,384.22 280.44,384.34 280.64,384.47 280.85,384.55 281.06,384.61 281.28,384.68 281.51,384.76 281.74,384.83 281.97,384.91 282.21,384.99 282.46,385.07 282.71,385.15 282.97,385.23 283.23,385.32 283.50,385.40 283.77,385.49 284.05,385.58 284.33,385.67 284.62,385.77 284.91,385.86 285.21,385.91 285.51,385.93 285.81,385.96 286.12,385.99 286.44,386.02 286.76,386.05 287.08,386.08 287.41,386.12 287.75,386.15 288.08,386.18 288.43,386.21 288.77,386.25 289.12,386.28 289.48,386.31 289.84,386.35 290.20,386.38 290.57,386.42 290.94,386.45 291.31,386.49 291.69,386.52 292.08,386.56 292.46,386.60 292.86,386.63 293.25,386.67 293.65,386.71 294.05,386.75 294.46,386.79 294.87,386.81 295.29,386.83 295.71,386.85 296.13,386.87 296.55,386.89 296.98,386.91 297.42,386.93 297.85,386.95 298.30,386.97 298.74,386.99 299.19,387.01 299.64,387.03 300.09,387.06 300.55,387.08 301.02,387.10 301.48,387.12 301.95,387.14 302.42,387.17 302.90,387.19 303.38,387.21 303.86,387.23 304.35,387.26 304.84,387.28 305.33,387.29 305.83,387.31 306.33,387.32 306.83,387.33 307.34,387.35 307.85,387.36 308.36,387.38 308.88,387.39 309.40,387.40 309.92,387.42 310.45,387.43 310.98,387.45 311.51,387.46 312.05,387.48 312.59,387.49 313.13,387.51 313.68,387.52 314.23,387.54 314.78,387.55 315.33,387.57 315.89,387.58 316.45,387.60 317.02,387.61 317.59,387.63 318.16,387.64 318.73,387.66 319.31,387.67 319.89,387.69 320.47,387.71 321.06,387.72 321.65,387.74 322.24,387.75 322.83,387.77 322.60,389.00" fill="#b2b2b2"/>
<polyline points="278.10,381.95 278.12,381.98 278.16,382.03 278.22,382.11 278.29,382.21 278.38,382.32 278.47,382.44 278.57,382.58 278.69,382.73 278.81,382.89 278.94,383.07 279.08,383.25 279.22,383.45 279.38,383.65 279.54,383.76 279.71,383.87 279.88,383.98 280.06,384.10 280.25,384.22 280.44,384.34 280.64,384.47 280.85,384.55 281.06,384.61 281.28,384.68 281.51,384.76 281.74,384.83 281.97,384.91 282.21,384.99 282.46,385.07 282.71,385.15 282.97,385.23 283.23,385.32 283.50,385.40 283.77,385.49 284.05,385.58 284.33,385.67 284.62,385.77 284.91,385.86 285.21,385.91 285.51,385.93 285.81,385.96 286.12,385.99 286.44,386.02 286.76,386.05 287.08,386.08 287.41,386.12 287.75,386.15 288.08,386.18 288.43,386.21 288.77,386.25 289.12,386.28 289.48,386.31 289.84,386.35 290.20,386.38 290.57,386.42 290.94,386.45 291.31,386.49 291.69,386.52 292.08,386.56 292.46,386.60 292.86,386.63 293.25,386.67 293.65,386.71 294.05,386.75 294.46,386.79 294.87,386.81 295.29,386.83 295.71,386.85 296.13,386.87 296.55,386.89 296.98,386.91 297.42,386.93 297.85,386.95 298.30,386.97 298.74,386.99 299.19,387.01 299.64,387.03 300.09,387.06 300.55,387.08 301.02,387.10 301.48,387.12 301.95,387.14 302.42,387.17 302.90,387.19 303.38,387.21 303.86,387.23 304.35,387.26 304.84,387.28 305.33,387.29 305.83,387.31 306.33,387.32 306.83,387.33 307.34,387.35 307.85,387.36 308.36,387.38 308.88,387.39 309.40,387.40 309.92,387.42 310.45,387.43 310.98,387.45 311.51,387.46 312.05,387.48 312.59,387.49 313.13,387.51 313.68,387.52 314.23,387.54 314.78,387.55 315.33,387.57 315.89,387.58 316.45,387.60 317.02,387.61 317.59,387.63 318.16,387.64 318.73,387.66 319.31,387.67 319.89,387.69 320.47,387.71 321.06,387.72 321.65,387.74 322.24,387.75 322.83,387.77" fill="none" stroke="#9a9a9a" stroke-width="0.5" stroke-linejoin="round"/>
<polygon points="322.60,389.00 322.60,390.17 322.93,390.18 323.26,390.18 323.59,390.19 323.93,390.19 324.26,390.19 324.59,390.20 324.92,390.20 325.26,390.21 325.59,390.21 325.92,390.22 326.25,390.23 326.59,390.23 326.92,390.24 327.25,390.24 327.58,390.25 327.92,390.25 328.25,390.25 328.58,390.26 328.91,390.26 329.25,390.27 329.58,390.27 329.91,390.28 330.25,390.29 330.58,390.29 330.91,390.30 331.24,390.30 331.58,390.31 331.91,390.31 332.24,390.31 332.57,390.32 332.91,390.32 333.24,390.33 333.57,390.33 333.90,390.34 334.24,390.35 334.57,390.35 334.90,390.36 335.23,390.37 335.57,390.38 335.90,390.39 336.23,390.40 336.56,390.41 336.90,390.42 337.23,390.43 337.56,390.44 337.89,390.45 338.23,390.46 338.56,390.47 338.89,390.48 339.22,390.49 339.56,390.50 339.89,390.51 340.22,390.52 340.55,390.53 340.89,390.54 341.22,390.55 341.55,390.56 341.88,390.57 342.22,390.58 342.55,390.59 342.88,390.60 343.21,390.61 343.55,390.62 343.88,390.63 344.21,390.64 344.54,390.65 344.88,390.66 345.21,390.67 345.54,390.68 345.87,390.69 346.21,390.70 346.54,390.71 346.87,390.73 347.20,390.76 347.54,390.78 347.87,390.81 348.20,390.83 348.53,390.85 348.87,390.88 349.20,390.90 349.53,390.93 349.86,390.95 350.20,390.97 350.53,391.00 350.86,391.02 351.19,391.05 351.53,391.07 351.86,391.09 352.19,391.12 352.52,391.14 352.86,391.17 353.19,391.19 353.52,391.21 353.85,391.24 354.19,391.26 354.52,391.29 354.85,391.31 355.18,391.33 355.52,391.36 355.85,391.38 356.18,391.41 356.51,391.43 356.85,391.50 357.18,391.58 357.51,391.65 357.84,391.73 358.18,391.81 358.51,391.88 358.84,391.95 359.17,392.03 359.51,392.11 359.84,392.18 360.17,392.25 360.50,392.33 360.84,392.56 361.17,392.78 361.50,393.00 361.83,393.23 362.17,393.45 362.50,393.68 362.50,389.00" fill="#b2b2b2"/>
<polyline points="322.60,390.17 322.93,390.18 323.26,390.18 323.59,390.19 323.93,390.19 324.26,390.19 324.59,390.20 324.92,390.20 325.26,390.21 325.59,390.21 325.92,390.22 326.25,390.23 326.59,390.23 326.92,390.24 327.25,390.24 327.58,390.25 327.92,390.25 328.25,390.25 328.58,390.26 328.91,390.26 329.25,390.27 329.58,390.27 329.91,390.28 330.25,390.29 330.58,390.29 330.91,390.30 331.24,390.30 331.58,390.31 331.91,390.31 332.24,390.31 332.57,390.32 332.91,390.32 333.24,390.33 333.57,390.33 333.90,390.34 334.24,390.35 334.57,390.35 334.90,390.36 335.23,390.37 335.57,390.38 335.90,390.39 336.23,390.40 336.56,390.41 336.90,390.42 337.23,390.43 337.56,390.44 337.89,390.45 338.23,390.46 338.56,390.47 338.89,390.48 339.22,390.49 339.56,390.50 339.89,390.51 340.22,390.52 340.55,390.53 340.89,390.54 341.22,390.55 341.55,390.56 341.88,390.57 342.22,390.58 342.55,390.59 342.88,390.60 343.21,390.61 343.55,390.62 343.88,390.63 344.21,390.64 344.54,390.65 344.88,390.66 345.21,390.67 345.54,390.68 345.87,390.69 346.21,390.70 346.54,390.71 346.87,390.73 347.20,390.76 347.54,390.78 347.87,390.81 348.20,390.83 348.53,390.85 348.87,390.88 349.20,390.90 349.53,390.93 349.86,390.95 350.20,390.97 350.53,391.00 350.86,391.02 351.19,391.05 351.53,391.07 351.86,391.09 352.19,391.12 352.52,391.14 352.86,391.17 353.19,391.19 353.52,391.21 353.85,391.24 354.19,391.26 354.52,391.29 354.85,391.31 355.18,391.33 355.52,391.36 355.85,391.38 356.18,391.41 356.51,391.43 356.85,391.50 357.18,391.58 357.51,391.65 357.84,391.73 358.18,391.81 358.51,391.88 358.84,391.95 359.17,392.03 359.51,392.11 359.84,392.18 360.17,392.25 360.50,392.33 360.84,392.56 361.17,392.78 361.50,393.00 361.83,393.23 362.17,393.45 362.50,393.68" fill="none" stroke="#9a9a9a" stroke-width="0.5" stroke-linejoin="round"/>
<line x1="275.8" y1="372.6" x2="277.6" y2="372.6" stroke="#333" stroke-width="0.8"/>
<text x="273.70000000000005" y="374.05" font-size="4.2" text-anchor="end" font-weight="normal" font-style="normal" fill="#3a3a3a" stroke="#3a3a3a" stroke-width="0.076">3</text>
<line x1="275.8" y1="378.4" x2="277.6" y2="378.4" stroke="#333" stroke-width="0.8"/>
<text x="273.70000000000005" y="379.84999999999997" font-size="4.2" text-anchor="end" font-weight="normal" font-style="normal" fill="#3a3a3a" stroke="#3a3a3a" stroke-width="0.076">2</text>
<line x1="275.8" y1="383.8" x2="277.6" y2="383.8" stroke="#333" stroke-width="0.8"/>
<text x="273.70000000000005" y="385.25" font-size="4.2" text-anchor="end" font-weight="normal" font-style="normal" fill="#3a3a3a" stroke="#3a3a3a" stroke-width="0.076">1</text>
<line x1="275.8" y1="389.3" x2="277.6" y2="389.3" stroke="#333" stroke-width="0.8"/>
<text x="273.70000000000005" y="390.75" font-size="4.2" text-anchor="end" font-weight="normal" font-style="normal" fill="#3a3a3a" stroke="#3a3a3a" stroke-width="0.076">0</text>
<line x1="275.8" y1="395.2" x2="277.6" y2="395.2" stroke="#333" stroke-width="0.8"/>
<text x="273.70000000000005" y="396.65" font-size="4.2" text-anchor="end" font-weight="normal" font-style="normal" fill="#3a3a3a" stroke="#3a3a3a" stroke-width="0.076">&#8722;1</text>
<line x1="277.6" y1="313" x2="277.6" y2="399.4" stroke="#2e2e2e" stroke-width="1"/>
<line x1="277.1" y1="398.9" x2="362.9" y2="398.9" stroke="#2e2e2e" stroke-width="1"/>
<line x1="300.4" y1="398.9" x2="300.4" y2="400.6" stroke="#333" stroke-width="0.8"/>
<text x="300.4" y="405.9" font-size="4.9" text-anchor="middle" font-weight="normal" font-style="normal" fill="#606060" stroke="#606060" stroke-width="0.088" textLength="7.6" lengthAdjust="spacingAndGlyphs">250</text>
<line x1="323.4" y1="398.9" x2="323.4" y2="400.6" stroke="#333" stroke-width="0.8"/>
<text x="323.4" y="405.9" font-size="4.9" text-anchor="middle" font-weight="normal" font-style="normal" fill="#606060" stroke="#606060" stroke-width="0.088" textLength="7.6" lengthAdjust="spacingAndGlyphs">500</text>
<line x1="346.4" y1="398.9" x2="346.4" y2="400.6" stroke="#333" stroke-width="0.8"/>
<text x="346.4" y="405.9" font-size="4.9" text-anchor="middle" font-weight="normal" font-style="normal" fill="#606060" stroke="#606060" stroke-width="0.088" textLength="7.6" lengthAdjust="spacingAndGlyphs">750</text>
<text x="323.446" y="378.6" font-size="4.4" fill="#2a2a2a" stroke="#2a2a2a" stroke-width="0.12"><tspan font-style="italic">P adjust</tspan>: .06</text>
<text x="323.446" y="384.0" font-size="4.4" text-anchor="start" font-weight="normal" font-style="normal" fill="#2a2a2a" stroke="#2a2a2a" stroke-width="0.079">NES: &#8722;1.84</text>
<rect x="423.5" y="284.6" width="85.10000000000004" height="23.8" fill="none" stroke="#9a9a9a" stroke-width="0.85" stroke-dasharray="3.3 2.4"/>
<text x="465.9" y="295.2" font-size="5.3" text-anchor="middle" font-weight="normal" font-style="normal" fill="#222" stroke="#222" stroke-width="0.12">HALLMARK INTERFERON</text>
<text x="465.9" y="301.6" font-size="5.3" text-anchor="middle" font-weight="normal" font-style="normal" fill="#222" stroke="#222" stroke-width="0.12">ALPHA RESPONSE</text>
<line x1="433.5" y1="313" x2="433.5" y2="355" stroke="#f6f6f6" stroke-width="0.8"/>
<line x1="443.29999999999995" y1="313" x2="443.29999999999995" y2="355" stroke="#f6f6f6" stroke-width="0.8"/>
<line x1="453.0999999999999" y1="313" x2="453.0999999999999" y2="355" stroke="#f6f6f6" stroke-width="0.8"/>
<line x1="462.89999999999986" y1="313" x2="462.89999999999986" y2="355" stroke="#f6f6f6" stroke-width="0.8"/>
<line x1="472.6999999999998" y1="313" x2="472.6999999999998" y2="355" stroke="#f6f6f6" stroke-width="0.8"/>
<line x1="482.4999999999998" y1="313" x2="482.4999999999998" y2="355" stroke="#f6f6f6" stroke-width="0.8"/>
<line x1="492.2999999999997" y1="313" x2="492.2999999999997" y2="355" stroke="#f6f6f6" stroke-width="0.8"/>
<line x1="502.0999999999997" y1="313" x2="502.0999999999997" y2="355" stroke="#f6f6f6" stroke-width="0.8"/>
<line x1="421.4" y1="314.4" x2="423.2" y2="314.4" stroke="#333" stroke-width="0.8"/>
<text x="419.59999999999997" y="315.92999999999995" font-size="4.25" text-anchor="end" font-weight="normal" font-style="normal" fill="#3a3a3a" stroke="#3a3a3a" stroke-width="0.076">0.0</text>
<line x1="421.4" y1="327.6" x2="423.2" y2="327.6" stroke="#333" stroke-width="0.8"/>
<text x="419.59999999999997" y="329.13" font-size="4.25" text-anchor="end" font-weight="normal" font-style="normal" fill="#3a3a3a" stroke="#3a3a3a" stroke-width="0.076">&#8722;0.2</text>
<line x1="421.4" y1="340.9" x2="423.2" y2="340.9" stroke="#333" stroke-width="0.8"/>
<text x="419.59999999999997" y="342.42999999999995" font-size="4.25" text-anchor="end" font-weight="normal" font-style="normal" fill="#3a3a3a" stroke="#3a3a3a" stroke-width="0.076">&#8722;0.4</text>
<line x1="421.4" y1="353.7" x2="423.2" y2="353.7" stroke="#333" stroke-width="0.8"/>
<text x="419.59999999999997" y="355.22999999999996" font-size="4.25" text-anchor="end" font-weight="normal" font-style="normal" fill="#3a3a3a" stroke="#3a3a3a" stroke-width="0.076">&#8722;0.6</text>
<polyline points="423.50,314.40 437.20,325.40 437.70,319.90 470.10,341.80 471.00,341.50 472.00,342.60 485.60,351.90 487.50,350.40 490.20,352.80 493.00,351.50 493.90,338.20 496.60,340.00 499.40,336.30 502.10,338.20 504.80,333.60 505.80,330.00 507.60,316.20 508.10,313.50" fill="none" stroke="#b0d0a6" stroke-width="0.85" stroke-linejoin="round"/>
<line x1="437.2" y1="355.3" x2="437.2" y2="365" stroke="#bcbcc0" stroke-width="0.8"/>
<line x1="471" y1="355.3" x2="471" y2="365" stroke="#bcbcc0" stroke-width="0.8"/>
<line x1="485.6" y1="355.3" x2="485.6" y2="365" stroke="#bcbcc0" stroke-width="0.8"/>
<line x1="489.3" y1="355.3" x2="489.3" y2="365" stroke="#bcbcc0" stroke-width="0.8"/>
<line x1="491.1" y1="355.3" x2="491.1" y2="365" stroke="#a0a0a0" stroke-width="0.8"/>
<line x1="493.9" y1="355.3" x2="493.9" y2="365" stroke="#808080" stroke-width="0.8"/>
<line x1="498.4" y1="355.3" x2="498.4" y2="365" stroke="#bcbcc0" stroke-width="0.8"/>
<line x1="502.1" y1="355.3" x2="502.1" y2="365" stroke="#bcbcc0" stroke-width="0.8"/>
<line x1="504.8" y1="355.3" x2="504.8" y2="365" stroke="#bcbcc0" stroke-width="0.8"/>
<line x1="507.6" y1="355.3" x2="507.6" y2="365" stroke="#909090" stroke-width="0.8"/>
<linearGradient id="cb609" gradientUnits="userSpaceOnUse" x1="423.2" x2="508.6" y1="0" y2="0"><stop offset="0.0000" stop-color="#e02020"/><stop offset="0.0808" stop-color="#e02020"/><stop offset="0.0972" stop-color="#f09088"/><stop offset="0.1241" stop-color="#f09088"/><stop offset="0.1405" stop-color="#f4dcdc"/><stop offset="0.1768" stop-color="#f6f6f8"/><stop offset="0.1932" stop-color="#a8d0ec"/><stop offset="0.2096" stop-color="#a8d0ec"/><stop offset="0.2260" stop-color="#0882c0"/><stop offset="0.8091" stop-color="#0882c0"/><stop offset="0.8255" stop-color="#0a5a98"/><stop offset="1.0000" stop-color="#0a5a98"/></linearGradient>
<rect x="423.2" y="365.7" width="85.40000000000003" height="4.0" fill="url(#cb609)"/>
<polygon points="423.70,389.00 423.70,379.97 423.72,380.01 423.77,380.08 423.83,380.18 423.91,380.30 424.00,380.44 424.10,380.60 424.21,380.78 424.34,380.97 424.47,381.18 424.61,381.40 424.76,381.64 424.92,381.89 425.08,382.15 425.26,382.30 425.44,382.43 425.63,382.57 425.83,382.72 426.03,382.87 426.24,383.03 426.46,383.20 426.68,383.30 426.91,383.38 427.15,383.47 427.39,383.57 427.64,383.66 427.90,383.76 428.16,383.86 428.42,383.96 428.70,384.07 428.98,384.17 429.26,384.28 429.55,384.39 429.84,384.51 430.14,384.62 430.45,384.74 430.76,384.86 431.08,384.98 431.40,385.04 431.73,385.07 432.06,385.11 432.40,385.15 432.74,385.19 433.08,385.23 433.44,385.27 433.79,385.31 434.15,385.35 434.52,385.39 434.89,385.43 435.27,385.47 435.65,385.52 436.03,385.56 436.42,385.60 436.81,385.65 437.21,385.69 437.61,385.74 438.02,385.78 438.43,385.83 438.85,385.88 439.27,385.92 439.69,385.97 440.12,386.02 440.55,386.07 440.99,386.12 441.43,386.17 441.88,386.19 442.33,386.22 442.78,386.24 443.24,386.27 443.70,386.29 444.16,386.32 444.63,386.35 445.11,386.37 445.59,386.40 446.07,386.43 446.55,386.45 447.04,386.48 447.54,386.51 448.03,386.54 448.53,386.57 449.04,386.59 449.55,386.62 450.06,386.65 450.58,386.68 451.10,386.71 451.62,386.74 452.15,386.77 452.68,386.80 453.21,386.81 453.75,386.83 454.29,386.85 454.84,386.87 455.39,386.88 455.94,386.90 456.50,386.92 457.06,386.94 457.62,386.96 458.19,386.97 458.76,386.99 459.33,387.01 459.91,387.03 460.49,387.05 461.08,387.07 461.67,387.09 462.26,387.11 462.85,387.12 463.45,387.14 464.05,387.16 464.66,387.18 465.27,387.20 465.88,387.22 466.49,387.24 467.11,387.26 467.73,387.28 468.36,387.30 468.99,387.32 469.62,387.34 470.25,387.36 470.89,387.38 471.53,387.40 472.18,387.43 471.96,389.00" fill="#b2b2b2"/>
<polyline points="423.70,379.97 423.72,380.01 423.77,380.08 423.83,380.18 423.91,380.30 424.00,380.44 424.10,380.60 424.21,380.78 424.34,380.97 424.47,381.18 424.61,381.40 424.76,381.64 424.92,381.89 425.08,382.15 425.26,382.30 425.44,382.43 425.63,382.57 425.83,382.72 426.03,382.87 426.24,383.03 426.46,383.20 426.68,383.30 426.91,383.38 427.15,383.47 427.39,383.57 427.64,383.66 427.90,383.76 428.16,383.86 428.42,383.96 428.70,384.07 428.98,384.17 429.26,384.28 429.55,384.39 429.84,384.51 430.14,384.62 430.45,384.74 430.76,384.86 431.08,384.98 431.40,385.04 431.73,385.07 432.06,385.11 432.40,385.15 432.74,385.19 433.08,385.23 433.44,385.27 433.79,385.31 434.15,385.35 434.52,385.39 434.89,385.43 435.27,385.47 435.65,385.52 436.03,385.56 436.42,385.60 436.81,385.65 437.21,385.69 437.61,385.74 438.02,385.78 438.43,385.83 438.85,385.88 439.27,385.92 439.69,385.97 440.12,386.02 440.55,386.07 440.99,386.12 441.43,386.17 441.88,386.19 442.33,386.22 442.78,386.24 443.24,386.27 443.70,386.29 444.16,386.32 444.63,386.35 445.11,386.37 445.59,386.40 446.07,386.43 446.55,386.45 447.04,386.48 447.54,386.51 448.03,386.54 448.53,386.57 449.04,386.59 449.55,386.62 450.06,386.65 450.58,386.68 451.10,386.71 451.62,386.74 452.15,386.77 452.68,386.80 453.21,386.81 453.75,386.83 454.29,386.85 454.84,386.87 455.39,386.88 455.94,386.90 456.50,386.92 457.06,386.94 457.62,386.96 458.19,386.97 458.76,386.99 459.33,387.01 459.91,387.03 460.49,387.05 461.08,387.07 461.67,387.09 462.26,387.11 462.85,387.12 463.45,387.14 464.05,387.16 464.66,387.18 465.27,387.20 465.88,387.22 466.49,387.24 467.11,387.26 467.73,387.28 468.36,387.30 468.99,387.32 469.62,387.34 470.25,387.36 470.89,387.38 471.53,387.40 472.18,387.43" fill="none" stroke="#9a9a9a" stroke-width="0.5" stroke-linejoin="round"/>
<polygon points="471.96,389.00 471.96,390.37 472.27,390.37 472.57,390.38 472.88,390.38 473.18,390.39 473.49,390.39 473.80,390.40 474.10,390.41 474.41,390.41 474.71,390.42 475.02,390.42 475.32,390.43 475.63,390.44 475.93,390.44 476.24,390.45 476.54,390.45 476.85,390.46 477.15,390.46 477.46,390.47 477.76,390.48 478.07,390.48 478.37,390.49 478.68,390.49 478.99,390.50 479.29,390.50 479.60,390.51 479.90,390.52 480.21,390.52 480.51,390.53 480.82,390.53 481.12,390.54 481.43,390.55 481.73,390.55 482.04,390.56 482.34,390.56 482.65,390.57 482.95,390.57 483.26,390.59 483.56,390.60 483.87,390.61 484.18,390.62 484.48,390.63 484.79,390.64 485.09,390.66 485.40,390.67 485.70,390.68 486.01,390.69 486.31,390.70 486.62,390.71 486.92,390.73 487.23,390.74 487.53,390.75 487.84,390.76 488.14,390.77 488.45,390.79 488.76,390.80 489.06,390.81 489.37,390.82 489.67,390.83 489.98,390.84 490.28,390.86 490.59,390.87 490.89,390.88 491.20,390.89 491.50,390.90 491.81,390.91 492.11,390.93 492.42,390.94 492.72,390.95 493.03,390.96 493.33,390.97 493.64,390.98 493.95,391.00 494.25,391.02 494.56,391.05 494.86,391.08 495.17,391.11 495.47,391.13 495.78,391.16 496.08,391.19 496.39,391.22 496.69,391.25 497.00,391.27 497.30,391.30 497.61,391.33 497.91,391.36 498.22,391.39 498.52,391.42 498.83,391.44 499.14,391.47 499.44,391.50 499.75,391.53 500.05,391.56 500.36,391.58 500.66,391.61 500.97,391.64 501.27,391.67 501.58,391.69 501.88,391.72 502.19,391.75 502.49,391.78 502.80,391.81 503.10,391.83 503.41,391.92 503.72,392.01 504.02,392.10 504.33,392.19 504.63,392.27 504.94,392.36 505.24,392.45 505.55,392.54 505.85,392.62 506.16,392.71 506.46,392.80 506.77,392.88 507.07,393.15 507.38,393.41 507.68,393.67 507.99,393.94 508.29,394.20 508.60,394.46 508.60,389.00" fill="#b2b2b2"/>
<polyline points="471.96,390.37 472.27,390.37 472.57,390.38 472.88,390.38 473.18,390.39 473.49,390.39 473.80,390.40 474.10,390.41 474.41,390.41 474.71,390.42 475.02,390.42 475.32,390.43 475.63,390.44 475.93,390.44 476.24,390.45 476.54,390.45 476.85,390.46 477.15,390.46 477.46,390.47 477.76,390.48 478.07,390.48 478.37,390.49 478.68,390.49 478.99,390.50 479.29,390.50 479.60,390.51 479.90,390.52 480.21,390.52 480.51,390.53 480.82,390.53 481.12,390.54 481.43,390.55 481.73,390.55 482.04,390.56 482.34,390.56 482.65,390.57 482.95,390.57 483.26,390.59 483.56,390.60 483.87,390.61 484.18,390.62 484.48,390.63 484.79,390.64 485.09,390.66 485.40,390.67 485.70,390.68 486.01,390.69 486.31,390.70 486.62,390.71 486.92,390.73 487.23,390.74 487.53,390.75 487.84,390.76 488.14,390.77 488.45,390.79 488.76,390.80 489.06,390.81 489.37,390.82 489.67,390.83 489.98,390.84 490.28,390.86 490.59,390.87 490.89,390.88 491.20,390.89 491.50,390.90 491.81,390.91 492.11,390.93 492.42,390.94 492.72,390.95 493.03,390.96 493.33,390.97 493.64,390.98 493.95,391.00 494.25,391.02 494.56,391.05 494.86,391.08 495.17,391.11 495.47,391.13 495.78,391.16 496.08,391.19 496.39,391.22 496.69,391.25 497.00,391.27 497.30,391.30 497.61,391.33 497.91,391.36 498.22,391.39 498.52,391.42 498.83,391.44 499.14,391.47 499.44,391.50 499.75,391.53 500.05,391.56 500.36,391.58 500.66,391.61 500.97,391.64 501.27,391.67 501.58,391.69 501.88,391.72 502.19,391.75 502.49,391.78 502.80,391.81 503.10,391.83 503.41,391.92 503.72,392.01 504.02,392.10 504.33,392.19 504.63,392.27 504.94,392.36 505.24,392.45 505.55,392.54 505.85,392.62 506.16,392.71 506.46,392.80 506.77,392.88 507.07,393.15 507.38,393.41 507.68,393.67 507.99,393.94 508.29,394.20 508.60,394.46" fill="none" stroke="#9a9a9a" stroke-width="0.5" stroke-linejoin="round"/>
<line x1="421.4" y1="375.6" x2="423.2" y2="375.6" stroke="#333" stroke-width="0.8"/>
<text x="419.3" y="377.05" font-size="4.2" text-anchor="end" font-weight="normal" font-style="normal" fill="#3a3a3a" stroke="#3a3a3a" stroke-width="0.076">2</text>
<line x1="421.4" y1="382.2" x2="423.2" y2="382.2" stroke="#333" stroke-width="0.8"/>
<text x="419.3" y="383.65" font-size="4.2" text-anchor="end" font-weight="normal" font-style="normal" fill="#3a3a3a" stroke="#3a3a3a" stroke-width="0.076">1</text>
<line x1="421.4" y1="388.9" x2="423.2" y2="388.9" stroke="#333" stroke-width="0.8"/>
<text x="419.3" y="390.34999999999997" font-size="4.2" text-anchor="end" font-weight="normal" font-style="normal" fill="#3a3a3a" stroke="#3a3a3a" stroke-width="0.076">0</text>
<line x1="421.4" y1="395.6" x2="423.2" y2="395.6" stroke="#333" stroke-width="0.8"/>
<text x="419.3" y="397.05" font-size="4.2" text-anchor="end" font-weight="normal" font-style="normal" fill="#3a3a3a" stroke="#3a3a3a" stroke-width="0.076">&#8722;1</text>
<line x1="423.2" y1="313" x2="423.2" y2="399.4" stroke="#2e2e2e" stroke-width="1"/>
<line x1="422.7" y1="398.9" x2="509.0" y2="398.9" stroke="#2e2e2e" stroke-width="1"/>
<line x1="443.3" y1="398.9" x2="443.3" y2="400.6" stroke="#333" stroke-width="0.8"/>
<text x="443.3" y="405.9" font-size="4.9" text-anchor="middle" font-weight="normal" font-style="normal" fill="#606060" stroke="#606060" stroke-width="0.088" textLength="7.6" lengthAdjust="spacingAndGlyphs">200</text>
<line x1="462.9" y1="398.9" x2="462.9" y2="400.6" stroke="#333" stroke-width="0.8"/>
<text x="462.9" y="405.9" font-size="4.9" text-anchor="middle" font-weight="normal" font-style="normal" fill="#606060" stroke="#606060" stroke-width="0.088" textLength="7.6" lengthAdjust="spacingAndGlyphs">400</text>
<line x1="484.0" y1="398.9" x2="484.0" y2="400.6" stroke="#333" stroke-width="0.8"/>
<text x="484.0" y="405.9" font-size="4.9" text-anchor="middle" font-weight="normal" font-style="normal" fill="#606060" stroke="#606060" stroke-width="0.088" textLength="7.6" lengthAdjust="spacingAndGlyphs">600</text>
<line x1="502.0" y1="398.9" x2="502.0" y2="400.6" stroke="#333" stroke-width="0.8"/>
<text x="502.0" y="405.9" font-size="4.9" text-anchor="middle" font-weight="normal" font-style="normal" fill="#606060" stroke="#606060" stroke-width="0.088" textLength="7.6" lengthAdjust="spacingAndGlyphs">800</text>
<text x="469.31600000000003" y="378.6" font-size="4.4" fill="#2a2a2a" stroke="#2a2a2a" stroke-width="0.12"><tspan font-style="italic">P adjust</tspan>: .02</text>
<text x="469.31600000000003" y="384.0" font-size="4.4" text-anchor="start" font-weight="normal" font-style="normal" fill="#2a2a2a" stroke="#2a2a2a" stroke-width="0.079">NES: &#8722;2.14</text>
<text x="407.9" y="332.5" font-size="4.2" text-anchor="middle" font-weight="normal" font-style="normal" fill="#333" stroke="#333" stroke-width="0.14" transform="rotate(-90 407.9 332.5)">Running enrichment score</text>
<text x="407.9" y="381.5" font-size="4.3" text-anchor="middle" font-weight="normal" font-style="normal" fill="#333" stroke="#333" stroke-width="0.14" transform="rotate(-90 407.9 381.5)" textLength="36.5" lengthAdjust="spacingAndGlyphs">Ranked list metric</text>
<text x="465.9" y="412.8" font-size="5.0" text-anchor="middle" font-weight="normal" font-style="normal" fill="#4a4a4a" stroke="#4a4a4a" stroke-width="0.09" textLength="46" lengthAdjust="spacingAndGlyphs">Rank in ordered dataset</text>
<rect x="53.099999999999994" y="431.1" width="85.30000000000001" height="23.8" fill="none" stroke="#9a9a9a" stroke-width="0.85" stroke-dasharray="3.3 2.4"/>
<text x="95.6" y="441.7" font-size="5.3" text-anchor="middle" font-weight="normal" font-style="normal" fill="#222" stroke="#222" stroke-width="0.12">HALLMARK INTERFERON</text>
<text x="95.6" y="448.1" font-size="5.3" text-anchor="middle" font-weight="normal" font-style="normal" fill="#222" stroke="#222" stroke-width="0.12">ALPHA RESPONSE</text>
<line x1="63.05000000000001" y1="459.5" x2="63.05000000000001" y2="501.5" stroke="#f6f6f6" stroke-width="0.8"/>
<line x1="74.9" y1="459.5" x2="74.9" y2="501.5" stroke="#f6f6f6" stroke-width="0.8"/>
<line x1="86.75" y1="459.5" x2="86.75" y2="501.5" stroke="#f6f6f6" stroke-width="0.8"/>
<line x1="98.6" y1="459.5" x2="98.6" y2="501.5" stroke="#f6f6f6" stroke-width="0.8"/>
<line x1="110.44999999999999" y1="459.5" x2="110.44999999999999" y2="501.5" stroke="#f6f6f6" stroke-width="0.8"/>
<line x1="122.29999999999998" y1="459.5" x2="122.29999999999998" y2="501.5" stroke="#f6f6f6" stroke-width="0.8"/>
<line x1="134.14999999999998" y1="459.5" x2="134.14999999999998" y2="501.5" stroke="#f6f6f6" stroke-width="0.8"/>
<line x1="51.0" y1="460.5" x2="52.8" y2="460.5" stroke="#333" stroke-width="0.8"/>
<text x="49.199999999999996" y="462.03" font-size="4.25" text-anchor="end" font-weight="normal" font-style="normal" fill="#3a3a3a" stroke="#3a3a3a" stroke-width="0.076">0.1</text>
<line x1="51.0" y1="472.3" x2="52.8" y2="472.3" stroke="#333" stroke-width="0.8"/>
<text x="49.199999999999996" y="473.83" font-size="4.25" text-anchor="end" font-weight="normal" font-style="normal" fill="#3a3a3a" stroke="#3a3a3a" stroke-width="0.076">&#8722;0.2</text>
<line x1="51.0" y1="483.5" x2="52.8" y2="483.5" stroke="#333" stroke-width="0.8"/>
<text x="49.199999999999996" y="485.03" font-size="4.25" text-anchor="end" font-weight="normal" font-style="normal" fill="#3a3a3a" stroke="#3a3a3a" stroke-width="0.076">&#8722;0.4</text>
<line x1="51.0" y1="494.5" x2="52.8" y2="494.5" stroke="#333" stroke-width="0.8"/>
<text x="49.199999999999996" y="496.03" font-size="4.25" text-anchor="end" font-weight="normal" font-style="normal" fill="#3a3a3a" stroke="#3a3a3a" stroke-width="0.076">&#8722;0.6</text>
<polyline points="53.00,460.50 73.50,473.10 74.50,472.70 76.00,473.80 103.90,491.00 105.00,490.70 108.30,492.70 113.70,494.90 119.10,497.00 123.50,498.60 125.70,497.50 128.90,494.90 131.10,493.60 133.30,495.30 135.40,494.20 136.50,486.60 137.60,467.00 138.00,460.00" fill="none" stroke="#b0d0a6" stroke-width="0.85" stroke-linejoin="round"/>
<line x1="74.5" y1="501.8" x2="74.5" y2="511.5" stroke="#bcbcc0" stroke-width="0.8"/>
<line x1="103.8" y1="501.8" x2="103.8" y2="511.5" stroke="#bcbcc0" stroke-width="0.8"/>
<line x1="106.5" y1="501.8" x2="106.5" y2="511.5" stroke="#bcbcc0" stroke-width="0.8"/>
<line x1="112.9" y1="501.8" x2="112.9" y2="511.5" stroke="#bcbcc0" stroke-width="0.8"/>
<line x1="120.2" y1="501.8" x2="120.2" y2="511.5" stroke="#bcbcc0" stroke-width="0.8"/>
<line x1="124.8" y1="501.8" x2="124.8" y2="511.5" stroke="#a0a0a0" stroke-width="0.8"/>
<line x1="126.6" y1="501.8" x2="126.6" y2="511.5" stroke="#bcbcc0" stroke-width="0.8"/>
<line x1="129.4" y1="501.8" x2="129.4" y2="511.5" stroke="#bcbcc0" stroke-width="0.8"/>
<line x1="132.1" y1="501.8" x2="132.1" y2="511.5" stroke="#bcbcc0" stroke-width="0.8"/>
<line x1="137" y1="501.8" x2="137" y2="511.5" stroke="#505050" stroke-width="0.8"/>
<linearGradient id="cb667" gradientUnits="userSpaceOnUse" x1="52.8" x2="137.8" y1="0" y2="0"><stop offset="0.0000" stop-color="#f8c0c0"/><stop offset="0.1071" stop-color="#fae4e4"/><stop offset="0.1227" stop-color="#fbf4f4"/><stop offset="0.1302" stop-color="#fbf4f4"/><stop offset="0.1459" stop-color="#80c8ee"/><stop offset="0.1929" stop-color="#80c8ee"/><stop offset="0.2094" stop-color="#10a6d0"/><stop offset="0.3435" stop-color="#10a6d0"/><stop offset="0.3600" stop-color="#0882c0"/><stop offset="0.7306" stop-color="#0882c0"/><stop offset="0.7471" stop-color="#0a5ea0"/><stop offset="1.0000" stop-color="#0a5ea0"/></linearGradient>
<rect x="52.8" y="512.2" width="85.00000000000001" height="4.0" fill="url(#cb667)"/>
<polygon points="53.30,535.50 53.30,526.47 53.32,526.51 53.36,526.58 53.42,526.68 53.49,526.80 53.58,526.94 53.67,527.10 53.77,527.28 53.89,527.47 54.01,527.68 54.14,527.90 54.28,528.14 54.42,528.39 54.58,528.65 54.74,528.80 54.90,528.93 55.08,529.07 55.26,529.22 55.45,529.37 55.64,529.53 55.84,529.70 56.05,529.80 56.26,529.88 56.48,529.97 56.70,530.07 56.93,530.16 57.17,530.26 57.41,530.36 57.65,530.46 57.91,530.57 58.16,530.67 58.42,530.78 58.69,530.89 58.96,531.01 59.24,531.12 59.52,531.24 59.81,531.36 60.10,531.48 60.40,531.54 60.70,531.57 61.00,531.61 61.31,531.65 61.63,531.69 61.95,531.73 62.27,531.77 62.60,531.81 62.93,531.85 63.27,531.89 63.61,531.93 63.96,531.97 64.31,532.02 64.66,532.06 65.02,532.10 65.38,532.15 65.75,532.19 66.12,532.24 66.50,532.28 66.88,532.33 67.26,532.38 67.65,532.42 68.04,532.47 68.43,532.52 68.83,532.57 69.23,532.62 69.64,532.67 70.05,532.69 70.47,532.72 70.88,532.74 71.31,532.77 71.73,532.79 72.16,532.82 72.59,532.85 73.03,532.87 73.47,532.90 73.91,532.93 74.36,532.95 74.81,532.98 75.27,533.01 75.73,533.04 76.19,533.07 76.65,533.09 77.12,533.12 77.59,533.15 78.07,533.18 78.55,533.21 79.03,533.24 79.52,533.27 80.01,533.30 80.50,533.31 81.00,533.33 81.50,533.35 82.00,533.37 82.51,533.38 83.01,533.40 83.53,533.42 84.04,533.44 84.56,533.46 85.09,533.47 85.61,533.49 86.14,533.51 86.67,533.53 87.21,533.55 87.75,533.57 88.29,533.59 88.83,533.61 89.38,533.62 89.93,533.64 90.49,533.66 91.05,533.68 91.61,533.70 92.17,533.72 92.74,533.74 93.31,533.76 93.88,533.78 94.46,533.80 95.04,533.82 95.62,533.84 96.20,533.86 96.79,533.88 97.38,533.90 97.98,533.92 97.74,535.50" fill="#b2b2b2"/>
<polyline points="53.30,526.47 53.32,526.51 53.36,526.58 53.42,526.68 53.49,526.80 53.58,526.94 53.67,527.10 53.77,527.28 53.89,527.47 54.01,527.68 54.14,527.90 54.28,528.14 54.42,528.39 54.58,528.65 54.74,528.80 54.90,528.93 55.08,529.07 55.26,529.22 55.45,529.37 55.64,529.53 55.84,529.70 56.05,529.80 56.26,529.88 56.48,529.97 56.70,530.07 56.93,530.16 57.17,530.26 57.41,530.36 57.65,530.46 57.91,530.57 58.16,530.67 58.42,530.78 58.69,530.89 58.96,531.01 59.24,531.12 59.52,531.24 59.81,531.36 60.10,531.48 60.40,531.54 60.70,531.57 61.00,531.61 61.31,531.65 61.63,531.69 61.95,531.73 62.27,531.77 62.60,531.81 62.93,531.85 63.27,531.89 63.61,531.93 63.96,531.97 64.31,532.02 64.66,532.06 65.02,532.10 65.38,532.15 65.75,532.19 66.12,532.24 66.50,532.28 66.88,532.33 67.26,532.38 67.65,532.42 68.04,532.47 68.43,532.52 68.83,532.57 69.23,532.62 69.64,532.67 70.05,532.69 70.47,532.72 70.88,532.74 71.31,532.77 71.73,532.79 72.16,532.82 72.59,532.85 73.03,532.87 73.47,532.90 73.91,532.93 74.36,532.95 74.81,532.98 75.27,533.01 75.73,533.04 76.19,533.07 76.65,533.09 77.12,533.12 77.59,533.15 78.07,533.18 78.55,533.21 79.03,533.24 79.52,533.27 80.01,533.30 80.50,533.31 81.00,533.33 81.50,533.35 82.00,533.37 82.51,533.38 83.01,533.40 83.53,533.42 84.04,533.44 84.56,533.46 85.09,533.47 85.61,533.49 86.14,533.51 86.67,533.53 87.21,533.55 87.75,533.57 88.29,533.59 88.83,533.61 89.38,533.62 89.93,533.64 90.49,533.66 91.05,533.68 91.61,533.70 92.17,533.72 92.74,533.74 93.31,533.76 93.88,533.78 94.46,533.80 95.04,533.82 95.62,533.84 96.20,533.86 96.79,533.88 97.38,533.90 97.98,533.92" fill="none" stroke="#9a9a9a" stroke-width="0.5" stroke-linejoin="round"/>
<polygon points="97.74,535.50 97.74,536.74 98.08,536.74 98.42,536.75 98.76,536.75 99.10,536.76 99.43,536.76 99.77,536.77 100.11,536.77 100.45,536.78 100.79,536.78 101.13,536.79 101.47,536.79 101.81,536.80 102.14,536.80 102.48,536.81 102.82,536.81 103.16,536.82 103.50,536.82 103.84,536.83 104.18,536.84 104.52,536.84 104.86,536.85 105.19,536.85 105.53,536.86 105.87,536.86 106.21,536.87 106.55,536.87 106.89,536.88 107.23,536.88 107.57,536.89 107.91,536.89 108.24,536.90 108.58,536.90 108.92,536.91 109.26,536.91 109.60,536.92 109.94,536.92 110.28,536.94 110.62,536.95 110.95,536.96 111.29,536.97 111.63,536.98 111.97,536.99 112.31,537.00 112.65,537.01 112.99,537.02 113.33,537.03 113.67,537.04 114.00,537.05 114.34,537.06 114.68,537.07 115.02,537.08 115.36,537.09 115.70,537.10 116.04,537.12 116.38,537.13 116.71,537.14 117.05,537.15 117.39,537.16 117.73,537.17 118.07,537.18 118.41,537.19 118.75,537.20 119.09,537.21 119.43,537.22 119.76,537.23 120.10,537.24 120.44,537.25 120.78,537.26 121.12,537.27 121.46,537.28 121.80,537.29 122.14,537.30 122.47,537.33 122.81,537.36 123.15,537.38 123.49,537.41 123.83,537.43 124.17,537.46 124.51,537.48 124.85,537.51 125.19,537.53 125.52,537.56 125.86,537.58 126.20,537.61 126.54,537.63 126.88,537.66 127.22,537.68 127.56,537.71 127.90,537.74 128.24,537.76 128.57,537.79 128.91,537.81 129.25,537.84 129.59,537.86 129.93,537.89 130.27,537.91 130.61,537.94 130.95,537.96 131.28,537.99 131.62,538.01 131.96,538.04 132.30,538.07 132.64,538.14 132.98,538.22 133.32,538.30 133.66,538.38 134.00,538.46 134.33,538.54 134.67,538.62 135.01,538.70 135.35,538.78 135.69,538.86 136.03,538.94 136.37,539.01 136.71,539.25 137.04,539.49 137.38,539.73 137.72,539.97 138.06,540.20 138.40,540.44 138.40,535.50" fill="#b2b2b2"/>
<polyline points="97.74,536.74 98.08,536.74 98.42,536.75 98.76,536.75 99.10,536.76 99.43,536.76 99.77,536.77 100.11,536.77 100.45,536.78 100.79,536.78 101.13,536.79 101.47,536.79 101.81,536.80 102.14,536.80 102.48,536.81 102.82,536.81 103.16,536.82 103.50,536.82 103.84,536.83 104.18,536.84 104.52,536.84 104.86,536.85 105.19,536.85 105.53,536.86 105.87,536.86 106.21,536.87 106.55,536.87 106.89,536.88 107.23,536.88 107.57,536.89 107.91,536.89 108.24,536.90 108.58,536.90 108.92,536.91 109.26,536.91 109.60,536.92 109.94,536.92 110.28,536.94 110.62,536.95 110.95,536.96 111.29,536.97 111.63,536.98 111.97,536.99 112.31,537.00 112.65,537.01 112.99,537.02 113.33,537.03 113.67,537.04 114.00,537.05 114.34,537.06 114.68,537.07 115.02,537.08 115.36,537.09 115.70,537.10 116.04,537.12 116.38,537.13 116.71,537.14 117.05,537.15 117.39,537.16 117.73,537.17 118.07,537.18 118.41,537.19 118.75,537.20 119.09,537.21 119.43,537.22 119.76,537.23 120.10,537.24 120.44,537.25 120.78,537.26 121.12,537.27 121.46,537.28 121.80,537.29 122.14,537.30 122.47,537.33 122.81,537.36 123.15,537.38 123.49,537.41 123.83,537.43 124.17,537.46 124.51,537.48 124.85,537.51 125.19,537.53 125.52,537.56 125.86,537.58 126.20,537.61 126.54,537.63 126.88,537.66 127.22,537.68 127.56,537.71 127.90,537.74 128.24,537.76 128.57,537.79 128.91,537.81 129.25,537.84 129.59,537.86 129.93,537.89 130.27,537.91 130.61,537.94 130.95,537.96 131.28,537.99 131.62,538.01 131.96,538.04 132.30,538.07 132.64,538.14 132.98,538.22 133.32,538.30 133.66,538.38 134.00,538.46 134.33,538.54 134.67,538.62 135.01,538.70 135.35,538.78 135.69,538.86 136.03,538.94 136.37,539.01 136.71,539.25 137.04,539.49 137.38,539.73 137.72,539.97 138.06,540.20 138.40,540.44" fill="none" stroke="#9a9a9a" stroke-width="0.5" stroke-linejoin="round"/>
<line x1="51.0" y1="519.1" x2="52.8" y2="519.1" stroke="#333" stroke-width="0.8"/>
<text x="48.9" y="520.5500000000001" font-size="4.2" text-anchor="end" font-weight="normal" font-style="normal" fill="#3a3a3a" stroke="#3a3a3a" stroke-width="0.076">3</text>
<line x1="51.0" y1="524.9" x2="52.8" y2="524.9" stroke="#333" stroke-width="0.8"/>
<text x="48.9" y="526.35" font-size="4.2" text-anchor="end" font-weight="normal" font-style="normal" fill="#3a3a3a" stroke="#3a3a3a" stroke-width="0.076">2</text>
<line x1="51.0" y1="530.3" x2="52.8" y2="530.3" stroke="#333" stroke-width="0.8"/>
<text x="48.9" y="531.75" font-size="4.2" text-anchor="end" font-weight="normal" font-style="normal" fill="#3a3a3a" stroke="#3a3a3a" stroke-width="0.076">1</text>
<line x1="51.0" y1="535.8" x2="52.8" y2="535.8" stroke="#333" stroke-width="0.8"/>
<text x="48.9" y="537.25" font-size="4.2" text-anchor="end" font-weight="normal" font-style="normal" fill="#3a3a3a" stroke="#3a3a3a" stroke-width="0.076">0</text>
<line x1="51.0" y1="541.7" x2="52.8" y2="541.7" stroke="#333" stroke-width="0.8"/>
<text x="48.9" y="543.1500000000001" font-size="4.2" text-anchor="end" font-weight="normal" font-style="normal" fill="#3a3a3a" stroke="#3a3a3a" stroke-width="0.076">&#8722;1</text>
<line x1="52.8" y1="459.5" x2="52.8" y2="545.9" stroke="#2e2e2e" stroke-width="1"/>
<line x1="52.3" y1="545.4" x2="138.8" y2="545.4" stroke="#2e2e2e" stroke-width="1"/>
<line x1="74.9" y1="545.4" x2="74.9" y2="547.1" stroke="#333" stroke-width="0.8"/>
<text x="74.9" y="552.4" font-size="4.9" text-anchor="middle" font-weight="normal" font-style="normal" fill="#606060" stroke="#606060" stroke-width="0.088" textLength="7.6" lengthAdjust="spacingAndGlyphs">250</text>
<line x1="98.6" y1="545.4" x2="98.6" y2="547.1" stroke="#333" stroke-width="0.8"/>
<text x="98.6" y="552.4" font-size="4.9" text-anchor="middle" font-weight="normal" font-style="normal" fill="#606060" stroke="#606060" stroke-width="0.088" textLength="7.6" lengthAdjust="spacingAndGlyphs">500</text>
<line x1="122.3" y1="545.4" x2="122.3" y2="547.1" stroke="#333" stroke-width="0.8"/>
<text x="122.3" y="552.4" font-size="4.9" text-anchor="middle" font-weight="normal" font-style="normal" fill="#606060" stroke="#606060" stroke-width="0.088" textLength="7.6" lengthAdjust="spacingAndGlyphs">750</text>
<text x="99.024" y="525.1" font-size="4.4" fill="#2a2a2a" stroke="#2a2a2a" stroke-width="0.12"><tspan font-style="italic">P adjust</tspan>: 7.3e<tspan font-size="3" dy="-1.5">&#8722;</tspan></text>
<text x="99.024" y="530.5" font-size="4.4" text-anchor="start" font-weight="normal" font-style="normal" fill="#2a2a2a" stroke="#2a2a2a" stroke-width="0.079">NES: &#8722;3.01</text>
<text x="37.5" y="479.0" font-size="4.2" text-anchor="middle" font-weight="normal" font-style="normal" fill="#333" stroke="#333" stroke-width="0.14" transform="rotate(-90 37.5 479.0)">Running enrichment score</text>
<text x="37.5" y="528.0" font-size="4.3" text-anchor="middle" font-weight="normal" font-style="normal" fill="#333" stroke="#333" stroke-width="0.14" transform="rotate(-90 37.5 528.0)" textLength="36.5" lengthAdjust="spacingAndGlyphs">Ranked list metric</text>
<text x="95.6" y="559.3" font-size="5.0" text-anchor="middle" font-weight="normal" font-style="normal" fill="#4a4a4a" stroke="#4a4a4a" stroke-width="0.09" textLength="46" lengthAdjust="spacingAndGlyphs">Rank in ordered dataset</text>
<rect x="165.3" y="431.1" width="85.3" height="23.8" fill="none" stroke="#9a9a9a" stroke-width="0.85" stroke-dasharray="3.3 2.4"/>
<text x="207.8" y="441.7" font-size="5.3" text-anchor="middle" font-weight="normal" font-style="normal" fill="#222" stroke="#222" stroke-width="0.12">HALLMARK OXIDATIVE</text>
<text x="207.8" y="448.1" font-size="5.3" text-anchor="middle" font-weight="normal" font-style="normal" fill="#222" stroke="#222" stroke-width="0.12">PHOSPHORYLATION</text>
<line x1="176.5" y1="459.5" x2="176.5" y2="501.5" stroke="#f6f6f6" stroke-width="0.8"/>
<line x1="187.89999999999998" y1="459.5" x2="187.89999999999998" y2="501.5" stroke="#f6f6f6" stroke-width="0.8"/>
<line x1="199.29999999999995" y1="459.5" x2="199.29999999999995" y2="501.5" stroke="#f6f6f6" stroke-width="0.8"/>
<line x1="210.69999999999993" y1="459.5" x2="210.69999999999993" y2="501.5" stroke="#f6f6f6" stroke-width="0.8"/>
<line x1="222.0999999999999" y1="459.5" x2="222.0999999999999" y2="501.5" stroke="#f6f6f6" stroke-width="0.8"/>
<line x1="233.4999999999999" y1="459.5" x2="233.4999999999999" y2="501.5" stroke="#f6f6f6" stroke-width="0.8"/>
<line x1="244.89999999999986" y1="459.5" x2="244.89999999999986" y2="501.5" stroke="#f6f6f6" stroke-width="0.8"/>
<line x1="163.2" y1="460.5" x2="165" y2="460.5" stroke="#333" stroke-width="0.8"/>
<text x="161.4" y="462.03" font-size="4.25" text-anchor="end" font-weight="normal" font-style="normal" fill="#3a3a3a" stroke="#3a3a3a" stroke-width="0.076">0.1</text>
<line x1="163.2" y1="468.2" x2="165" y2="468.2" stroke="#333" stroke-width="0.8"/>
<text x="161.4" y="469.72999999999996" font-size="4.25" text-anchor="end" font-weight="normal" font-style="normal" fill="#3a3a3a" stroke="#3a3a3a" stroke-width="0.076">0.0</text>
<line x1="163.2" y1="476.4" x2="165" y2="476.4" stroke="#333" stroke-width="0.8"/>
<text x="161.4" y="477.92999999999995" font-size="4.25" text-anchor="end" font-weight="normal" font-style="normal" fill="#3a3a3a" stroke="#3a3a3a" stroke-width="0.076">&#8722;0.1</text>
<line x1="163.2" y1="484.6" x2="165" y2="484.6" stroke="#333" stroke-width="0.8"/>
<text x="161.4" y="486.13" font-size="4.25" text-anchor="end" font-weight="normal" font-style="normal" fill="#3a3a3a" stroke="#3a3a3a" stroke-width="0.076">&#8722;0.2</text>
<line x1="163.2" y1="492.8" x2="165" y2="492.8" stroke="#333" stroke-width="0.8"/>
<text x="161.4" y="494.33" font-size="4.25" text-anchor="end" font-weight="normal" font-style="normal" fill="#3a3a3a" stroke="#3a3a3a" stroke-width="0.076">&#8722;0.3</text>
<line x1="163.2" y1="500.7" x2="165" y2="500.7" stroke="#333" stroke-width="0.8"/>
<text x="161.4" y="502.22999999999996" font-size="4.25" text-anchor="end" font-weight="normal" font-style="normal" fill="#3a3a3a" stroke="#3a3a3a" stroke-width="0.076">&#8722;0.4</text>
<polyline points="166.40,460.50 183.80,477.90 184.70,472.40 187.40,475.10 189.30,474.70 203.90,487.90 215.80,499.80 216.70,497.40 218.50,499.20 220.30,495.60 223.00,492.50 225.80,490.60 228.60,487.90 231.30,485.20 233.10,486.10 235.00,487.90 237.70,487.00 240.40,477.90 243.20,471.50 245.90,469.60 247.80,472.40 249.90,466.90" fill="none" stroke="#b0d0a6" stroke-width="0.85" stroke-linejoin="round"/>
<line x1="183.8" y1="501.8" x2="183.8" y2="511.5" stroke="#bcbcc0" stroke-width="0.8"/>
<line x1="188.3" y1="501.8" x2="188.3" y2="511.5" stroke="#bcbcc0" stroke-width="0.8"/>
<line x1="203.9" y1="501.8" x2="203.9" y2="511.5" stroke="#bcbcc0" stroke-width="0.8"/>
<line x1="215.8" y1="501.8" x2="215.8" y2="511.5" stroke="#909090" stroke-width="0.8"/>
<line x1="218.5" y1="501.8" x2="218.5" y2="511.5" stroke="#bcbcc0" stroke-width="0.8"/>
<line x1="221.2" y1="501.8" x2="221.2" y2="511.5" stroke="#bcbcc0" stroke-width="0.8"/>
<line x1="224" y1="501.8" x2="224" y2="511.5" stroke="#a0a0a0" stroke-width="0.8"/>
<line x1="225.8" y1="501.8" x2="225.8" y2="511.5" stroke="#bcbcc0" stroke-width="0.8"/>
<line x1="228.6" y1="501.8" x2="228.6" y2="511.5" stroke="#bcbcc0" stroke-width="0.8"/>
<line x1="230.4" y1="501.8" x2="230.4" y2="511.5" stroke="#bcbcc0" stroke-width="0.8"/>
<line x1="235.9" y1="501.8" x2="235.9" y2="511.5" stroke="#a0a0a0" stroke-width="0.8"/>
<line x1="237.7" y1="501.8" x2="237.7" y2="511.5" stroke="#bcbcc0" stroke-width="0.8"/>
<line x1="239.5" y1="501.8" x2="239.5" y2="511.5" stroke="#bcbcc0" stroke-width="0.8"/>
<line x1="241.4" y1="501.8" x2="241.4" y2="511.5" stroke="#bcbcc0" stroke-width="0.8"/>
<line x1="243.2" y1="501.8" x2="243.2" y2="511.5" stroke="#bcbcc0" stroke-width="0.8"/>
<line x1="248.7" y1="501.8" x2="248.7" y2="511.5" stroke="#c0c0c0" stroke-width="0.8"/>
<linearGradient id="cb735" gradientUnits="userSpaceOnUse" x1="165" x2="250.6" y1="0" y2="0"><stop offset="0.0000" stop-color="#e01424"/><stop offset="0.1040" stop-color="#e01424"/><stop offset="0.1203" stop-color="#e88878"/><stop offset="0.2114" stop-color="#e88878"/><stop offset="0.2278" stop-color="#f4dcd8"/><stop offset="0.3283" stop-color="#f8f8fa"/><stop offset="0.3435" stop-color="#a8d0ec"/><stop offset="0.3505" stop-color="#a8d0ec"/><stop offset="0.3657" stop-color="#10a6d0"/><stop offset="0.5315" stop-color="#10a6d0"/><stop offset="0.5479" stop-color="#0a7ab8"/><stop offset="1.0000" stop-color="#0a7ab8"/></linearGradient>
<rect x="165" y="512.2" width="85.6" height="4.0" fill="url(#cb735)"/>
<polygon points="165.50,535.50 165.50,525.61 165.52,525.65 165.56,525.73 165.62,525.84 165.70,525.97 165.78,526.13 165.87,526.30 165.98,526.50 166.09,526.71 166.21,526.94 166.35,527.18 166.49,527.44 166.63,527.71 166.79,528.00 166.95,528.16 167.12,528.31 167.30,528.46 167.48,528.62 167.67,528.79 167.86,528.96 168.07,529.14 168.27,529.25 168.49,529.35 168.71,529.45 168.93,529.55 169.17,529.65 169.40,529.76 169.65,529.87 169.90,529.98 170.15,530.10 170.41,530.21 170.67,530.33 170.94,530.46 171.22,530.58 171.50,530.71 171.78,530.83 172.07,530.96 172.36,531.10 172.66,531.16 172.97,531.20 173.28,531.24 173.59,531.28 173.91,531.32 174.23,531.37 174.56,531.41 174.89,531.45 175.23,531.50 175.57,531.54 175.91,531.59 176.26,531.64 176.61,531.68 176.97,531.73 177.33,531.78 177.70,531.83 178.07,531.88 178.44,531.93 178.82,531.98 179.21,532.03 179.59,532.08 179.98,532.13 180.38,532.18 180.78,532.24 181.18,532.29 181.59,532.34 182.00,532.40 182.41,532.42 182.83,532.45 183.25,532.48 183.68,532.51 184.11,532.54 184.54,532.56 184.98,532.59 185.42,532.62 185.86,532.65 186.31,532.68 186.76,532.71 187.22,532.74 187.68,532.77 188.14,532.80 188.61,532.83 189.08,532.87 189.55,532.90 190.03,532.93 190.51,532.96 190.99,532.99 191.48,533.02 191.97,533.06 192.46,533.09 192.96,533.11 193.46,533.13 193.96,533.14 194.47,533.16 194.98,533.18 195.50,533.20 196.02,533.22 196.54,533.24 197.06,533.26 197.59,533.28 198.12,533.30 198.65,533.32 199.19,533.34 199.73,533.36 200.28,533.38 200.82,533.40 201.37,533.43 201.93,533.45 202.48,533.47 203.04,533.49 203.61,533.51 204.17,533.53 204.74,533.55 205.31,533.57 205.89,533.60 206.47,533.62 207.05,533.64 207.63,533.66 208.22,533.68 208.81,533.71 209.41,533.73 210.00,533.75 210.60,533.77 210.37,535.50" fill="#b2b2b2"/>
<polyline points="165.50,525.61 165.52,525.65 165.56,525.73 165.62,525.84 165.70,525.97 165.78,526.13 165.87,526.30 165.98,526.50 166.09,526.71 166.21,526.94 166.35,527.18 166.49,527.44 166.63,527.71 166.79,528.00 166.95,528.16 167.12,528.31 167.30,528.46 167.48,528.62 167.67,528.79 167.86,528.96 168.07,529.14 168.27,529.25 168.49,529.35 168.71,529.45 168.93,529.55 169.17,529.65 169.40,529.76 169.65,529.87 169.90,529.98 170.15,530.10 170.41,530.21 170.67,530.33 170.94,530.46 171.22,530.58 171.50,530.71 171.78,530.83 172.07,530.96 172.36,531.10 172.66,531.16 172.97,531.20 173.28,531.24 173.59,531.28 173.91,531.32 174.23,531.37 174.56,531.41 174.89,531.45 175.23,531.50 175.57,531.54 175.91,531.59 176.26,531.64 176.61,531.68 176.97,531.73 177.33,531.78 177.70,531.83 178.07,531.88 178.44,531.93 178.82,531.98 179.21,532.03 179.59,532.08 179.98,532.13 180.38,532.18 180.78,532.24 181.18,532.29 181.59,532.34 182.00,532.40 182.41,532.42 182.83,532.45 183.25,532.48 183.68,532.51 184.11,532.54 184.54,532.56 184.98,532.59 185.42,532.62 185.86,532.65 186.31,532.68 186.76,532.71 187.22,532.74 187.68,532.77 188.14,532.80 188.61,532.83 189.08,532.87 189.55,532.90 190.03,532.93 190.51,532.96 190.99,532.99 191.48,533.02 191.97,533.06 192.46,533.09 192.96,533.11 193.46,533.13 193.96,533.14 194.47,533.16 194.98,533.18 195.50,533.20 196.02,533.22 196.54,533.24 197.06,533.26 197.59,533.28 198.12,533.30 198.65,533.32 199.19,533.34 199.73,533.36 200.28,533.38 200.82,533.40 201.37,533.43 201.93,533.45 202.48,533.47 203.04,533.49 203.61,533.51 204.17,533.53 204.74,533.55 205.31,533.57 205.89,533.60 206.47,533.62 207.05,533.64 207.63,533.66 208.22,533.68 208.81,533.71 209.41,533.73 210.00,533.75 210.60,533.77" fill="none" stroke="#9a9a9a" stroke-width="0.5" stroke-linejoin="round"/>
<polygon points="210.37,535.50 210.37,536.93 210.70,536.94 211.04,536.94 211.37,536.95 211.71,536.95 212.04,536.96 212.38,536.97 212.71,536.97 213.05,536.98 213.39,536.99 213.72,536.99 214.06,537.00 214.39,537.00 214.73,537.01 215.06,537.02 215.40,537.02 215.73,537.03 216.07,537.03 216.40,537.04 216.74,537.05 217.07,537.05 217.41,537.06 217.74,537.06 218.08,537.07 218.41,537.08 218.75,537.08 219.08,537.09 219.42,537.10 219.76,537.10 220.09,537.11 220.43,537.11 220.76,537.12 221.10,537.13 221.43,537.13 221.77,537.14 222.10,537.14 222.44,537.15 222.77,537.16 223.11,537.17 223.44,537.19 223.78,537.20 224.11,537.21 224.45,537.22 224.78,537.24 225.12,537.25 225.45,537.26 225.79,537.27 226.13,537.28 226.46,537.30 226.80,537.31 227.13,537.32 227.47,537.33 227.80,537.35 228.14,537.36 228.47,537.37 228.81,537.38 229.14,537.39 229.48,537.41 229.81,537.42 230.15,537.43 230.48,537.44 230.82,537.46 231.15,537.47 231.49,537.48 231.83,537.49 232.16,537.50 232.50,537.52 232.83,537.53 233.17,537.54 233.50,537.55 233.84,537.57 234.17,537.58 234.51,537.59 234.84,537.62 235.18,537.65 235.51,537.68 235.85,537.71 236.18,537.74 236.52,537.77 236.85,537.80 237.19,537.82 237.52,537.85 237.86,537.88 238.20,537.91 238.53,537.94 238.87,537.97 239.20,538.00 239.54,538.03 239.87,538.06 240.21,538.09 240.54,538.12 240.88,538.15 241.21,538.18 241.55,538.21 241.88,538.24 242.22,538.26 242.55,538.29 242.89,538.32 243.22,538.35 243.56,538.38 243.89,538.41 244.23,538.44 244.57,538.47 244.90,538.56 245.24,538.65 245.57,538.75 245.91,538.84 246.24,538.93 246.58,539.02 246.91,539.11 247.25,539.20 247.58,539.29 247.92,539.39 248.25,539.48 248.59,539.57 248.92,539.85 249.26,540.12 249.59,540.39 249.93,540.67 250.26,540.95 250.60,541.22 250.60,535.50" fill="#b2b2b2"/>
<polyline points="210.37,536.93 210.70,536.94 211.04,536.94 211.37,536.95 211.71,536.95 212.04,536.96 212.38,536.97 212.71,536.97 213.05,536.98 213.39,536.99 213.72,536.99 214.06,537.00 214.39,537.00 214.73,537.01 215.06,537.02 215.40,537.02 215.73,537.03 216.07,537.03 216.40,537.04 216.74,537.05 217.07,537.05 217.41,537.06 217.74,537.06 218.08,537.07 218.41,537.08 218.75,537.08 219.08,537.09 219.42,537.10 219.76,537.10 220.09,537.11 220.43,537.11 220.76,537.12 221.10,537.13 221.43,537.13 221.77,537.14 222.10,537.14 222.44,537.15 222.77,537.16 223.11,537.17 223.44,537.19 223.78,537.20 224.11,537.21 224.45,537.22 224.78,537.24 225.12,537.25 225.45,537.26 225.79,537.27 226.13,537.28 226.46,537.30 226.80,537.31 227.13,537.32 227.47,537.33 227.80,537.35 228.14,537.36 228.47,537.37 228.81,537.38 229.14,537.39 229.48,537.41 229.81,537.42 230.15,537.43 230.48,537.44 230.82,537.46 231.15,537.47 231.49,537.48 231.83,537.49 232.16,537.50 232.50,537.52 232.83,537.53 233.17,537.54 233.50,537.55 233.84,537.57 234.17,537.58 234.51,537.59 234.84,537.62 235.18,537.65 235.51,537.68 235.85,537.71 236.18,537.74 236.52,537.77 236.85,537.80 237.19,537.82 237.52,537.85 237.86,537.88 238.20,537.91 238.53,537.94 238.87,537.97 239.20,538.00 239.54,538.03 239.87,538.06 240.21,538.09 240.54,538.12 240.88,538.15 241.21,538.18 241.55,538.21 241.88,538.24 242.22,538.26 242.55,538.29 242.89,538.32 243.22,538.35 243.56,538.38 243.89,538.41 244.23,538.44 244.57,538.47 244.90,538.56 245.24,538.65 245.57,538.75 245.91,538.84 246.24,538.93 246.58,539.02 246.91,539.11 247.25,539.20 247.58,539.29 247.92,539.39 248.25,539.48 248.59,539.57 248.92,539.85 249.26,540.12 249.59,540.39 249.93,540.67 250.26,540.95 250.60,541.22" fill="none" stroke="#9a9a9a" stroke-width="0.5" stroke-linejoin="round"/>
<line x1="163.2" y1="519.1" x2="165" y2="519.1" stroke="#333" stroke-width="0.8"/>
<text x="161.1" y="520.5500000000001" font-size="4.2" text-anchor="end" font-weight="normal" font-style="normal" fill="#3a3a3a" stroke="#3a3a3a" stroke-width="0.076">3</text>
<line x1="163.2" y1="524.9" x2="165" y2="524.9" stroke="#333" stroke-width="0.8"/>
<text x="161.1" y="526.35" font-size="4.2" text-anchor="end" font-weight="normal" font-style="normal" fill="#3a3a3a" stroke="#3a3a3a" stroke-width="0.076">2</text>
<line x1="163.2" y1="530.3" x2="165" y2="530.3" stroke="#333" stroke-width="0.8"/>
<text x="161.1" y="531.75" font-size="4.2" text-anchor="end" font-weight="normal" font-style="normal" fill="#3a3a3a" stroke="#3a3a3a" stroke-width="0.076">1</text>
<line x1="163.2" y1="535.8" x2="165" y2="535.8" stroke="#333" stroke-width="0.8"/>
<text x="161.1" y="537.25" font-size="4.2" text-anchor="end" font-weight="normal" font-style="normal" fill="#3a3a3a" stroke="#3a3a3a" stroke-width="0.076">0</text>
<line x1="163.2" y1="541.7" x2="165" y2="541.7" stroke="#333" stroke-width="0.8"/>
<text x="161.1" y="543.1500000000001" font-size="4.2" text-anchor="end" font-weight="normal" font-style="normal" fill="#3a3a3a" stroke="#3a3a3a" stroke-width="0.076">&#8722;1</text>
<line x1="165" y1="459.5" x2="165" y2="545.9" stroke="#2e2e2e" stroke-width="1"/>
<line x1="164.5" y1="545.4" x2="251.0" y2="545.4" stroke="#2e2e2e" stroke-width="1"/>
<line x1="187.9" y1="545.4" x2="187.9" y2="547.1" stroke="#333" stroke-width="0.8"/>
<text x="187.9" y="552.4" font-size="4.9" text-anchor="middle" font-weight="normal" font-style="normal" fill="#606060" stroke="#606060" stroke-width="0.088" textLength="7.6" lengthAdjust="spacingAndGlyphs">250</text>
<line x1="210.7" y1="545.4" x2="210.7" y2="547.1" stroke="#333" stroke-width="0.8"/>
<text x="210.7" y="552.4" font-size="4.9" text-anchor="middle" font-weight="normal" font-style="normal" fill="#606060" stroke="#606060" stroke-width="0.088" textLength="7.6" lengthAdjust="spacingAndGlyphs">500</text>
<line x1="233.8" y1="545.4" x2="233.8" y2="547.1" stroke="#333" stroke-width="0.8"/>
<text x="233.8" y="552.4" font-size="4.9" text-anchor="middle" font-weight="normal" font-style="normal" fill="#606060" stroke="#606060" stroke-width="0.088" textLength="7.6" lengthAdjust="spacingAndGlyphs">750</text>
<text x="211.224" y="525.1" font-size="4.4" fill="#2a2a2a" stroke="#2a2a2a" stroke-width="0.12"><tspan font-style="italic">P adjust</tspan>: .019</text>
<text x="211.224" y="530.5" font-size="4.4" text-anchor="start" font-weight="normal" font-style="normal" fill="#2a2a2a" stroke="#2a2a2a" stroke-width="0.079">NES: &#8722;1.96</text>
<rect x="278.0" y="431.1" width="84.7" height="23.8" fill="none" stroke="#9a9a9a" stroke-width="0.85" stroke-dasharray="3.3 2.4"/>
<text x="320.2" y="441.7" font-size="5.3" text-anchor="middle" font-weight="normal" font-style="normal" fill="#222" stroke="#222" stroke-width="0.12">HALLMARK INTERFERON</text>
<text x="320.2" y="448.1" font-size="5.3" text-anchor="middle" font-weight="normal" font-style="normal" fill="#222" stroke="#222" stroke-width="0.12">GAMMA RESPONSE</text>
<line x1="287.65" y1="459.5" x2="287.65" y2="501.5" stroke="#f6f6f6" stroke-width="0.8"/>
<line x1="299.7" y1="459.5" x2="299.7" y2="501.5" stroke="#f6f6f6" stroke-width="0.8"/>
<line x1="311.75" y1="459.5" x2="311.75" y2="501.5" stroke="#f6f6f6" stroke-width="0.8"/>
<line x1="323.8" y1="459.5" x2="323.8" y2="501.5" stroke="#f6f6f6" stroke-width="0.8"/>
<line x1="335.85" y1="459.5" x2="335.85" y2="501.5" stroke="#f6f6f6" stroke-width="0.8"/>
<line x1="347.90000000000003" y1="459.5" x2="347.90000000000003" y2="501.5" stroke="#f6f6f6" stroke-width="0.8"/>
<line x1="359.95000000000005" y1="459.5" x2="359.95000000000005" y2="501.5" stroke="#f6f6f6" stroke-width="0.8"/>
<line x1="275.9" y1="464.1" x2="277.7" y2="464.1" stroke="#333" stroke-width="0.8"/>
<text x="274.09999999999997" y="465.63" font-size="4.25" text-anchor="end" font-weight="normal" font-style="normal" fill="#3a3a3a" stroke="#3a3a3a" stroke-width="0.076">0.1</text>
<line x1="275.9" y1="472.4" x2="277.7" y2="472.4" stroke="#333" stroke-width="0.8"/>
<text x="274.09999999999997" y="473.92999999999995" font-size="4.25" text-anchor="end" font-weight="normal" font-style="normal" fill="#3a3a3a" stroke="#3a3a3a" stroke-width="0.076">0.0</text>
<line x1="275.9" y1="480.6" x2="277.7" y2="480.6" stroke="#333" stroke-width="0.8"/>
<text x="274.09999999999997" y="482.13" font-size="4.25" text-anchor="end" font-weight="normal" font-style="normal" fill="#3a3a3a" stroke="#3a3a3a" stroke-width="0.076">&#8722;0.1</text>
<line x1="275.9" y1="488.3" x2="277.7" y2="488.3" stroke="#333" stroke-width="0.8"/>
<text x="274.09999999999997" y="489.83" font-size="4.25" text-anchor="end" font-weight="normal" font-style="normal" fill="#3a3a3a" stroke="#3a3a3a" stroke-width="0.076">&#8722;0.2</text>
<line x1="275.9" y1="496.1" x2="277.7" y2="496.1" stroke="#333" stroke-width="0.8"/>
<text x="274.09999999999997" y="497.63" font-size="4.25" text-anchor="end" font-weight="normal" font-style="normal" fill="#3a3a3a" stroke="#3a3a3a" stroke-width="0.076">&#8722;0.3</text>
<polyline points="279.30,462.30 281.00,460.80 283.00,462.80 285.00,460.80 287.00,462.80 289.00,461.80 291.00,463.80 293.00,463.50 299.40,470.50 308.60,476.90 317.70,484.30 326.80,490.60 332.30,491.60 336.00,493.40 339.60,494.30 345.10,497.00 348.80,498.90 352.40,497.40 356.10,497.00 358.80,495.60 360.70,492.50 361.60,486.10 362.00,472.40" fill="none" stroke="#b0d0a6" stroke-width="0.85" stroke-linejoin="round"/>
<line x1="279.3" y1="501.8" x2="279.3" y2="511.5" stroke="#bcbcc0" stroke-width="0.8"/>
<line x1="283.9" y1="501.8" x2="283.9" y2="511.5" stroke="#bcbcc0" stroke-width="0.8"/>
<line x1="287.5" y1="501.8" x2="287.5" y2="511.5" stroke="#bcbcc0" stroke-width="0.8"/>
<line x1="291.2" y1="501.8" x2="291.2" y2="511.5" stroke="#bcbcc0" stroke-width="0.8"/>
<line x1="298.5" y1="501.8" x2="298.5" y2="511.5" stroke="#bcbcc0" stroke-width="0.8"/>
<line x1="308.6" y1="501.8" x2="308.6" y2="511.5" stroke="#bcbcc0" stroke-width="0.8"/>
<line x1="317.7" y1="501.8" x2="317.7" y2="511.5" stroke="#bcbcc0" stroke-width="0.8"/>
<line x1="320.4" y1="501.8" x2="320.4" y2="511.5" stroke="#bcbcc0" stroke-width="0.8"/>
<line x1="323.2" y1="501.8" x2="323.2" y2="511.5" stroke="#bcbcc0" stroke-width="0.8"/>
<line x1="325.9" y1="501.8" x2="325.9" y2="511.5" stroke="#bcbcc0" stroke-width="0.8"/>
<line x1="328.7" y1="501.8" x2="328.7" y2="511.5" stroke="#bcbcc0" stroke-width="0.8"/>
<line x1="332.3" y1="501.8" x2="332.3" y2="511.5" stroke="#bcbcc0" stroke-width="0.8"/>
<line x1="337.8" y1="501.8" x2="337.8" y2="511.5" stroke="#bcbcc0" stroke-width="0.8"/>
<line x1="340.6" y1="501.8" x2="340.6" y2="511.5" stroke="#bcbcc0" stroke-width="0.8"/>
<line x1="342.4" y1="501.8" x2="342.4" y2="511.5" stroke="#bcbcc0" stroke-width="0.8"/>
<line x1="348.8" y1="501.8" x2="348.8" y2="511.5" stroke="#bcbcc0" stroke-width="0.8"/>
<line x1="350.6" y1="501.8" x2="350.6" y2="511.5" stroke="#bcbcc0" stroke-width="0.8"/>
<line x1="352.4" y1="501.8" x2="352.4" y2="511.5" stroke="#bcbcc0" stroke-width="0.8"/>
<line x1="354.3" y1="501.8" x2="354.3" y2="511.5" stroke="#bcbcc0" stroke-width="0.8"/>
<line x1="356.1" y1="501.8" x2="356.1" y2="511.5" stroke="#bcbcc0" stroke-width="0.8"/>
<line x1="357.9" y1="501.8" x2="357.9" y2="511.5" stroke="#bcbcc0" stroke-width="0.8"/>
<line x1="361.6" y1="501.8" x2="361.6" y2="511.5" stroke="#404040" stroke-width="0.8"/>
<linearGradient id="cb804" gradientUnits="userSpaceOnUse" x1="277.7" x2="362.7" y1="0" y2="0"><stop offset="0.0000" stop-color="#e03030"/><stop offset="0.0859" stop-color="#e03030"/><stop offset="0.1024" stop-color="#f0a0a0"/><stop offset="0.1400" stop-color="#f0a0a0"/><stop offset="0.1565" stop-color="#f8dcdc"/><stop offset="0.2894" stop-color="#f4f2f6"/><stop offset="0.3059" stop-color="#d4e2ee"/><stop offset="0.4412" stop-color="#a0c8e0"/><stop offset="0.4576" stop-color="#10a6d0"/><stop offset="0.7424" stop-color="#10a6d0"/><stop offset="0.7588" stop-color="#0a80c0"/><stop offset="1.0000" stop-color="#0a80c0"/></linearGradient>
<rect x="277.7" y="512.2" width="85.0" height="4.0" fill="url(#cb804)"/>
<polygon points="278.20,535.50 278.20,525.61 278.22,525.65 278.26,525.73 278.32,525.84 278.39,525.97 278.48,526.13 278.57,526.30 278.67,526.50 278.79,526.71 278.91,526.94 279.04,527.18 279.18,527.44 279.32,527.71 279.48,528.00 279.64,528.16 279.81,528.31 279.98,528.46 280.16,528.62 280.35,528.79 280.55,528.96 280.75,529.14 280.95,529.25 281.17,529.35 281.39,529.45 281.61,529.55 281.84,529.65 282.08,529.76 282.32,529.87 282.56,529.98 282.82,530.10 283.07,530.21 283.34,530.33 283.60,530.46 283.88,530.58 284.15,530.71 284.44,530.83 284.72,530.96 285.02,531.10 285.31,531.16 285.62,531.20 285.92,531.24 286.23,531.28 286.55,531.32 286.87,531.37 287.19,531.41 287.52,531.45 287.86,531.50 288.20,531.54 288.54,531.59 288.88,531.64 289.24,531.68 289.59,531.73 289.95,531.78 290.31,531.83 290.68,531.88 291.05,531.93 291.43,531.98 291.81,532.03 292.19,532.08 292.58,532.13 292.97,532.18 293.37,532.24 293.77,532.29 294.17,532.34 294.58,532.40 294.99,532.42 295.41,532.45 295.83,532.48 296.25,532.51 296.68,532.54 297.11,532.56 297.54,532.59 297.98,532.62 298.42,532.65 298.86,532.68 299.31,532.71 299.76,532.74 300.22,532.77 300.68,532.80 301.14,532.83 301.61,532.87 302.08,532.90 302.55,532.93 303.03,532.96 303.51,532.99 303.99,533.02 304.48,533.06 304.97,533.09 305.47,533.11 305.96,533.13 306.46,533.14 306.97,533.16 307.48,533.18 307.99,533.20 308.50,533.22 309.02,533.24 309.54,533.26 310.06,533.28 310.59,533.30 311.12,533.32 311.65,533.34 312.19,533.36 312.73,533.38 313.27,533.40 313.82,533.43 314.37,533.45 314.92,533.47 315.48,533.49 316.04,533.51 316.60,533.53 317.16,533.55 317.73,533.57 318.30,533.60 318.88,533.62 319.46,533.64 320.04,533.66 320.62,533.68 321.21,533.71 321.80,533.73 322.39,533.75 322.99,533.77 322.75,535.50" fill="#b2b2b2"/>
<polyline points="278.20,525.61 278.22,525.65 278.26,525.73 278.32,525.84 278.39,525.97 278.48,526.13 278.57,526.30 278.67,526.50 278.79,526.71 278.91,526.94 279.04,527.18 279.18,527.44 279.32,527.71 279.48,528.00 279.64,528.16 279.81,528.31 279.98,528.46 280.16,528.62 280.35,528.79 280.55,528.96 280.75,529.14 280.95,529.25 281.17,529.35 281.39,529.45 281.61,529.55 281.84,529.65 282.08,529.76 282.32,529.87 282.56,529.98 282.82,530.10 283.07,530.21 283.34,530.33 283.60,530.46 283.88,530.58 284.15,530.71 284.44,530.83 284.72,530.96 285.02,531.10 285.31,531.16 285.62,531.20 285.92,531.24 286.23,531.28 286.55,531.32 286.87,531.37 287.19,531.41 287.52,531.45 287.86,531.50 288.20,531.54 288.54,531.59 288.88,531.64 289.24,531.68 289.59,531.73 289.95,531.78 290.31,531.83 290.68,531.88 291.05,531.93 291.43,531.98 291.81,532.03 292.19,532.08 292.58,532.13 292.97,532.18 293.37,532.24 293.77,532.29 294.17,532.34 294.58,532.40 294.99,532.42 295.41,532.45 295.83,532.48 296.25,532.51 296.68,532.54 297.11,532.56 297.54,532.59 297.98,532.62 298.42,532.65 298.86,532.68 299.31,532.71 299.76,532.74 300.22,532.77 300.68,532.80 301.14,532.83 301.61,532.87 302.08,532.90 302.55,532.93 303.03,532.96 303.51,532.99 303.99,533.02 304.48,533.06 304.97,533.09 305.47,533.11 305.96,533.13 306.46,533.14 306.97,533.16 307.48,533.18 307.99,533.20 308.50,533.22 309.02,533.24 309.54,533.26 310.06,533.28 310.59,533.30 311.12,533.32 311.65,533.34 312.19,533.36 312.73,533.38 313.27,533.40 313.82,533.43 314.37,533.45 314.92,533.47 315.48,533.49 316.04,533.51 316.60,533.53 317.16,533.55 317.73,533.57 318.30,533.60 318.88,533.62 319.46,533.64 320.04,533.66 320.62,533.68 321.21,533.71 321.80,533.73 322.39,533.75 322.99,533.77" fill="none" stroke="#9a9a9a" stroke-width="0.5" stroke-linejoin="round"/>
<polygon points="322.75,535.50 322.75,536.87 323.08,536.87 323.42,536.88 323.75,536.88 324.08,536.89 324.41,536.89 324.75,536.90 325.08,536.91 325.41,536.91 325.75,536.92 326.08,536.92 326.41,536.93 326.75,536.93 327.08,536.94 327.41,536.95 327.74,536.95 328.08,536.96 328.41,536.96 328.74,536.97 329.08,536.98 329.41,536.98 329.74,536.99 330.07,536.99 330.41,537.00 330.74,537.00 331.07,537.01 331.41,537.02 331.74,537.02 332.07,537.03 332.40,537.03 332.74,537.04 333.07,537.05 333.40,537.05 333.74,537.06 334.07,537.06 334.40,537.07 334.74,537.08 335.07,537.09 335.40,537.10 335.73,537.11 336.07,537.12 336.40,537.13 336.73,537.14 337.07,537.16 337.40,537.17 337.73,537.18 338.06,537.19 338.40,537.20 338.73,537.22 339.06,537.23 339.40,537.24 339.73,537.25 340.06,537.26 340.39,537.27 340.73,537.28 341.06,537.30 341.39,537.31 341.73,537.32 342.06,537.33 342.39,537.34 342.73,537.36 343.06,537.37 343.39,537.38 343.72,537.39 344.06,537.40 344.39,537.41 344.72,537.42 345.06,537.44 345.39,537.45 345.72,537.46 346.05,537.47 346.39,537.48 346.72,537.50 347.05,537.52 347.39,537.55 347.72,537.58 348.05,537.61 348.38,537.63 348.72,537.66 349.05,537.69 349.38,537.72 349.72,537.75 350.05,537.77 350.38,537.80 350.71,537.83 351.05,537.86 351.38,537.89 351.71,537.91 352.05,537.94 352.38,537.97 352.71,538.00 353.05,538.03 353.38,538.05 353.71,538.08 354.04,538.11 354.38,538.14 354.71,538.17 355.04,538.20 355.38,538.22 355.71,538.25 356.04,538.28 356.37,538.31 356.71,538.34 357.04,538.42 357.37,538.51 357.71,538.60 358.04,538.68 358.37,538.77 358.70,538.86 359.04,538.95 359.37,539.03 359.70,539.12 360.04,539.21 360.37,539.30 360.70,539.38 361.04,539.65 361.37,539.91 361.70,540.17 362.03,540.43 362.37,540.70 362.70,540.96 362.70,535.50" fill="#b2b2b2"/>
<polyline points="322.75,536.87 323.08,536.87 323.42,536.88 323.75,536.88 324.08,536.89 324.41,536.89 324.75,536.90 325.08,536.91 325.41,536.91 325.75,536.92 326.08,536.92 326.41,536.93 326.75,536.93 327.08,536.94 327.41,536.95 327.74,536.95 328.08,536.96 328.41,536.96 328.74,536.97 329.08,536.98 329.41,536.98 329.74,536.99 330.07,536.99 330.41,537.00 330.74,537.00 331.07,537.01 331.41,537.02 331.74,537.02 332.07,537.03 332.40,537.03 332.74,537.04 333.07,537.05 333.40,537.05 333.74,537.06 334.07,537.06 334.40,537.07 334.74,537.08 335.07,537.09 335.40,537.10 335.73,537.11 336.07,537.12 336.40,537.13 336.73,537.14 337.07,537.16 337.40,537.17 337.73,537.18 338.06,537.19 338.40,537.20 338.73,537.22 339.06,537.23 339.40,537.24 339.73,537.25 340.06,537.26 340.39,537.27 340.73,537.28 341.06,537.30 341.39,537.31 341.73,537.32 342.06,537.33 342.39,537.34 342.73,537.36 343.06,537.37 343.39,537.38 343.72,537.39 344.06,537.40 344.39,537.41 344.72,537.42 345.06,537.44 345.39,537.45 345.72,537.46 346.05,537.47 346.39,537.48 346.72,537.50 347.05,537.52 347.39,537.55 347.72,537.58 348.05,537.61 348.38,537.63 348.72,537.66 349.05,537.69 349.38,537.72 349.72,537.75 350.05,537.77 350.38,537.80 350.71,537.83 351.05,537.86 351.38,537.89 351.71,537.91 352.05,537.94 352.38,537.97 352.71,538.00 353.05,538.03 353.38,538.05 353.71,538.08 354.04,538.11 354.38,538.14 354.71,538.17 355.04,538.20 355.38,538.22 355.71,538.25 356.04,538.28 356.37,538.31 356.71,538.34 357.04,538.42 357.37,538.51 357.71,538.60 358.04,538.68 358.37,538.77 358.70,538.86 359.04,538.95 359.37,539.03 359.70,539.12 360.04,539.21 360.37,539.30 360.70,539.38 361.04,539.65 361.37,539.91 361.70,540.17 362.03,540.43 362.37,540.70 362.70,540.96" fill="none" stroke="#9a9a9a" stroke-width="0.5" stroke-linejoin="round"/>
<line x1="275.9" y1="519.1" x2="277.7" y2="519.1" stroke="#333" stroke-width="0.8"/>
<text x="273.8" y="520.5500000000001" font-size="4.2" text-anchor="end" font-weight="normal" font-style="normal" fill="#3a3a3a" stroke="#3a3a3a" stroke-width="0.076">3</text>
<line x1="275.9" y1="524.9" x2="277.7" y2="524.9" stroke="#333" stroke-width="0.8"/>
<text x="273.8" y="526.35" font-size="4.2" text-anchor="end" font-weight="normal" font-style="normal" fill="#3a3a3a" stroke="#3a3a3a" stroke-width="0.076">2</text>
<line x1="275.9" y1="530.3" x2="277.7" y2="530.3" stroke="#333" stroke-width="0.8"/>
<text x="273.8" y="531.75" font-size="4.2" text-anchor="end" font-weight="normal" font-style="normal" fill="#3a3a3a" stroke="#3a3a3a" stroke-width="0.076">1</text>
<line x1="275.9" y1="535.8" x2="277.7" y2="535.8" stroke="#333" stroke-width="0.8"/>
<text x="273.8" y="537.25" font-size="4.2" text-anchor="end" font-weight="normal" font-style="normal" fill="#3a3a3a" stroke="#3a3a3a" stroke-width="0.076">0</text>
<line x1="275.9" y1="541.7" x2="277.7" y2="541.7" stroke="#333" stroke-width="0.8"/>
<text x="273.8" y="543.1500000000001" font-size="4.2" text-anchor="end" font-weight="normal" font-style="normal" fill="#3a3a3a" stroke="#3a3a3a" stroke-width="0.076">&#8722;1</text>
<line x1="277.7" y1="459.5" x2="277.7" y2="545.9" stroke="#2e2e2e" stroke-width="1"/>
<line x1="277.2" y1="545.4" x2="363.09999999999997" y2="545.4" stroke="#2e2e2e" stroke-width="1"/>
<line x1="299.7" y1="545.4" x2="299.7" y2="547.1" stroke="#333" stroke-width="0.8"/>
<text x="299.7" y="552.4" font-size="4.9" text-anchor="middle" font-weight="normal" font-style="normal" fill="#606060" stroke="#606060" stroke-width="0.088" textLength="7.6" lengthAdjust="spacingAndGlyphs">250</text>
<line x1="323.8" y1="545.4" x2="323.8" y2="547.1" stroke="#333" stroke-width="0.8"/>
<text x="323.8" y="552.4" font-size="4.9" text-anchor="middle" font-weight="normal" font-style="normal" fill="#606060" stroke="#606060" stroke-width="0.088" textLength="7.6" lengthAdjust="spacingAndGlyphs">500</text>
<line x1="347.2" y1="545.4" x2="347.2" y2="547.1" stroke="#333" stroke-width="0.8"/>
<text x="347.2" y="552.4" font-size="4.9" text-anchor="middle" font-weight="normal" font-style="normal" fill="#606060" stroke="#606060" stroke-width="0.088" textLength="7.6" lengthAdjust="spacingAndGlyphs">750</text>
<text x="323.6" y="525.1" font-size="4.4" fill="#2a2a2a" stroke="#2a2a2a" stroke-width="0.12"><tspan font-style="italic">P adjust</tspan>: .029</text>
<text x="323.6" y="530.5" font-size="4.4" text-anchor="start" font-weight="normal" font-style="normal" fill="#2a2a2a" stroke="#2a2a2a" stroke-width="0.079">NES: &#8722;1.86</text>
<rect x="389.90000000000003" y="431.1" width="85.29999999999997" height="23.8" fill="none" stroke="#9a9a9a" stroke-width="0.85" stroke-dasharray="3.3 2.4"/>
<text x="432.4" y="441.7" font-size="5.3" text-anchor="middle" font-weight="normal" font-style="normal" fill="#222" stroke="#222" stroke-width="0.12">HALLMARK ALLOGRAFT</text>
<text x="432.4" y="448.1" font-size="5.3" text-anchor="middle" font-weight="normal" font-style="normal" fill="#222" stroke="#222" stroke-width="0.12">REJECTION</text>
<line x1="401.35" y1="459.5" x2="401.35" y2="501.5" stroke="#f6f6f6" stroke-width="0.8"/>
<line x1="412.8" y1="459.5" x2="412.8" y2="501.5" stroke="#f6f6f6" stroke-width="0.8"/>
<line x1="424.25" y1="459.5" x2="424.25" y2="501.5" stroke="#f6f6f6" stroke-width="0.8"/>
<line x1="435.7" y1="459.5" x2="435.7" y2="501.5" stroke="#f6f6f6" stroke-width="0.8"/>
<line x1="447.15" y1="459.5" x2="447.15" y2="501.5" stroke="#f6f6f6" stroke-width="0.8"/>
<line x1="458.59999999999997" y1="459.5" x2="458.59999999999997" y2="501.5" stroke="#f6f6f6" stroke-width="0.8"/>
<line x1="470.04999999999995" y1="459.5" x2="470.04999999999995" y2="501.5" stroke="#f6f6f6" stroke-width="0.8"/>
<line x1="387.8" y1="464.1" x2="389.6" y2="464.1" stroke="#333" stroke-width="0.8"/>
<text x="386.0" y="465.63" font-size="4.25" text-anchor="end" font-weight="normal" font-style="normal" fill="#3a3a3a" stroke="#3a3a3a" stroke-width="0.076">0.0</text>
<line x1="387.8" y1="472.4" x2="389.6" y2="472.4" stroke="#333" stroke-width="0.8"/>
<text x="386.0" y="473.92999999999995" font-size="4.25" text-anchor="end" font-weight="normal" font-style="normal" fill="#3a3a3a" stroke="#3a3a3a" stroke-width="0.076">&#8722;0.1</text>
<line x1="387.8" y1="480.6" x2="389.6" y2="480.6" stroke="#333" stroke-width="0.8"/>
<text x="386.0" y="482.13" font-size="4.25" text-anchor="end" font-weight="normal" font-style="normal" fill="#3a3a3a" stroke="#3a3a3a" stroke-width="0.076">&#8722;0.2</text>
<line x1="387.8" y1="487.9" x2="389.6" y2="487.9" stroke="#333" stroke-width="0.8"/>
<text x="386.0" y="489.42999999999995" font-size="4.25" text-anchor="end" font-weight="normal" font-style="normal" fill="#3a3a3a" stroke="#3a3a3a" stroke-width="0.076">&#8722;0.3</text>
<line x1="387.8" y1="495.6" x2="389.6" y2="495.6" stroke="#333" stroke-width="0.8"/>
<text x="386.0" y="497.13" font-size="4.25" text-anchor="end" font-weight="normal" font-style="normal" fill="#3a3a3a" stroke="#3a3a3a" stroke-width="0.076">&#8722;0.4</text>
<polyline points="392.30,466.00 393.20,468.20 395.00,461.40 401.50,466.90 402.40,462.30 414.30,472.40 416.00,471.70 420.60,473.30 421.50,474.50 445.30,494.30 449.90,496.70 454.50,498.00 457.20,499.80 459.00,488.80 463.60,486.10 466.40,483.30 469.10,479.70 470.90,484.30 472.80,473.30 474.60,464.10" fill="none" stroke="#b0d0a6" stroke-width="0.85" stroke-linejoin="round"/>
<line x1="394.1" y1="501.8" x2="394.1" y2="511.5" stroke="#bcbcc0" stroke-width="0.8"/>
<line x1="402.4" y1="501.8" x2="402.4" y2="511.5" stroke="#bcbcc0" stroke-width="0.8"/>
<line x1="415.2" y1="501.8" x2="415.2" y2="511.5" stroke="#bcbcc0" stroke-width="0.8"/>
<line x1="421.6" y1="501.8" x2="421.6" y2="511.5" stroke="#bcbcc0" stroke-width="0.8"/>
<line x1="445.3" y1="501.8" x2="445.3" y2="511.5" stroke="#bcbcc0" stroke-width="0.8"/>
<line x1="449.9" y1="501.8" x2="449.9" y2="511.5" stroke="#bcbcc0" stroke-width="0.8"/>
<line x1="454.5" y1="501.8" x2="454.5" y2="511.5" stroke="#bcbcc0" stroke-width="0.8"/>
<line x1="458.1" y1="501.8" x2="458.1" y2="511.5" stroke="#909090" stroke-width="0.8"/>
<line x1="460" y1="501.8" x2="460" y2="511.5" stroke="#a0a0a0" stroke-width="0.8"/>
<line x1="466.4" y1="501.8" x2="466.4" y2="511.5" stroke="#bcbcc0" stroke-width="0.8"/>
<line x1="473.7" y1="501.8" x2="473.7" y2="511.5" stroke="#909090" stroke-width="0.8"/>
<linearGradient id="cb862" gradientUnits="userSpaceOnUse" x1="389.6" x2="475.2" y1="0" y2="0"><stop offset="0.0000" stop-color="#e02828"/><stop offset="0.1086" stop-color="#e02828"/><stop offset="0.1250" stop-color="#f08080"/><stop offset="0.1519" stop-color="#f08080"/><stop offset="0.1682" stop-color="#f4d8dc"/><stop offset="0.2056" stop-color="#f0eef6"/><stop offset="0.2220" stop-color="#b0d0ec"/><stop offset="0.2804" stop-color="#b0d0ec"/><stop offset="0.2967" stop-color="#10a6d0"/><stop offset="0.6215" stop-color="#10a6d0"/><stop offset="0.6379" stop-color="#0a80c0"/><stop offset="0.8773" stop-color="#0a80c0"/><stop offset="0.8937" stop-color="#0a5a98"/><stop offset="1.0000" stop-color="#0a5a98"/></linearGradient>
<rect x="389.6" y="512.2" width="85.59999999999997" height="4.0" fill="url(#cb862)"/>
<polygon points="390.10,535.50 390.10,525.18 390.12,525.22 390.17,525.30 390.23,525.42 390.30,525.56 390.38,525.72 390.48,525.90 390.59,526.11 390.70,526.33 390.83,526.56 390.96,526.82 391.10,527.09 391.25,527.37 391.41,527.67 391.58,527.84 391.75,527.99 391.93,528.16 392.12,528.32 392.31,528.50 392.51,528.68 392.71,528.87 392.93,528.98 393.14,529.08 393.37,529.19 393.60,529.29 393.84,529.40 394.08,529.51 394.32,529.63 394.58,529.74 394.84,529.86 395.10,529.98 395.37,530.11 395.64,530.24 395.92,530.37 396.21,530.50 396.50,530.63 396.79,530.77 397.09,530.91 397.40,530.97 397.71,531.01 398.02,531.06 398.34,531.10 398.67,531.14 399.00,531.19 399.33,531.23 399.67,531.28 400.01,531.33 400.36,531.37 400.71,531.42 401.06,531.47 401.42,531.52 401.79,531.57 402.16,531.62 402.53,531.67 402.91,531.72 403.29,531.77 403.67,531.82 404.06,531.88 404.46,531.93 404.86,531.98 405.26,532.04 405.67,532.09 406.08,532.15 406.49,532.21 406.91,532.26 407.33,532.29 407.76,532.32 408.19,532.35 408.62,532.38 409.06,532.41 409.50,532.44 409.94,532.47 410.39,532.50 410.85,532.53 411.30,532.56 411.76,532.59 412.23,532.62 412.70,532.65 413.17,532.69 413.64,532.72 414.12,532.75 414.60,532.78 415.09,532.82 415.58,532.85 416.07,532.88 416.57,532.92 417.07,532.95 417.57,532.98 418.08,533.00 418.59,533.02 419.10,533.04 419.62,533.06 420.14,533.08 420.66,533.10 421.19,533.12 421.72,533.14 422.26,533.16 422.79,533.19 423.33,533.21 423.88,533.23 424.43,533.25 424.98,533.27 425.53,533.29 426.09,533.31 426.65,533.34 427.21,533.36 427.78,533.38 428.35,533.40 428.92,533.42 429.50,533.45 430.08,533.47 430.66,533.49 431.25,533.51 431.84,533.54 432.43,533.56 433.03,533.58 433.63,533.61 434.23,533.63 434.83,533.65 435.44,533.68 436.05,533.70 435.82,535.50" fill="#b2b2b2"/>
<polyline points="390.10,525.18 390.12,525.22 390.17,525.30 390.23,525.42 390.30,525.56 390.38,525.72 390.48,525.90 390.59,526.11 390.70,526.33 390.83,526.56 390.96,526.82 391.10,527.09 391.25,527.37 391.41,527.67 391.58,527.84 391.75,527.99 391.93,528.16 392.12,528.32 392.31,528.50 392.51,528.68 392.71,528.87 392.93,528.98 393.14,529.08 393.37,529.19 393.60,529.29 393.84,529.40 394.08,529.51 394.32,529.63 394.58,529.74 394.84,529.86 395.10,529.98 395.37,530.11 395.64,530.24 395.92,530.37 396.21,530.50 396.50,530.63 396.79,530.77 397.09,530.91 397.40,530.97 397.71,531.01 398.02,531.06 398.34,531.10 398.67,531.14 399.00,531.19 399.33,531.23 399.67,531.28 400.01,531.33 400.36,531.37 400.71,531.42 401.06,531.47 401.42,531.52 401.79,531.57 402.16,531.62 402.53,531.67 402.91,531.72 403.29,531.77 403.67,531.82 404.06,531.88 404.46,531.93 404.86,531.98 405.26,532.04 405.67,532.09 406.08,532.15 406.49,532.21 406.91,532.26 407.33,532.29 407.76,532.32 408.19,532.35 408.62,532.38 409.06,532.41 409.50,532.44 409.94,532.47 410.39,532.50 410.85,532.53 411.30,532.56 411.76,532.59 412.23,532.62 412.70,532.65 413.17,532.69 413.64,532.72 414.12,532.75 414.60,532.78 415.09,532.82 415.58,532.85 416.07,532.88 416.57,532.92 417.07,532.95 417.57,532.98 418.08,533.00 418.59,533.02 419.10,533.04 419.62,533.06 420.14,533.08 420.66,533.10 421.19,533.12 421.72,533.14 422.26,533.16 422.79,533.19 423.33,533.21 423.88,533.23 424.43,533.25 424.98,533.27 425.53,533.29 426.09,533.31 426.65,533.34 427.21,533.36 427.78,533.38 428.35,533.40 428.92,533.42 429.50,533.45 430.08,533.47 430.66,533.49 431.25,533.51 431.84,533.54 432.43,533.56 433.03,533.58 433.63,533.61 434.23,533.63 434.83,533.65 435.44,533.68 436.05,533.70" fill="none" stroke="#9a9a9a" stroke-width="0.5" stroke-linejoin="round"/>
<polygon points="435.82,535.50 435.82,537.00 436.15,537.00 436.48,537.01 436.81,537.01 437.14,537.02 437.46,537.03 437.79,537.03 438.12,537.04 438.45,537.05 438.78,537.05 439.11,537.06 439.43,537.07 439.76,537.07 440.09,537.08 440.42,537.08 440.75,537.09 441.07,537.10 441.40,537.10 441.73,537.11 442.06,537.12 442.39,537.12 442.71,537.13 443.04,537.14 443.37,537.14 443.70,537.15 444.03,537.15 444.36,537.16 444.68,537.17 445.01,537.17 445.34,537.18 445.67,537.19 446.00,537.19 446.32,537.20 446.65,537.21 446.98,537.21 447.31,537.22 447.64,537.23 447.96,537.24 448.29,537.25 448.62,537.26 448.95,537.28 449.28,537.29 449.61,537.30 449.93,537.31 450.26,537.33 450.59,537.34 450.92,537.35 451.25,537.37 451.57,537.38 451.90,537.39 452.23,537.40 452.56,537.42 452.89,537.43 453.22,537.44 453.54,537.46 453.87,537.47 454.20,537.48 454.53,537.49 454.86,537.51 455.18,537.52 455.51,537.53 455.84,537.54 456.17,537.56 456.50,537.57 456.82,537.58 457.15,537.60 457.48,537.61 457.81,537.62 458.14,537.63 458.47,537.65 458.79,537.66 459.12,537.67 459.45,537.68 459.78,537.72 460.11,537.75 460.43,537.78 460.76,537.81 461.09,537.84 461.42,537.87 461.75,537.90 462.07,537.93 462.40,537.96 462.73,537.99 463.06,538.02 463.39,538.05 463.72,538.08 464.04,538.11 464.37,538.14 464.70,538.18 465.03,538.21 465.36,538.24 465.68,538.27 466.01,538.30 466.34,538.33 466.67,538.36 467.00,538.39 467.32,538.42 467.65,538.45 467.98,538.48 468.31,538.51 468.64,538.54 468.97,538.57 469.29,538.61 469.62,538.70 469.95,538.80 470.28,538.89 470.61,538.99 470.93,539.08 471.26,539.18 471.59,539.28 471.92,539.37 472.25,539.47 472.57,539.56 472.90,539.66 473.23,539.75 473.56,540.04 473.89,540.33 474.22,540.62 474.54,540.90 474.87,541.19 475.20,541.48 475.20,535.50" fill="#b2b2b2"/>
<polyline points="435.82,537.00 436.15,537.00 436.48,537.01 436.81,537.01 437.14,537.02 437.46,537.03 437.79,537.03 438.12,537.04 438.45,537.05 438.78,537.05 439.11,537.06 439.43,537.07 439.76,537.07 440.09,537.08 440.42,537.08 440.75,537.09 441.07,537.10 441.40,537.10 441.73,537.11 442.06,537.12 442.39,537.12 442.71,537.13 443.04,537.14 443.37,537.14 443.70,537.15 444.03,537.15 444.36,537.16 444.68,537.17 445.01,537.17 445.34,537.18 445.67,537.19 446.00,537.19 446.32,537.20 446.65,537.21 446.98,537.21 447.31,537.22 447.64,537.23 447.96,537.24 448.29,537.25 448.62,537.26 448.95,537.28 449.28,537.29 449.61,537.30 449.93,537.31 450.26,537.33 450.59,537.34 450.92,537.35 451.25,537.37 451.57,537.38 451.90,537.39 452.23,537.40 452.56,537.42 452.89,537.43 453.22,537.44 453.54,537.46 453.87,537.47 454.20,537.48 454.53,537.49 454.86,537.51 455.18,537.52 455.51,537.53 455.84,537.54 456.17,537.56 456.50,537.57 456.82,537.58 457.15,537.60 457.48,537.61 457.81,537.62 458.14,537.63 458.47,537.65 458.79,537.66 459.12,537.67 459.45,537.68 459.78,537.72 460.11,537.75 460.43,537.78 460.76,537.81 461.09,537.84 461.42,537.87 461.75,537.90 462.07,537.93 462.40,537.96 462.73,537.99 463.06,538.02 463.39,538.05 463.72,538.08 464.04,538.11 464.37,538.14 464.70,538.18 465.03,538.21 465.36,538.24 465.68,538.27 466.01,538.30 466.34,538.33 466.67,538.36 467.00,538.39 467.32,538.42 467.65,538.45 467.98,538.48 468.31,538.51 468.64,538.54 468.97,538.57 469.29,538.61 469.62,538.70 469.95,538.80 470.28,538.89 470.61,538.99 470.93,539.08 471.26,539.18 471.59,539.28 471.92,539.37 472.25,539.47 472.57,539.56 472.90,539.66 473.23,539.75 473.56,540.04 473.89,540.33 474.22,540.62 474.54,540.90 474.87,541.19 475.20,541.48" fill="none" stroke="#9a9a9a" stroke-width="0.5" stroke-linejoin="round"/>
<line x1="387.8" y1="519.1" x2="389.6" y2="519.1" stroke="#333" stroke-width="0.8"/>
<text x="385.70000000000005" y="520.5500000000001" font-size="4.2" text-anchor="end" font-weight="normal" font-style="normal" fill="#3a3a3a" stroke="#3a3a3a" stroke-width="0.076">3</text>
<line x1="387.8" y1="524.9" x2="389.6" y2="524.9" stroke="#333" stroke-width="0.8"/>
<text x="385.70000000000005" y="526.35" font-size="4.2" text-anchor="end" font-weight="normal" font-style="normal" fill="#3a3a3a" stroke="#3a3a3a" stroke-width="0.076">2</text>
<line x1="387.8" y1="530.3" x2="389.6" y2="530.3" stroke="#333" stroke-width="0.8"/>
<text x="385.70000000000005" y="531.75" font-size="4.2" text-anchor="end" font-weight="normal" font-style="normal" fill="#3a3a3a" stroke="#3a3a3a" stroke-width="0.076">1</text>
<line x1="387.8" y1="535.8" x2="389.6" y2="535.8" stroke="#333" stroke-width="0.8"/>
<text x="385.70000000000005" y="537.25" font-size="4.2" text-anchor="end" font-weight="normal" font-style="normal" fill="#3a3a3a" stroke="#3a3a3a" stroke-width="0.076">0</text>
<line x1="387.8" y1="541.7" x2="389.6" y2="541.7" stroke="#333" stroke-width="0.8"/>
<text x="385.70000000000005" y="543.1500000000001" font-size="4.2" text-anchor="end" font-weight="normal" font-style="normal" fill="#3a3a3a" stroke="#3a3a3a" stroke-width="0.076">&#8722;1</text>
<line x1="389.6" y1="459.5" x2="389.6" y2="545.9" stroke="#2e2e2e" stroke-width="1"/>
<line x1="389.1" y1="545.4" x2="475.59999999999997" y2="545.4" stroke="#2e2e2e" stroke-width="1"/>
<line x1="412.8" y1="545.4" x2="412.8" y2="547.1" stroke="#333" stroke-width="0.8"/>
<text x="412.8" y="552.4" font-size="4.9" text-anchor="middle" font-weight="normal" font-style="normal" fill="#606060" stroke="#606060" stroke-width="0.088" textLength="7.6" lengthAdjust="spacingAndGlyphs">250</text>
<line x1="435.7" y1="545.4" x2="435.7" y2="547.1" stroke="#333" stroke-width="0.8"/>
<text x="435.7" y="552.4" font-size="4.9" text-anchor="middle" font-weight="normal" font-style="normal" fill="#606060" stroke="#606060" stroke-width="0.088" textLength="7.6" lengthAdjust="spacingAndGlyphs">500</text>
<line x1="458.6" y1="545.4" x2="458.6" y2="547.1" stroke="#333" stroke-width="0.8"/>
<text x="458.6" y="552.4" font-size="4.9" text-anchor="middle" font-weight="normal" font-style="normal" fill="#606060" stroke="#606060" stroke-width="0.088" textLength="7.6" lengthAdjust="spacingAndGlyphs">750</text>
<text x="435.824" y="525.1" font-size="4.4" fill="#2a2a2a" stroke="#2a2a2a" stroke-width="0.12"><tspan font-style="italic">P adjust</tspan>: .046</text>
<text x="435.824" y="530.5" font-size="4.4" text-anchor="start" font-weight="normal" font-style="normal" fill="#2a2a2a" stroke="#2a2a2a" stroke-width="0.079">NES: &#8722;1.95</text>
<rect x="0.5" y="0.5" width="519" height="566" fill="none" stroke="#444" stroke-width="1"/>
</svg>
</body></html>
